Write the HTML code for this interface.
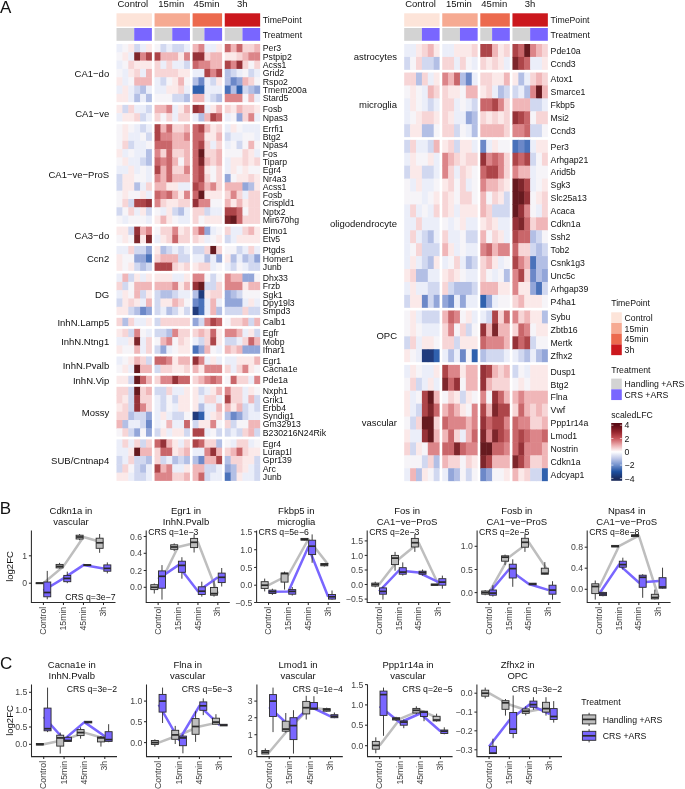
<!DOCTYPE html>
<html lang="en"><head><meta charset="utf-8"><title>Figure</title>
<style>html,body{margin:0;padding:0;background:#fff}svg{display:block;will-change:transform}</style></head>
<body>
<svg width="685" height="789" viewBox="0 0 685 789" font-family='"Liberation Sans", Arial, Helvetica, sans-serif' fill="#111">
<rect width="685" height="789" fill="#fff"/>
<g shape-rendering="crispEdges">
</g>
<text x="132.8" y="7.2" font-size="9.5" text-anchor="middle">Control</text>
<rect x="116.5" y="13.3" width="35.4" height="13.3" fill="#fde4d9"/>
<rect x="116.5" y="28" width="17.7" height="12.8" fill="#d3d3d3"/>
<rect x="134.2" y="28" width="17.7" height="12.8" fill="#7966ff"/>
<text x="171.25" y="7.2" font-size="9.5" text-anchor="middle">15min</text>
<rect x="154.55" y="13.3" width="35.4" height="13.3" fill="#f6aa92"/>
<rect x="154.55" y="28" width="17.7" height="12.8" fill="#d3d3d3"/>
<rect x="172.25" y="28" width="17.7" height="12.8" fill="#7966ff"/>
<text x="206.55" y="7.2" font-size="9.5" text-anchor="middle">45min</text>
<rect x="192.6" y="13.3" width="29.5" height="13.3" fill="#ec6a4e"/>
<rect x="192.6" y="28" width="11.8" height="12.8" fill="#d3d3d3"/>
<rect x="204.4" y="28" width="17.7" height="12.8" fill="#7966ff"/>
<text x="242.25" y="7.2" font-size="9.5" text-anchor="middle">3h</text>
<rect x="224.75" y="13.3" width="35.4" height="13.3" fill="#cb181d"/>
<rect x="224.75" y="28" width="17.7" height="12.8" fill="#d3d3d3"/>
<rect x="242.45" y="28" width="17.7" height="12.8" fill="#7966ff"/>
<text x="262.8" y="23.2" font-size="8.7">TimePoint</text>
<text x="262.8" y="37.6" font-size="8.7">Treatment</text>
<rect x="116.5" y="44" width="6.4" height="8.81" fill="#ebeef9"/>
<rect x="122.4" y="44" width="6.4" height="8.81" fill="#f6f4f8"/>
<rect x="128.3" y="44" width="6.4" height="8.81" fill="#fbe9e9"/>
<rect x="134.2" y="44" width="6.4" height="8.81" fill="#d1d8f0"/>
<rect x="140.1" y="44" width="6.4" height="8.81" fill="#ebeef9"/>
<rect x="146" y="44" width="5.9" height="8.81" fill="#fbe9e9"/>
<rect x="154.55" y="44" width="6.4" height="8.81" fill="#f6f4f8"/>
<rect x="160.45" y="44" width="6.4" height="8.81" fill="#d1d8f0"/>
<rect x="166.35" y="44" width="6.4" height="8.81" fill="#ebeef9"/>
<rect x="172.25" y="44" width="6.4" height="8.81" fill="#d1d8f0"/>
<rect x="178.15" y="44" width="6.4" height="8.81" fill="#d1d8f0"/>
<rect x="184.05" y="44" width="5.9" height="8.81" fill="#ebeef9"/>
<rect x="192.6" y="44" width="6.4" height="8.81" fill="#f0b6b8"/>
<rect x="198.5" y="44" width="6.4" height="8.81" fill="#dc8589"/>
<rect x="204.4" y="44" width="6.4" height="8.81" fill="#ebeef9"/>
<rect x="210.3" y="44" width="6.4" height="8.81" fill="#ebeef9"/>
<rect x="216.2" y="44" width="5.9" height="8.81" fill="#fbe9e9"/>
<rect x="224.75" y="44" width="6.4" height="8.81" fill="#c9666a"/>
<rect x="230.65" y="44" width="6.4" height="8.81" fill="#f0b6b8"/>
<rect x="236.55" y="44" width="6.4" height="8.81" fill="#c9666a"/>
<rect x="242.45" y="44" width="6.4" height="8.81" fill="#f7d5d6"/>
<rect x="248.35" y="44" width="6.4" height="8.81" fill="#f7d5d6"/>
<rect x="254.25" y="44" width="5.9" height="8.81" fill="#f0b6b8"/>
<text x="262.8" y="51.45" font-size="8.7">Per3</text>
<rect x="116.5" y="52.31" width="6.4" height="8.81" fill="#f6f4f8"/>
<rect x="122.4" y="52.31" width="6.4" height="8.81" fill="#fbe9e9"/>
<rect x="128.3" y="52.31" width="6.4" height="8.81" fill="#ebeef9"/>
<rect x="134.2" y="52.31" width="6.4" height="8.81" fill="#7e262b"/>
<rect x="140.1" y="52.31" width="6.4" height="8.81" fill="#dc8589"/>
<rect x="146" y="52.31" width="5.9" height="8.81" fill="#ad4549"/>
<rect x="154.55" y="52.31" width="6.4" height="8.81" fill="#ad4549"/>
<rect x="160.45" y="52.31" width="6.4" height="8.81" fill="#f0b6b8"/>
<rect x="166.35" y="52.31" width="6.4" height="8.81" fill="#f0b6b8"/>
<rect x="172.25" y="52.31" width="6.4" height="8.81" fill="#f0b6b8"/>
<rect x="178.15" y="52.31" width="6.4" height="8.81" fill="#fbe9e9"/>
<rect x="184.05" y="52.31" width="5.9" height="8.81" fill="#dc8589"/>
<rect x="192.6" y="52.31" width="6.4" height="8.81" fill="#963238"/>
<rect x="198.5" y="52.31" width="6.4" height="8.81" fill="#963238"/>
<rect x="204.4" y="52.31" width="6.4" height="8.81" fill="#f7d5d6"/>
<rect x="210.3" y="52.31" width="6.4" height="8.81" fill="#f0b6b8"/>
<rect x="216.2" y="52.31" width="5.9" height="8.81" fill="#f0b6b8"/>
<rect x="224.75" y="52.31" width="6.4" height="8.81" fill="#fbe9e9"/>
<rect x="230.65" y="52.31" width="6.4" height="8.81" fill="#fbe9e9"/>
<rect x="236.55" y="52.31" width="6.4" height="8.81" fill="#f7d5d6"/>
<rect x="242.45" y="52.31" width="6.4" height="8.81" fill="#f0b6b8"/>
<rect x="248.35" y="52.31" width="6.4" height="8.81" fill="#dc8589"/>
<rect x="254.25" y="52.31" width="5.9" height="8.81" fill="#dc8589"/>
<text x="262.8" y="59.77" font-size="8.7">Pstpip2</text>
<rect x="116.5" y="60.62" width="6.4" height="8.81" fill="#ebeef9"/>
<rect x="122.4" y="60.62" width="6.4" height="8.81" fill="#f6f4f8"/>
<rect x="128.3" y="60.62" width="6.4" height="8.81" fill="#f7d5d6"/>
<rect x="134.2" y="60.62" width="6.4" height="8.81" fill="#fbe9e9"/>
<rect x="140.1" y="60.62" width="6.4" height="8.81" fill="#fbe9e9"/>
<rect x="146" y="60.62" width="5.9" height="8.81" fill="#fbe9e9"/>
<rect x="154.55" y="60.62" width="6.4" height="8.81" fill="#f7d5d6"/>
<rect x="160.45" y="60.62" width="6.4" height="8.81" fill="#ebeef9"/>
<rect x="166.35" y="60.62" width="6.4" height="8.81" fill="#f7d5d6"/>
<rect x="172.25" y="60.62" width="6.4" height="8.81" fill="#ebeef9"/>
<rect x="178.15" y="60.62" width="6.4" height="8.81" fill="#ebeef9"/>
<rect x="184.05" y="60.62" width="5.9" height="8.81" fill="#d1d8f0"/>
<rect x="192.6" y="60.62" width="6.4" height="8.81" fill="#c9666a"/>
<rect x="198.5" y="60.62" width="6.4" height="8.81" fill="#dc8589"/>
<rect x="204.4" y="60.62" width="6.4" height="8.81" fill="#dc8589"/>
<rect x="210.3" y="60.62" width="6.4" height="8.81" fill="#f0b6b8"/>
<rect x="216.2" y="60.62" width="5.9" height="8.81" fill="#f0b6b8"/>
<rect x="224.75" y="60.62" width="6.4" height="8.81" fill="#ad4549"/>
<rect x="230.65" y="60.62" width="6.4" height="8.81" fill="#dc8589"/>
<rect x="236.55" y="60.62" width="6.4" height="8.81" fill="#963238"/>
<rect x="242.45" y="60.62" width="6.4" height="8.81" fill="#f7d5d6"/>
<rect x="248.35" y="60.62" width="6.4" height="8.81" fill="#f6f4f8"/>
<rect x="254.25" y="60.62" width="5.9" height="8.81" fill="#f7d5d6"/>
<text x="262.8" y="68.08" font-size="8.7">Acss1</text>
<rect x="116.5" y="68.93" width="6.4" height="8.81" fill="#f6f4f8"/>
<rect x="122.4" y="68.93" width="6.4" height="8.81" fill="#ebeef9"/>
<rect x="128.3" y="68.93" width="6.4" height="8.81" fill="#fbe9e9"/>
<rect x="134.2" y="68.93" width="6.4" height="8.81" fill="#f7d5d6"/>
<rect x="140.1" y="68.93" width="6.4" height="8.81" fill="#ebeef9"/>
<rect x="146" y="68.93" width="5.9" height="8.81" fill="#f0b6b8"/>
<rect x="154.55" y="68.93" width="6.4" height="8.81" fill="#f7d5d6"/>
<rect x="160.45" y="68.93" width="6.4" height="8.81" fill="#f7d5d6"/>
<rect x="166.35" y="68.93" width="6.4" height="8.81" fill="#f7d5d6"/>
<rect x="172.25" y="68.93" width="6.4" height="8.81" fill="#f7d5d6"/>
<rect x="178.15" y="68.93" width="6.4" height="8.81" fill="#fbe9e9"/>
<rect x="184.05" y="68.93" width="5.9" height="8.81" fill="#fbe9e9"/>
<rect x="192.6" y="68.93" width="6.4" height="8.81" fill="#ebeef9"/>
<rect x="198.5" y="68.93" width="6.4" height="8.81" fill="#ebeef9"/>
<rect x="204.4" y="68.93" width="6.4" height="8.81" fill="#ad4549"/>
<rect x="210.3" y="68.93" width="6.4" height="8.81" fill="#dc8589"/>
<rect x="216.2" y="68.93" width="5.9" height="8.81" fill="#ad4549"/>
<rect x="224.75" y="68.93" width="6.4" height="8.81" fill="#b3bfe5"/>
<rect x="230.65" y="68.93" width="6.4" height="8.81" fill="#d1d8f0"/>
<rect x="236.55" y="68.93" width="6.4" height="8.81" fill="#ebeef9"/>
<rect x="242.45" y="68.93" width="6.4" height="8.81" fill="#f6f4f8"/>
<rect x="248.35" y="68.93" width="6.4" height="8.81" fill="#d1d8f0"/>
<rect x="254.25" y="68.93" width="5.9" height="8.81" fill="#ebeef9"/>
<text x="262.8" y="76.39" font-size="8.7">Grid2</text>
<rect x="116.5" y="77.24" width="6.4" height="8.81" fill="#fbe9e9"/>
<rect x="122.4" y="77.24" width="6.4" height="8.81" fill="#ebeef9"/>
<rect x="128.3" y="77.24" width="6.4" height="8.81" fill="#f6f4f8"/>
<rect x="134.2" y="77.24" width="6.4" height="8.81" fill="#f0b6b8"/>
<rect x="140.1" y="77.24" width="6.4" height="8.81" fill="#f0b6b8"/>
<rect x="146" y="77.24" width="5.9" height="8.81" fill="#f0b6b8"/>
<rect x="154.55" y="77.24" width="6.4" height="8.81" fill="#ebeef9"/>
<rect x="160.45" y="77.24" width="6.4" height="8.81" fill="#d1d8f0"/>
<rect x="166.35" y="77.24" width="6.4" height="8.81" fill="#f6f4f8"/>
<rect x="172.25" y="77.24" width="6.4" height="8.81" fill="#fbe9e9"/>
<rect x="178.15" y="77.24" width="6.4" height="8.81" fill="#f0b6b8"/>
<rect x="184.05" y="77.24" width="5.9" height="8.81" fill="#f6f4f8"/>
<rect x="192.6" y="77.24" width="6.4" height="8.81" fill="#b3bfe5"/>
<rect x="198.5" y="77.24" width="6.4" height="8.81" fill="#6c88c8"/>
<rect x="204.4" y="77.24" width="6.4" height="8.81" fill="#ebeef9"/>
<rect x="210.3" y="77.24" width="6.4" height="8.81" fill="#d1d8f0"/>
<rect x="216.2" y="77.24" width="5.9" height="8.81" fill="#fbe9e9"/>
<rect x="224.75" y="77.24" width="6.4" height="8.81" fill="#b3bfe5"/>
<rect x="230.65" y="77.24" width="6.4" height="8.81" fill="#6c88c8"/>
<rect x="236.55" y="77.24" width="6.4" height="8.81" fill="#93a6d9"/>
<rect x="242.45" y="77.24" width="6.4" height="8.81" fill="#f0b6b8"/>
<rect x="248.35" y="77.24" width="6.4" height="8.81" fill="#f7d5d6"/>
<rect x="254.25" y="77.24" width="5.9" height="8.81" fill="#f6f4f8"/>
<text x="262.8" y="84.7" font-size="8.7">Rspo2</text>
<rect x="116.5" y="85.55" width="6.4" height="8.81" fill="#ebeef9"/>
<rect x="122.4" y="85.55" width="6.4" height="8.81" fill="#fbe9e9"/>
<rect x="128.3" y="85.55" width="6.4" height="8.81" fill="#ebeef9"/>
<rect x="134.2" y="85.55" width="6.4" height="8.81" fill="#d1d8f0"/>
<rect x="140.1" y="85.55" width="6.4" height="8.81" fill="#b3bfe5"/>
<rect x="146" y="85.55" width="5.9" height="8.81" fill="#ebeef9"/>
<rect x="154.55" y="85.55" width="6.4" height="8.81" fill="#ebeef9"/>
<rect x="160.45" y="85.55" width="6.4" height="8.81" fill="#ebeef9"/>
<rect x="166.35" y="85.55" width="6.4" height="8.81" fill="#fbe9e9"/>
<rect x="172.25" y="85.55" width="6.4" height="8.81" fill="#fbe9e9"/>
<rect x="178.15" y="85.55" width="6.4" height="8.81" fill="#f7d5d6"/>
<rect x="184.05" y="85.55" width="5.9" height="8.81" fill="#ebeef9"/>
<rect x="192.6" y="85.55" width="6.4" height="8.81" fill="#3061ae"/>
<rect x="198.5" y="85.55" width="6.4" height="8.81" fill="#3061ae"/>
<rect x="204.4" y="85.55" width="6.4" height="8.81" fill="#ebeef9"/>
<rect x="210.3" y="85.55" width="6.4" height="8.81" fill="#ebeef9"/>
<rect x="216.2" y="85.55" width="5.9" height="8.81" fill="#ebeef9"/>
<rect x="224.75" y="85.55" width="6.4" height="8.81" fill="#4a72ba"/>
<rect x="230.65" y="85.55" width="6.4" height="8.81" fill="#b3bfe5"/>
<rect x="236.55" y="85.55" width="6.4" height="8.81" fill="#3061ae"/>
<rect x="242.45" y="85.55" width="6.4" height="8.81" fill="#d1d8f0"/>
<rect x="248.35" y="85.55" width="6.4" height="8.81" fill="#b3bfe5"/>
<rect x="254.25" y="85.55" width="5.9" height="8.81" fill="#93a6d9"/>
<text x="262.8" y="93.01" font-size="8.7">Tmem200a</text>
<rect x="116.5" y="93.86" width="6.4" height="8.31" fill="#fbe9e9"/>
<rect x="122.4" y="93.86" width="6.4" height="8.31" fill="#fbe9e9"/>
<rect x="128.3" y="93.86" width="6.4" height="8.31" fill="#ebeef9"/>
<rect x="134.2" y="93.86" width="6.4" height="8.31" fill="#b3bfe5"/>
<rect x="140.1" y="93.86" width="6.4" height="8.31" fill="#ebeef9"/>
<rect x="146" y="93.86" width="5.9" height="8.31" fill="#b3bfe5"/>
<rect x="154.55" y="93.86" width="6.4" height="8.31" fill="#f6f4f8"/>
<rect x="160.45" y="93.86" width="6.4" height="8.31" fill="#f6f4f8"/>
<rect x="166.35" y="93.86" width="6.4" height="8.31" fill="#f6f4f8"/>
<rect x="172.25" y="93.86" width="6.4" height="8.31" fill="#d1d8f0"/>
<rect x="178.15" y="93.86" width="6.4" height="8.31" fill="#d1d8f0"/>
<rect x="184.05" y="93.86" width="5.9" height="8.31" fill="#b3bfe5"/>
<rect x="192.6" y="93.86" width="6.4" height="8.31" fill="#f0b6b8"/>
<rect x="198.5" y="93.86" width="6.4" height="8.31" fill="#f0b6b8"/>
<rect x="204.4" y="93.86" width="6.4" height="8.31" fill="#ebeef9"/>
<rect x="210.3" y="93.86" width="6.4" height="8.31" fill="#d1d8f0"/>
<rect x="216.2" y="93.86" width="5.9" height="8.31" fill="#b3bfe5"/>
<rect x="224.75" y="93.86" width="6.4" height="8.31" fill="#dc8589"/>
<rect x="230.65" y="93.86" width="6.4" height="8.31" fill="#dc8589"/>
<rect x="236.55" y="93.86" width="6.4" height="8.31" fill="#dc8589"/>
<rect x="242.45" y="93.86" width="6.4" height="8.31" fill="#f6f4f8"/>
<rect x="248.35" y="93.86" width="6.4" height="8.31" fill="#f0b6b8"/>
<rect x="254.25" y="93.86" width="5.9" height="8.31" fill="#ebeef9"/>
<text x="262.8" y="101.32" font-size="8.7">Stard5</text>
<text x="109.2" y="76.89" font-size="9.5" text-anchor="end">CA1−do</text>
<rect x="116.5" y="104.87" width="6.4" height="8.81" fill="#fbe9e9"/>
<rect x="122.4" y="104.87" width="6.4" height="8.81" fill="#d1d8f0"/>
<rect x="128.3" y="104.87" width="6.4" height="8.81" fill="#f7d5d6"/>
<rect x="134.2" y="104.87" width="6.4" height="8.81" fill="#ebeef9"/>
<rect x="140.1" y="104.87" width="6.4" height="8.81" fill="#ebeef9"/>
<rect x="146" y="104.87" width="5.9" height="8.81" fill="#d1d8f0"/>
<rect x="154.55" y="104.87" width="6.4" height="8.81" fill="#f0b6b8"/>
<rect x="160.45" y="104.87" width="6.4" height="8.81" fill="#f0b6b8"/>
<rect x="166.35" y="104.87" width="6.4" height="8.81" fill="#dc8589"/>
<rect x="172.25" y="104.87" width="6.4" height="8.81" fill="#ebeef9"/>
<rect x="178.15" y="104.87" width="6.4" height="8.81" fill="#fbe9e9"/>
<rect x="184.05" y="104.87" width="5.9" height="8.81" fill="#f0b6b8"/>
<rect x="192.6" y="104.87" width="6.4" height="8.81" fill="#963238"/>
<rect x="198.5" y="104.87" width="6.4" height="8.81" fill="#ad4549"/>
<rect x="204.4" y="104.87" width="6.4" height="8.81" fill="#ebeef9"/>
<rect x="210.3" y="104.87" width="6.4" height="8.81" fill="#fbe9e9"/>
<rect x="216.2" y="104.87" width="5.9" height="8.81" fill="#f0b6b8"/>
<rect x="224.75" y="104.87" width="6.4" height="8.81" fill="#f7d5d6"/>
<rect x="230.65" y="104.87" width="6.4" height="8.81" fill="#fbe9e9"/>
<rect x="236.55" y="104.87" width="6.4" height="8.81" fill="#f0b6b8"/>
<rect x="242.45" y="104.87" width="6.4" height="8.81" fill="#f7d5d6"/>
<rect x="248.35" y="104.87" width="6.4" height="8.81" fill="#f7d5d6"/>
<rect x="254.25" y="104.87" width="5.9" height="8.81" fill="#fbe9e9"/>
<text x="262.8" y="112.33" font-size="8.7">Fosb</text>
<rect x="116.5" y="113.18" width="6.4" height="8.31" fill="#ebeef9"/>
<rect x="122.4" y="113.18" width="6.4" height="8.31" fill="#fbe9e9"/>
<rect x="128.3" y="113.18" width="6.4" height="8.31" fill="#fbe9e9"/>
<rect x="134.2" y="113.18" width="6.4" height="8.31" fill="#f7d5d6"/>
<rect x="140.1" y="113.18" width="6.4" height="8.31" fill="#d1d8f0"/>
<rect x="146" y="113.18" width="5.9" height="8.31" fill="#ebeef9"/>
<rect x="154.55" y="113.18" width="6.4" height="8.31" fill="#f7d5d6"/>
<rect x="160.45" y="113.18" width="6.4" height="8.31" fill="#f6f4f8"/>
<rect x="166.35" y="113.18" width="6.4" height="8.31" fill="#f7d5d6"/>
<rect x="172.25" y="113.18" width="6.4" height="8.31" fill="#ebeef9"/>
<rect x="178.15" y="113.18" width="6.4" height="8.31" fill="#f7d5d6"/>
<rect x="184.05" y="113.18" width="5.9" height="8.31" fill="#f7d5d6"/>
<rect x="192.6" y="113.18" width="6.4" height="8.31" fill="#ebeef9"/>
<rect x="198.5" y="113.18" width="6.4" height="8.31" fill="#b3bfe5"/>
<rect x="204.4" y="113.18" width="6.4" height="8.31" fill="#f0b6b8"/>
<rect x="210.3" y="113.18" width="6.4" height="8.31" fill="#ad4549"/>
<rect x="216.2" y="113.18" width="5.9" height="8.31" fill="#c9666a"/>
<rect x="224.75" y="113.18" width="6.4" height="8.31" fill="#ebeef9"/>
<rect x="230.65" y="113.18" width="6.4" height="8.31" fill="#f6f4f8"/>
<rect x="236.55" y="113.18" width="6.4" height="8.31" fill="#93a6d9"/>
<rect x="242.45" y="113.18" width="6.4" height="8.31" fill="#f7d5d6"/>
<rect x="248.35" y="113.18" width="6.4" height="8.31" fill="#dc8589"/>
<rect x="254.25" y="113.18" width="5.9" height="8.31" fill="#ebeef9"/>
<text x="262.8" y="120.64" font-size="8.7">Npas3</text>
<text x="109.2" y="116.98" font-size="9.5" text-anchor="end">CA1−ve</text>
<rect x="116.5" y="124.19" width="6.4" height="8.81" fill="#f6f4f8"/>
<rect x="122.4" y="124.19" width="6.4" height="8.81" fill="#fbe9e9"/>
<rect x="128.3" y="124.19" width="6.4" height="8.81" fill="#f6f4f8"/>
<rect x="134.2" y="124.19" width="6.4" height="8.81" fill="#ebeef9"/>
<rect x="140.1" y="124.19" width="6.4" height="8.81" fill="#d1d8f0"/>
<rect x="146" y="124.19" width="5.9" height="8.81" fill="#ebeef9"/>
<rect x="154.55" y="124.19" width="6.4" height="8.81" fill="#ad4549"/>
<rect x="160.45" y="124.19" width="6.4" height="8.81" fill="#f0b6b8"/>
<rect x="166.35" y="124.19" width="6.4" height="8.81" fill="#c9666a"/>
<rect x="172.25" y="124.19" width="6.4" height="8.81" fill="#f7d5d6"/>
<rect x="178.15" y="124.19" width="6.4" height="8.81" fill="#f7d5d6"/>
<rect x="184.05" y="124.19" width="5.9" height="8.81" fill="#f0b6b8"/>
<rect x="192.6" y="124.19" width="6.4" height="8.81" fill="#c9666a"/>
<rect x="198.5" y="124.19" width="6.4" height="8.81" fill="#ad4549"/>
<rect x="204.4" y="124.19" width="6.4" height="8.81" fill="#f0b6b8"/>
<rect x="210.3" y="124.19" width="6.4" height="8.81" fill="#fbe9e9"/>
<rect x="216.2" y="124.19" width="5.9" height="8.81" fill="#f7d5d6"/>
<rect x="224.75" y="124.19" width="6.4" height="8.81" fill="#ebeef9"/>
<rect x="230.65" y="124.19" width="6.4" height="8.81" fill="#fbe9e9"/>
<rect x="236.55" y="124.19" width="6.4" height="8.81" fill="#f6f4f8"/>
<rect x="242.45" y="124.19" width="6.4" height="8.81" fill="#ebeef9"/>
<rect x="248.35" y="124.19" width="6.4" height="8.81" fill="#ebeef9"/>
<rect x="254.25" y="124.19" width="5.9" height="8.81" fill="#ebeef9"/>
<text x="262.8" y="131.65" font-size="8.7">Errfi1</text>
<rect x="116.5" y="132.5" width="6.4" height="8.81" fill="#f6f4f8"/>
<rect x="122.4" y="132.5" width="6.4" height="8.81" fill="#fbe9e9"/>
<rect x="128.3" y="132.5" width="6.4" height="8.81" fill="#ebeef9"/>
<rect x="134.2" y="132.5" width="6.4" height="8.81" fill="#ebeef9"/>
<rect x="140.1" y="132.5" width="6.4" height="8.81" fill="#f6f4f8"/>
<rect x="146" y="132.5" width="5.9" height="8.81" fill="#d1d8f0"/>
<rect x="154.55" y="132.5" width="6.4" height="8.81" fill="#ad4549"/>
<rect x="160.45" y="132.5" width="6.4" height="8.81" fill="#dc8589"/>
<rect x="166.35" y="132.5" width="6.4" height="8.81" fill="#dc8589"/>
<rect x="172.25" y="132.5" width="6.4" height="8.81" fill="#f0b6b8"/>
<rect x="178.15" y="132.5" width="6.4" height="8.81" fill="#f0b6b8"/>
<rect x="184.05" y="132.5" width="5.9" height="8.81" fill="#dc8589"/>
<rect x="192.6" y="132.5" width="6.4" height="8.81" fill="#c9666a"/>
<rect x="198.5" y="132.5" width="6.4" height="8.81" fill="#c9666a"/>
<rect x="204.4" y="132.5" width="6.4" height="8.81" fill="#fbe9e9"/>
<rect x="210.3" y="132.5" width="6.4" height="8.81" fill="#fbe9e9"/>
<rect x="216.2" y="132.5" width="5.9" height="8.81" fill="#f0b6b8"/>
<rect x="224.75" y="132.5" width="6.4" height="8.81" fill="#d1d8f0"/>
<rect x="230.65" y="132.5" width="6.4" height="8.81" fill="#ebeef9"/>
<rect x="236.55" y="132.5" width="6.4" height="8.81" fill="#ebeef9"/>
<rect x="242.45" y="132.5" width="6.4" height="8.81" fill="#f6f4f8"/>
<rect x="248.35" y="132.5" width="6.4" height="8.81" fill="#f6f4f8"/>
<rect x="254.25" y="132.5" width="5.9" height="8.81" fill="#ebeef9"/>
<text x="262.8" y="139.96" font-size="8.7">Btg2</text>
<rect x="116.5" y="140.81" width="6.4" height="8.81" fill="#f6f4f8"/>
<rect x="122.4" y="140.81" width="6.4" height="8.81" fill="#f7d5d6"/>
<rect x="128.3" y="140.81" width="6.4" height="8.81" fill="#d1d8f0"/>
<rect x="134.2" y="140.81" width="6.4" height="8.81" fill="#ebeef9"/>
<rect x="140.1" y="140.81" width="6.4" height="8.81" fill="#ebeef9"/>
<rect x="146" y="140.81" width="5.9" height="8.81" fill="#f6f4f8"/>
<rect x="154.55" y="140.81" width="6.4" height="8.81" fill="#c9666a"/>
<rect x="160.45" y="140.81" width="6.4" height="8.81" fill="#c9666a"/>
<rect x="166.35" y="140.81" width="6.4" height="8.81" fill="#c9666a"/>
<rect x="172.25" y="140.81" width="6.4" height="8.81" fill="#f0b6b8"/>
<rect x="178.15" y="140.81" width="6.4" height="8.81" fill="#f0b6b8"/>
<rect x="184.05" y="140.81" width="5.9" height="8.81" fill="#f0b6b8"/>
<rect x="192.6" y="140.81" width="6.4" height="8.81" fill="#c9666a"/>
<rect x="198.5" y="140.81" width="6.4" height="8.81" fill="#ad4549"/>
<rect x="204.4" y="140.81" width="6.4" height="8.81" fill="#f7d5d6"/>
<rect x="210.3" y="140.81" width="6.4" height="8.81" fill="#ebeef9"/>
<rect x="216.2" y="140.81" width="5.9" height="8.81" fill="#f7d5d6"/>
<rect x="224.75" y="140.81" width="6.4" height="8.81" fill="#ebeef9"/>
<rect x="230.65" y="140.81" width="6.4" height="8.81" fill="#f6f4f8"/>
<rect x="236.55" y="140.81" width="6.4" height="8.81" fill="#d1d8f0"/>
<rect x="242.45" y="140.81" width="6.4" height="8.81" fill="#f6f4f8"/>
<rect x="248.35" y="140.81" width="6.4" height="8.81" fill="#f0b6b8"/>
<rect x="254.25" y="140.81" width="5.9" height="8.81" fill="#f6f4f8"/>
<text x="262.8" y="148.27" font-size="8.7">Npas4</text>
<rect x="116.5" y="149.12" width="6.4" height="8.81" fill="#fbe9e9"/>
<rect x="122.4" y="149.12" width="6.4" height="8.81" fill="#ebeef9"/>
<rect x="128.3" y="149.12" width="6.4" height="8.81" fill="#f6f4f8"/>
<rect x="134.2" y="149.12" width="6.4" height="8.81" fill="#ebeef9"/>
<rect x="140.1" y="149.12" width="6.4" height="8.81" fill="#ebeef9"/>
<rect x="146" y="149.12" width="5.9" height="8.81" fill="#b3bfe5"/>
<rect x="154.55" y="149.12" width="6.4" height="8.81" fill="#dc8589"/>
<rect x="160.45" y="149.12" width="6.4" height="8.81" fill="#f7d5d6"/>
<rect x="166.35" y="149.12" width="6.4" height="8.81" fill="#c9666a"/>
<rect x="172.25" y="149.12" width="6.4" height="8.81" fill="#f7d5d6"/>
<rect x="178.15" y="149.12" width="6.4" height="8.81" fill="#f7d5d6"/>
<rect x="184.05" y="149.12" width="5.9" height="8.81" fill="#f0b6b8"/>
<rect x="192.6" y="149.12" width="6.4" height="8.81" fill="#c9666a"/>
<rect x="198.5" y="149.12" width="6.4" height="8.81" fill="#661a1f"/>
<rect x="204.4" y="149.12" width="6.4" height="8.81" fill="#f7d5d6"/>
<rect x="210.3" y="149.12" width="6.4" height="8.81" fill="#f7d5d6"/>
<rect x="216.2" y="149.12" width="5.9" height="8.81" fill="#f0b6b8"/>
<rect x="224.75" y="149.12" width="6.4" height="8.81" fill="#f6f4f8"/>
<rect x="230.65" y="149.12" width="6.4" height="8.81" fill="#f6f4f8"/>
<rect x="236.55" y="149.12" width="6.4" height="8.81" fill="#f6f4f8"/>
<rect x="242.45" y="149.12" width="6.4" height="8.81" fill="#f7d5d6"/>
<rect x="248.35" y="149.12" width="6.4" height="8.81" fill="#fbe9e9"/>
<rect x="254.25" y="149.12" width="5.9" height="8.81" fill="#ebeef9"/>
<text x="262.8" y="156.58" font-size="8.7">Fos</text>
<rect x="116.5" y="157.43" width="6.4" height="8.81" fill="#f6f4f8"/>
<rect x="122.4" y="157.43" width="6.4" height="8.81" fill="#fbe9e9"/>
<rect x="128.3" y="157.43" width="6.4" height="8.81" fill="#ebeef9"/>
<rect x="134.2" y="157.43" width="6.4" height="8.81" fill="#ebeef9"/>
<rect x="140.1" y="157.43" width="6.4" height="8.81" fill="#d1d8f0"/>
<rect x="146" y="157.43" width="5.9" height="8.81" fill="#b3bfe5"/>
<rect x="154.55" y="157.43" width="6.4" height="8.81" fill="#c9666a"/>
<rect x="160.45" y="157.43" width="6.4" height="8.81" fill="#dc8589"/>
<rect x="166.35" y="157.43" width="6.4" height="8.81" fill="#c9666a"/>
<rect x="172.25" y="157.43" width="6.4" height="8.81" fill="#f0b6b8"/>
<rect x="178.15" y="157.43" width="6.4" height="8.81" fill="#f6f4f8"/>
<rect x="184.05" y="157.43" width="5.9" height="8.81" fill="#f0b6b8"/>
<rect x="192.6" y="157.43" width="6.4" height="8.81" fill="#c9666a"/>
<rect x="198.5" y="157.43" width="6.4" height="8.81" fill="#7e262b"/>
<rect x="204.4" y="157.43" width="6.4" height="8.81" fill="#f0b6b8"/>
<rect x="210.3" y="157.43" width="6.4" height="8.81" fill="#f7d5d6"/>
<rect x="216.2" y="157.43" width="5.9" height="8.81" fill="#f0b6b8"/>
<rect x="224.75" y="157.43" width="6.4" height="8.81" fill="#ebeef9"/>
<rect x="230.65" y="157.43" width="6.4" height="8.81" fill="#fbe9e9"/>
<rect x="236.55" y="157.43" width="6.4" height="8.81" fill="#fbe9e9"/>
<rect x="242.45" y="157.43" width="6.4" height="8.81" fill="#f7d5d6"/>
<rect x="248.35" y="157.43" width="6.4" height="8.81" fill="#fbe9e9"/>
<rect x="254.25" y="157.43" width="5.9" height="8.81" fill="#f7d5d6"/>
<text x="262.8" y="164.89" font-size="8.7">Tiparp</text>
<rect x="116.5" y="165.74" width="6.4" height="8.81" fill="#ebeef9"/>
<rect x="122.4" y="165.74" width="6.4" height="8.81" fill="#ebeef9"/>
<rect x="128.3" y="165.74" width="6.4" height="8.81" fill="#fbe9e9"/>
<rect x="134.2" y="165.74" width="6.4" height="8.81" fill="#ebeef9"/>
<rect x="140.1" y="165.74" width="6.4" height="8.81" fill="#f6f4f8"/>
<rect x="146" y="165.74" width="5.9" height="8.81" fill="#ebeef9"/>
<rect x="154.55" y="165.74" width="6.4" height="8.81" fill="#ad4549"/>
<rect x="160.45" y="165.74" width="6.4" height="8.81" fill="#f0b6b8"/>
<rect x="166.35" y="165.74" width="6.4" height="8.81" fill="#c9666a"/>
<rect x="172.25" y="165.74" width="6.4" height="8.81" fill="#f7d5d6"/>
<rect x="178.15" y="165.74" width="6.4" height="8.81" fill="#f7d5d6"/>
<rect x="184.05" y="165.74" width="5.9" height="8.81" fill="#dc8589"/>
<rect x="192.6" y="165.74" width="6.4" height="8.81" fill="#c9666a"/>
<rect x="198.5" y="165.74" width="6.4" height="8.81" fill="#ad4549"/>
<rect x="204.4" y="165.74" width="6.4" height="8.81" fill="#fbe9e9"/>
<rect x="210.3" y="165.74" width="6.4" height="8.81" fill="#f6f4f8"/>
<rect x="216.2" y="165.74" width="5.9" height="8.81" fill="#f7d5d6"/>
<rect x="224.75" y="165.74" width="6.4" height="8.81" fill="#ebeef9"/>
<rect x="230.65" y="165.74" width="6.4" height="8.81" fill="#fbe9e9"/>
<rect x="236.55" y="165.74" width="6.4" height="8.81" fill="#f6f4f8"/>
<rect x="242.45" y="165.74" width="6.4" height="8.81" fill="#fbe9e9"/>
<rect x="248.35" y="165.74" width="6.4" height="8.81" fill="#f6f4f8"/>
<rect x="254.25" y="165.74" width="5.9" height="8.81" fill="#f6f4f8"/>
<text x="262.8" y="173.2" font-size="8.7">Egr4</text>
<rect x="116.5" y="174.05" width="6.4" height="8.81" fill="#d1d8f0"/>
<rect x="122.4" y="174.05" width="6.4" height="8.81" fill="#fbe9e9"/>
<rect x="128.3" y="174.05" width="6.4" height="8.81" fill="#fbe9e9"/>
<rect x="134.2" y="174.05" width="6.4" height="8.81" fill="#f6f4f8"/>
<rect x="140.1" y="174.05" width="6.4" height="8.81" fill="#f6f4f8"/>
<rect x="146" y="174.05" width="5.9" height="8.81" fill="#ebeef9"/>
<rect x="154.55" y="174.05" width="6.4" height="8.81" fill="#dc8589"/>
<rect x="160.45" y="174.05" width="6.4" height="8.81" fill="#f0b6b8"/>
<rect x="166.35" y="174.05" width="6.4" height="8.81" fill="#c9666a"/>
<rect x="172.25" y="174.05" width="6.4" height="8.81" fill="#f0b6b8"/>
<rect x="178.15" y="174.05" width="6.4" height="8.81" fill="#f0b6b8"/>
<rect x="184.05" y="174.05" width="5.9" height="8.81" fill="#f0b6b8"/>
<rect x="192.6" y="174.05" width="6.4" height="8.81" fill="#c9666a"/>
<rect x="198.5" y="174.05" width="6.4" height="8.81" fill="#ad4549"/>
<rect x="204.4" y="174.05" width="6.4" height="8.81" fill="#f7d5d6"/>
<rect x="210.3" y="174.05" width="6.4" height="8.81" fill="#f6f4f8"/>
<rect x="216.2" y="174.05" width="5.9" height="8.81" fill="#f7d5d6"/>
<rect x="224.75" y="174.05" width="6.4" height="8.81" fill="#93a6d9"/>
<rect x="230.65" y="174.05" width="6.4" height="8.81" fill="#f6f4f8"/>
<rect x="236.55" y="174.05" width="6.4" height="8.81" fill="#fbe9e9"/>
<rect x="242.45" y="174.05" width="6.4" height="8.81" fill="#fbe9e9"/>
<rect x="248.35" y="174.05" width="6.4" height="8.81" fill="#f7d5d6"/>
<rect x="254.25" y="174.05" width="5.9" height="8.81" fill="#fbe9e9"/>
<text x="262.8" y="181.51" font-size="8.7">Nr4a3</text>
<rect x="116.5" y="182.36" width="6.4" height="8.81" fill="#d1d8f0"/>
<rect x="122.4" y="182.36" width="6.4" height="8.81" fill="#fbe9e9"/>
<rect x="128.3" y="182.36" width="6.4" height="8.81" fill="#fbe9e9"/>
<rect x="134.2" y="182.36" width="6.4" height="8.81" fill="#b3bfe5"/>
<rect x="140.1" y="182.36" width="6.4" height="8.81" fill="#ebeef9"/>
<rect x="146" y="182.36" width="5.9" height="8.81" fill="#f7d5d6"/>
<rect x="154.55" y="182.36" width="6.4" height="8.81" fill="#f0b6b8"/>
<rect x="160.45" y="182.36" width="6.4" height="8.81" fill="#f0b6b8"/>
<rect x="166.35" y="182.36" width="6.4" height="8.81" fill="#fbe9e9"/>
<rect x="172.25" y="182.36" width="6.4" height="8.81" fill="#fbe9e9"/>
<rect x="178.15" y="182.36" width="6.4" height="8.81" fill="#ebeef9"/>
<rect x="184.05" y="182.36" width="5.9" height="8.81" fill="#ebeef9"/>
<rect x="192.6" y="182.36" width="6.4" height="8.81" fill="#ad4549"/>
<rect x="198.5" y="182.36" width="6.4" height="8.81" fill="#c9666a"/>
<rect x="204.4" y="182.36" width="6.4" height="8.81" fill="#f0b6b8"/>
<rect x="210.3" y="182.36" width="6.4" height="8.81" fill="#dc8589"/>
<rect x="216.2" y="182.36" width="5.9" height="8.81" fill="#f7d5d6"/>
<rect x="224.75" y="182.36" width="6.4" height="8.81" fill="#f0b6b8"/>
<rect x="230.65" y="182.36" width="6.4" height="8.81" fill="#f0b6b8"/>
<rect x="236.55" y="182.36" width="6.4" height="8.81" fill="#f0b6b8"/>
<rect x="242.45" y="182.36" width="6.4" height="8.81" fill="#93a6d9"/>
<rect x="248.35" y="182.36" width="6.4" height="8.81" fill="#b3bfe5"/>
<rect x="254.25" y="182.36" width="5.9" height="8.81" fill="#fbe9e9"/>
<text x="262.8" y="189.82" font-size="8.7">Acss1</text>
<rect x="116.5" y="190.67" width="6.4" height="8.81" fill="#f6f4f8"/>
<rect x="122.4" y="190.67" width="6.4" height="8.81" fill="#fbe9e9"/>
<rect x="128.3" y="190.67" width="6.4" height="8.81" fill="#f6f4f8"/>
<rect x="134.2" y="190.67" width="6.4" height="8.81" fill="#f6f4f8"/>
<rect x="140.1" y="190.67" width="6.4" height="8.81" fill="#fbe9e9"/>
<rect x="146" y="190.67" width="5.9" height="8.81" fill="#ebeef9"/>
<rect x="154.55" y="190.67" width="6.4" height="8.81" fill="#c9666a"/>
<rect x="160.45" y="190.67" width="6.4" height="8.81" fill="#dc8589"/>
<rect x="166.35" y="190.67" width="6.4" height="8.81" fill="#c9666a"/>
<rect x="172.25" y="190.67" width="6.4" height="8.81" fill="#f0b6b8"/>
<rect x="178.15" y="190.67" width="6.4" height="8.81" fill="#fbe9e9"/>
<rect x="184.05" y="190.67" width="5.9" height="8.81" fill="#dc8589"/>
<rect x="192.6" y="190.67" width="6.4" height="8.81" fill="#c9666a"/>
<rect x="198.5" y="190.67" width="6.4" height="8.81" fill="#661a1f"/>
<rect x="204.4" y="190.67" width="6.4" height="8.81" fill="#fbe9e9"/>
<rect x="210.3" y="190.67" width="6.4" height="8.81" fill="#fbe9e9"/>
<rect x="216.2" y="190.67" width="5.9" height="8.81" fill="#fbe9e9"/>
<rect x="224.75" y="190.67" width="6.4" height="8.81" fill="#f7d5d6"/>
<rect x="230.65" y="190.67" width="6.4" height="8.81" fill="#dc8589"/>
<rect x="236.55" y="190.67" width="6.4" height="8.81" fill="#f7d5d6"/>
<rect x="242.45" y="190.67" width="6.4" height="8.81" fill="#ebeef9"/>
<rect x="248.35" y="190.67" width="6.4" height="8.81" fill="#f7d5d6"/>
<rect x="254.25" y="190.67" width="5.9" height="8.81" fill="#f7d5d6"/>
<text x="262.8" y="198.13" font-size="8.7">Fosb</text>
<rect x="116.5" y="198.98" width="6.4" height="8.81" fill="#f6f4f8"/>
<rect x="122.4" y="198.98" width="6.4" height="8.81" fill="#f7d5d6"/>
<rect x="128.3" y="198.98" width="6.4" height="8.81" fill="#d1d8f0"/>
<rect x="134.2" y="198.98" width="6.4" height="8.81" fill="#ad4549"/>
<rect x="140.1" y="198.98" width="6.4" height="8.81" fill="#ad4549"/>
<rect x="146" y="198.98" width="5.9" height="8.81" fill="#963238"/>
<rect x="154.55" y="198.98" width="6.4" height="8.81" fill="#dc8589"/>
<rect x="160.45" y="198.98" width="6.4" height="8.81" fill="#f7d5d6"/>
<rect x="166.35" y="198.98" width="6.4" height="8.81" fill="#fbe9e9"/>
<rect x="172.25" y="198.98" width="6.4" height="8.81" fill="#fbe9e9"/>
<rect x="178.15" y="198.98" width="6.4" height="8.81" fill="#f7d5d6"/>
<rect x="184.05" y="198.98" width="5.9" height="8.81" fill="#f7d5d6"/>
<rect x="192.6" y="198.98" width="6.4" height="8.81" fill="#963238"/>
<rect x="198.5" y="198.98" width="6.4" height="8.81" fill="#dc8589"/>
<rect x="204.4" y="198.98" width="6.4" height="8.81" fill="#dc8589"/>
<rect x="210.3" y="198.98" width="6.4" height="8.81" fill="#f6f4f8"/>
<rect x="216.2" y="198.98" width="5.9" height="8.81" fill="#f6f4f8"/>
<rect x="224.75" y="198.98" width="6.4" height="8.81" fill="#f0b6b8"/>
<rect x="230.65" y="198.98" width="6.4" height="8.81" fill="#fbe9e9"/>
<rect x="236.55" y="198.98" width="6.4" height="8.81" fill="#f0b6b8"/>
<rect x="242.45" y="198.98" width="6.4" height="8.81" fill="#fbe9e9"/>
<rect x="248.35" y="198.98" width="6.4" height="8.81" fill="#f7d5d6"/>
<rect x="254.25" y="198.98" width="5.9" height="8.81" fill="#f7d5d6"/>
<text x="262.8" y="206.44" font-size="8.7">Crispld1</text>
<rect x="116.5" y="207.29" width="6.4" height="8.81" fill="#d1d8f0"/>
<rect x="122.4" y="207.29" width="6.4" height="8.81" fill="#f6f4f8"/>
<rect x="128.3" y="207.29" width="6.4" height="8.81" fill="#f7d5d6"/>
<rect x="134.2" y="207.29" width="6.4" height="8.81" fill="#ebeef9"/>
<rect x="140.1" y="207.29" width="6.4" height="8.81" fill="#fbe9e9"/>
<rect x="146" y="207.29" width="5.9" height="8.81" fill="#d1d8f0"/>
<rect x="154.55" y="207.29" width="6.4" height="8.81" fill="#f6f4f8"/>
<rect x="160.45" y="207.29" width="6.4" height="8.81" fill="#ebeef9"/>
<rect x="166.35" y="207.29" width="6.4" height="8.81" fill="#fbe9e9"/>
<rect x="172.25" y="207.29" width="6.4" height="8.81" fill="#d1d8f0"/>
<rect x="178.15" y="207.29" width="6.4" height="8.81" fill="#b3bfe5"/>
<rect x="184.05" y="207.29" width="5.9" height="8.81" fill="#ebeef9"/>
<rect x="192.6" y="207.29" width="6.4" height="8.81" fill="#f7d5d6"/>
<rect x="198.5" y="207.29" width="6.4" height="8.81" fill="#f7d5d6"/>
<rect x="204.4" y="207.29" width="6.4" height="8.81" fill="#d1d8f0"/>
<rect x="210.3" y="207.29" width="6.4" height="8.81" fill="#ebeef9"/>
<rect x="216.2" y="207.29" width="5.9" height="8.81" fill="#ebeef9"/>
<rect x="224.75" y="207.29" width="6.4" height="8.81" fill="#ad4549"/>
<rect x="230.65" y="207.29" width="6.4" height="8.81" fill="#ad4549"/>
<rect x="236.55" y="207.29" width="6.4" height="8.81" fill="#c9666a"/>
<rect x="242.45" y="207.29" width="6.4" height="8.81" fill="#f6f4f8"/>
<rect x="248.35" y="207.29" width="6.4" height="8.81" fill="#f7d5d6"/>
<rect x="254.25" y="207.29" width="5.9" height="8.81" fill="#f7d5d6"/>
<text x="262.8" y="214.75" font-size="8.7">Nptx2</text>
<rect x="116.5" y="215.6" width="6.4" height="8.31" fill="#f6f4f8"/>
<rect x="122.4" y="215.6" width="6.4" height="8.31" fill="#ebeef9"/>
<rect x="128.3" y="215.6" width="6.4" height="8.31" fill="#f6f4f8"/>
<rect x="134.2" y="215.6" width="6.4" height="8.31" fill="#f6f4f8"/>
<rect x="140.1" y="215.6" width="6.4" height="8.31" fill="#f6f4f8"/>
<rect x="146" y="215.6" width="5.9" height="8.31" fill="#ebeef9"/>
<rect x="154.55" y="215.6" width="6.4" height="8.31" fill="#fbe9e9"/>
<rect x="160.45" y="215.6" width="6.4" height="8.31" fill="#f0b6b8"/>
<rect x="166.35" y="215.6" width="6.4" height="8.31" fill="#fbe9e9"/>
<rect x="172.25" y="215.6" width="6.4" height="8.31" fill="#f6f4f8"/>
<rect x="178.15" y="215.6" width="6.4" height="8.31" fill="#ebeef9"/>
<rect x="184.05" y="215.6" width="5.9" height="8.31" fill="#ebeef9"/>
<rect x="192.6" y="215.6" width="6.4" height="8.31" fill="#f7d5d6"/>
<rect x="198.5" y="215.6" width="6.4" height="8.31" fill="#f6f4f8"/>
<rect x="204.4" y="215.6" width="6.4" height="8.31" fill="#fbe9e9"/>
<rect x="210.3" y="215.6" width="6.4" height="8.31" fill="#fbe9e9"/>
<rect x="216.2" y="215.6" width="5.9" height="8.31" fill="#fbe9e9"/>
<rect x="224.75" y="215.6" width="6.4" height="8.31" fill="#7e262b"/>
<rect x="230.65" y="215.6" width="6.4" height="8.31" fill="#661a1f"/>
<rect x="236.55" y="215.6" width="6.4" height="8.31" fill="#c9666a"/>
<rect x="242.45" y="215.6" width="6.4" height="8.31" fill="#f7d5d6"/>
<rect x="248.35" y="215.6" width="6.4" height="8.31" fill="#f7d5d6"/>
<rect x="254.25" y="215.6" width="5.9" height="8.31" fill="#f7d5d6"/>
<text x="262.8" y="223.06" font-size="8.7">Mir670hg</text>
<text x="109.2" y="177.85" font-size="9.5" text-anchor="end">CA1−ve−ProS</text>
<rect x="116.5" y="226.61" width="6.4" height="8.81" fill="#fbe9e9"/>
<rect x="122.4" y="226.61" width="6.4" height="8.81" fill="#fbe9e9"/>
<rect x="128.3" y="226.61" width="6.4" height="8.81" fill="#d1d8f0"/>
<rect x="134.2" y="226.61" width="6.4" height="8.81" fill="#963238"/>
<rect x="140.1" y="226.61" width="6.4" height="8.81" fill="#f0b6b8"/>
<rect x="146" y="226.61" width="5.9" height="8.81" fill="#dc8589"/>
<rect x="154.55" y="226.61" width="6.4" height="8.81" fill="#f6f4f8"/>
<rect x="160.45" y="226.61" width="6.4" height="8.81" fill="#f7d5d6"/>
<rect x="166.35" y="226.61" width="6.4" height="8.81" fill="#f7d5d6"/>
<rect x="172.25" y="226.61" width="6.4" height="8.81" fill="#dc8589"/>
<rect x="178.15" y="226.61" width="6.4" height="8.81" fill="#fbe9e9"/>
<rect x="184.05" y="226.61" width="5.9" height="8.81" fill="#f7d5d6"/>
<rect x="192.6" y="226.61" width="6.4" height="8.81" fill="#f0b6b8"/>
<rect x="198.5" y="226.61" width="6.4" height="8.81" fill="#c9666a"/>
<rect x="204.4" y="226.61" width="6.4" height="8.81" fill="#93a6d9"/>
<rect x="210.3" y="226.61" width="6.4" height="8.81" fill="#ebeef9"/>
<rect x="216.2" y="226.61" width="5.9" height="8.81" fill="#f6f4f8"/>
<rect x="224.75" y="226.61" width="6.4" height="8.81" fill="#f7d5d6"/>
<rect x="230.65" y="226.61" width="6.4" height="8.81" fill="#ebeef9"/>
<rect x="236.55" y="226.61" width="6.4" height="8.81" fill="#ebeef9"/>
<rect x="242.45" y="226.61" width="6.4" height="8.81" fill="#f7d5d6"/>
<rect x="248.35" y="226.61" width="6.4" height="8.81" fill="#f0b6b8"/>
<rect x="254.25" y="226.61" width="5.9" height="8.81" fill="#fbe9e9"/>
<text x="262.8" y="234.07" font-size="8.7">Elmo1</text>
<rect x="116.5" y="234.92" width="6.4" height="8.31" fill="#f6f4f8"/>
<rect x="122.4" y="234.92" width="6.4" height="8.31" fill="#fbe9e9"/>
<rect x="128.3" y="234.92" width="6.4" height="8.31" fill="#f6f4f8"/>
<rect x="134.2" y="234.92" width="6.4" height="8.31" fill="#7e262b"/>
<rect x="140.1" y="234.92" width="6.4" height="8.31" fill="#fbe9e9"/>
<rect x="146" y="234.92" width="5.9" height="8.31" fill="#7e262b"/>
<rect x="154.55" y="234.92" width="6.4" height="8.31" fill="#ebeef9"/>
<rect x="160.45" y="234.92" width="6.4" height="8.31" fill="#fbe9e9"/>
<rect x="166.35" y="234.92" width="6.4" height="8.31" fill="#f7d5d6"/>
<rect x="172.25" y="234.92" width="6.4" height="8.31" fill="#c9666a"/>
<rect x="178.15" y="234.92" width="6.4" height="8.31" fill="#f7d5d6"/>
<rect x="184.05" y="234.92" width="5.9" height="8.31" fill="#f7d5d6"/>
<rect x="192.6" y="234.92" width="6.4" height="8.31" fill="#f7d5d6"/>
<rect x="198.5" y="234.92" width="6.4" height="8.31" fill="#fbe9e9"/>
<rect x="204.4" y="234.92" width="6.4" height="8.31" fill="#ebeef9"/>
<rect x="210.3" y="234.92" width="6.4" height="8.31" fill="#f6f4f8"/>
<rect x="216.2" y="234.92" width="5.9" height="8.31" fill="#fbe9e9"/>
<rect x="224.75" y="234.92" width="6.4" height="8.31" fill="#d1d8f0"/>
<rect x="230.65" y="234.92" width="6.4" height="8.31" fill="#ebeef9"/>
<rect x="236.55" y="234.92" width="6.4" height="8.31" fill="#fbe9e9"/>
<rect x="242.45" y="234.92" width="6.4" height="8.31" fill="#fbe9e9"/>
<rect x="248.35" y="234.92" width="6.4" height="8.31" fill="#fbe9e9"/>
<rect x="254.25" y="234.92" width="5.9" height="8.31" fill="#fbe9e9"/>
<text x="262.8" y="242.38" font-size="8.7">Etv5</text>
<text x="109.2" y="238.72" font-size="9.5" text-anchor="end">CA3−do</text>
<rect x="116.5" y="245.93" width="6.4" height="8.81" fill="#ebeef9"/>
<rect x="122.4" y="245.93" width="6.4" height="8.81" fill="#ebeef9"/>
<rect x="128.3" y="245.93" width="6.4" height="8.81" fill="#f7d5d6"/>
<rect x="134.2" y="245.93" width="6.4" height="8.81" fill="#d1d8f0"/>
<rect x="140.1" y="245.93" width="6.4" height="8.81" fill="#d1d8f0"/>
<rect x="146" y="245.93" width="5.9" height="8.81" fill="#93a6d9"/>
<rect x="154.55" y="245.93" width="6.4" height="8.81" fill="#fbe9e9"/>
<rect x="160.45" y="245.93" width="6.4" height="8.81" fill="#b3bfe5"/>
<rect x="166.35" y="245.93" width="6.4" height="8.81" fill="#d1d8f0"/>
<rect x="172.25" y="245.93" width="6.4" height="8.81" fill="#ebeef9"/>
<rect x="178.15" y="245.93" width="6.4" height="8.81" fill="#d1d8f0"/>
<rect x="184.05" y="245.93" width="5.9" height="8.81" fill="#ebeef9"/>
<rect x="192.6" y="245.93" width="6.4" height="8.81" fill="#d1d8f0"/>
<rect x="198.5" y="245.93" width="6.4" height="8.81" fill="#d1d8f0"/>
<rect x="204.4" y="245.93" width="6.4" height="8.81" fill="#f7d5d6"/>
<rect x="210.3" y="245.93" width="6.4" height="8.81" fill="#661a1f"/>
<rect x="216.2" y="245.93" width="5.9" height="8.81" fill="#f7d5d6"/>
<rect x="224.75" y="245.93" width="6.4" height="8.81" fill="#f6f4f8"/>
<rect x="230.65" y="245.93" width="6.4" height="8.81" fill="#f6f4f8"/>
<rect x="236.55" y="245.93" width="6.4" height="8.81" fill="#d1d8f0"/>
<rect x="242.45" y="245.93" width="6.4" height="8.81" fill="#ebeef9"/>
<rect x="248.35" y="245.93" width="6.4" height="8.81" fill="#f7d5d6"/>
<rect x="254.25" y="245.93" width="5.9" height="8.81" fill="#ebeef9"/>
<text x="262.8" y="253.39" font-size="8.7">Ptgds</text>
<rect x="116.5" y="254.24" width="6.4" height="8.81" fill="#fbe9e9"/>
<rect x="122.4" y="254.24" width="6.4" height="8.81" fill="#f6f4f8"/>
<rect x="128.3" y="254.24" width="6.4" height="8.81" fill="#f6f4f8"/>
<rect x="134.2" y="254.24" width="6.4" height="8.81" fill="#93a6d9"/>
<rect x="140.1" y="254.24" width="6.4" height="8.81" fill="#93a6d9"/>
<rect x="146" y="254.24" width="5.9" height="8.81" fill="#4a72ba"/>
<rect x="154.55" y="254.24" width="6.4" height="8.81" fill="#f7d5d6"/>
<rect x="160.45" y="254.24" width="6.4" height="8.81" fill="#f0b6b8"/>
<rect x="166.35" y="254.24" width="6.4" height="8.81" fill="#f0b6b8"/>
<rect x="172.25" y="254.24" width="6.4" height="8.81" fill="#f0b6b8"/>
<rect x="178.15" y="254.24" width="6.4" height="8.81" fill="#d1d8f0"/>
<rect x="184.05" y="254.24" width="5.9" height="8.81" fill="#d1d8f0"/>
<rect x="192.6" y="254.24" width="6.4" height="8.81" fill="#ebeef9"/>
<rect x="198.5" y="254.24" width="6.4" height="8.81" fill="#ebeef9"/>
<rect x="204.4" y="254.24" width="6.4" height="8.81" fill="#b3bfe5"/>
<rect x="210.3" y="254.24" width="6.4" height="8.81" fill="#ebeef9"/>
<rect x="216.2" y="254.24" width="5.9" height="8.81" fill="#93a6d9"/>
<rect x="224.75" y="254.24" width="6.4" height="8.81" fill="#fbe9e9"/>
<rect x="230.65" y="254.24" width="6.4" height="8.81" fill="#b3bfe5"/>
<rect x="236.55" y="254.24" width="6.4" height="8.81" fill="#ebeef9"/>
<rect x="242.45" y="254.24" width="6.4" height="8.81" fill="#b3bfe5"/>
<rect x="248.35" y="254.24" width="6.4" height="8.81" fill="#d1d8f0"/>
<rect x="254.25" y="254.24" width="5.9" height="8.81" fill="#93a6d9"/>
<text x="262.8" y="261.7" font-size="8.7">Homer1</text>
<rect x="116.5" y="262.55" width="6.4" height="8.31" fill="#fbe9e9"/>
<rect x="122.4" y="262.55" width="6.4" height="8.31" fill="#f6f4f8"/>
<rect x="128.3" y="262.55" width="6.4" height="8.31" fill="#fbe9e9"/>
<rect x="134.2" y="262.55" width="6.4" height="8.31" fill="#d1d8f0"/>
<rect x="140.1" y="262.55" width="6.4" height="8.31" fill="#b3bfe5"/>
<rect x="146" y="262.55" width="5.9" height="8.31" fill="#d1d8f0"/>
<rect x="154.55" y="262.55" width="6.4" height="8.31" fill="#ad4549"/>
<rect x="160.45" y="262.55" width="6.4" height="8.31" fill="#ad4549"/>
<rect x="166.35" y="262.55" width="6.4" height="8.31" fill="#ad4549"/>
<rect x="172.25" y="262.55" width="6.4" height="8.31" fill="#f7d5d6"/>
<rect x="178.15" y="262.55" width="6.4" height="8.31" fill="#fbe9e9"/>
<rect x="184.05" y="262.55" width="5.9" height="8.31" fill="#f7d5d6"/>
<rect x="192.6" y="262.55" width="6.4" height="8.31" fill="#fbe9e9"/>
<rect x="198.5" y="262.55" width="6.4" height="8.31" fill="#f7d5d6"/>
<rect x="204.4" y="262.55" width="6.4" height="8.31" fill="#f7d5d6"/>
<rect x="210.3" y="262.55" width="6.4" height="8.31" fill="#ebeef9"/>
<rect x="216.2" y="262.55" width="5.9" height="8.31" fill="#f6f4f8"/>
<rect x="224.75" y="262.55" width="6.4" height="8.31" fill="#ebeef9"/>
<rect x="230.65" y="262.55" width="6.4" height="8.31" fill="#d1d8f0"/>
<rect x="236.55" y="262.55" width="6.4" height="8.31" fill="#f6f4f8"/>
<rect x="242.45" y="262.55" width="6.4" height="8.31" fill="#ebeef9"/>
<rect x="248.35" y="262.55" width="6.4" height="8.31" fill="#d1d8f0"/>
<rect x="254.25" y="262.55" width="5.9" height="8.31" fill="#d1d8f0"/>
<text x="262.8" y="270" font-size="8.7">Junb</text>
<text x="109.2" y="262.2" font-size="9.5" text-anchor="end">Ccn2</text>
<rect x="116.5" y="273.56" width="6.4" height="8.81" fill="#ebeef9"/>
<rect x="122.4" y="273.56" width="6.4" height="8.81" fill="#f0b6b8"/>
<rect x="128.3" y="273.56" width="6.4" height="8.81" fill="#d1d8f0"/>
<rect x="134.2" y="273.56" width="6.4" height="8.81" fill="#fbe9e9"/>
<rect x="140.1" y="273.56" width="6.4" height="8.81" fill="#ebeef9"/>
<rect x="146" y="273.56" width="5.9" height="8.81" fill="#fbe9e9"/>
<rect x="154.55" y="273.56" width="6.4" height="8.81" fill="#fbe9e9"/>
<rect x="160.45" y="273.56" width="6.4" height="8.81" fill="#fbe9e9"/>
<rect x="166.35" y="273.56" width="6.4" height="8.81" fill="#fbe9e9"/>
<rect x="172.25" y="273.56" width="6.4" height="8.81" fill="#ebeef9"/>
<rect x="178.15" y="273.56" width="6.4" height="8.81" fill="#ebeef9"/>
<rect x="184.05" y="273.56" width="5.9" height="8.81" fill="#fbe9e9"/>
<rect x="192.6" y="273.56" width="6.4" height="8.81" fill="#dc8589"/>
<rect x="198.5" y="273.56" width="6.4" height="8.81" fill="#dc8589"/>
<rect x="204.4" y="273.56" width="6.4" height="8.81" fill="#f6f4f8"/>
<rect x="210.3" y="273.56" width="6.4" height="8.81" fill="#d1d8f0"/>
<rect x="216.2" y="273.56" width="5.9" height="8.81" fill="#f6f4f8"/>
<rect x="224.75" y="273.56" width="6.4" height="8.81" fill="#dc8589"/>
<rect x="230.65" y="273.56" width="6.4" height="8.81" fill="#f0b6b8"/>
<rect x="236.55" y="273.56" width="6.4" height="8.81" fill="#f0b6b8"/>
<rect x="242.45" y="273.56" width="6.4" height="8.81" fill="#93a6d9"/>
<rect x="248.35" y="273.56" width="6.4" height="8.81" fill="#93a6d9"/>
<rect x="254.25" y="273.56" width="5.9" height="8.81" fill="#f6f4f8"/>
<text x="262.8" y="281.01" font-size="8.7">Dhx33</text>
<rect x="116.5" y="281.87" width="6.4" height="8.81" fill="#f7d5d6"/>
<rect x="122.4" y="281.87" width="6.4" height="8.81" fill="#d1d8f0"/>
<rect x="128.3" y="281.87" width="6.4" height="8.81" fill="#f6f4f8"/>
<rect x="134.2" y="281.87" width="6.4" height="8.81" fill="#f0b6b8"/>
<rect x="140.1" y="281.87" width="6.4" height="8.81" fill="#f0b6b8"/>
<rect x="146" y="281.87" width="5.9" height="8.81" fill="#f0b6b8"/>
<rect x="154.55" y="281.87" width="6.4" height="8.81" fill="#f0b6b8"/>
<rect x="160.45" y="281.87" width="6.4" height="8.81" fill="#f0b6b8"/>
<rect x="166.35" y="281.87" width="6.4" height="8.81" fill="#f0b6b8"/>
<rect x="172.25" y="281.87" width="6.4" height="8.81" fill="#dc8589"/>
<rect x="178.15" y="281.87" width="6.4" height="8.81" fill="#fbe9e9"/>
<rect x="184.05" y="281.87" width="5.9" height="8.81" fill="#f0b6b8"/>
<rect x="192.6" y="281.87" width="6.4" height="8.81" fill="#963238"/>
<rect x="198.5" y="281.87" width="6.4" height="8.81" fill="#661a1f"/>
<rect x="204.4" y="281.87" width="6.4" height="8.81" fill="#d1d8f0"/>
<rect x="210.3" y="281.87" width="6.4" height="8.81" fill="#d1d8f0"/>
<rect x="216.2" y="281.87" width="5.9" height="8.81" fill="#f7d5d6"/>
<rect x="224.75" y="281.87" width="6.4" height="8.81" fill="#dc8589"/>
<rect x="230.65" y="281.87" width="6.4" height="8.81" fill="#dc8589"/>
<rect x="236.55" y="281.87" width="6.4" height="8.81" fill="#dc8589"/>
<rect x="242.45" y="281.87" width="6.4" height="8.81" fill="#fbe9e9"/>
<rect x="248.35" y="281.87" width="6.4" height="8.81" fill="#f0b6b8"/>
<rect x="254.25" y="281.87" width="5.9" height="8.81" fill="#f0b6b8"/>
<text x="262.8" y="289.32" font-size="8.7">Frzb</text>
<rect x="116.5" y="290.18" width="6.4" height="8.81" fill="#ebeef9"/>
<rect x="122.4" y="290.18" width="6.4" height="8.81" fill="#fbe9e9"/>
<rect x="128.3" y="290.18" width="6.4" height="8.81" fill="#f6f4f8"/>
<rect x="134.2" y="290.18" width="6.4" height="8.81" fill="#f0b6b8"/>
<rect x="140.1" y="290.18" width="6.4" height="8.81" fill="#d1d8f0"/>
<rect x="146" y="290.18" width="5.9" height="8.81" fill="#fbe9e9"/>
<rect x="154.55" y="290.18" width="6.4" height="8.81" fill="#d1d8f0"/>
<rect x="160.45" y="290.18" width="6.4" height="8.81" fill="#b3bfe5"/>
<rect x="166.35" y="290.18" width="6.4" height="8.81" fill="#b3bfe5"/>
<rect x="172.25" y="290.18" width="6.4" height="8.81" fill="#d1d8f0"/>
<rect x="178.15" y="290.18" width="6.4" height="8.81" fill="#ebeef9"/>
<rect x="184.05" y="290.18" width="5.9" height="8.81" fill="#ebeef9"/>
<rect x="192.6" y="290.18" width="6.4" height="8.81" fill="#b3bfe5"/>
<rect x="198.5" y="290.18" width="6.4" height="8.81" fill="#213c7d"/>
<rect x="204.4" y="290.18" width="6.4" height="8.81" fill="#fbe9e9"/>
<rect x="210.3" y="290.18" width="6.4" height="8.81" fill="#f7d5d6"/>
<rect x="216.2" y="290.18" width="5.9" height="8.81" fill="#f7d5d6"/>
<rect x="224.75" y="290.18" width="6.4" height="8.81" fill="#93a6d9"/>
<rect x="230.65" y="290.18" width="6.4" height="8.81" fill="#b3bfe5"/>
<rect x="236.55" y="290.18" width="6.4" height="8.81" fill="#d1d8f0"/>
<rect x="242.45" y="290.18" width="6.4" height="8.81" fill="#f6f4f8"/>
<rect x="248.35" y="290.18" width="6.4" height="8.81" fill="#f6f4f8"/>
<rect x="254.25" y="290.18" width="5.9" height="8.81" fill="#f6f4f8"/>
<text x="262.8" y="297.63" font-size="8.7">Sgk1</text>
<rect x="116.5" y="298.49" width="6.4" height="8.81" fill="#d1d8f0"/>
<rect x="122.4" y="298.49" width="6.4" height="8.81" fill="#fbe9e9"/>
<rect x="128.3" y="298.49" width="6.4" height="8.81" fill="#f7d5d6"/>
<rect x="134.2" y="298.49" width="6.4" height="8.81" fill="#fbe9e9"/>
<rect x="140.1" y="298.49" width="6.4" height="8.81" fill="#ebeef9"/>
<rect x="146" y="298.49" width="5.9" height="8.81" fill="#f0b6b8"/>
<rect x="154.55" y="298.49" width="6.4" height="8.81" fill="#d1d8f0"/>
<rect x="160.45" y="298.49" width="6.4" height="8.81" fill="#fbe9e9"/>
<rect x="166.35" y="298.49" width="6.4" height="8.81" fill="#fbe9e9"/>
<rect x="172.25" y="298.49" width="6.4" height="8.81" fill="#f0b6b8"/>
<rect x="178.15" y="298.49" width="6.4" height="8.81" fill="#f7d5d6"/>
<rect x="184.05" y="298.49" width="5.9" height="8.81" fill="#f6f4f8"/>
<rect x="192.6" y="298.49" width="6.4" height="8.81" fill="#6c88c8"/>
<rect x="198.5" y="298.49" width="6.4" height="8.81" fill="#4a72ba"/>
<rect x="204.4" y="298.49" width="6.4" height="8.81" fill="#ebeef9"/>
<rect x="210.3" y="298.49" width="6.4" height="8.81" fill="#f0b6b8"/>
<rect x="216.2" y="298.49" width="5.9" height="8.81" fill="#ebeef9"/>
<rect x="224.75" y="298.49" width="6.4" height="8.81" fill="#93a6d9"/>
<rect x="230.65" y="298.49" width="6.4" height="8.81" fill="#93a6d9"/>
<rect x="236.55" y="298.49" width="6.4" height="8.81" fill="#93a6d9"/>
<rect x="242.45" y="298.49" width="6.4" height="8.81" fill="#ebeef9"/>
<rect x="248.35" y="298.49" width="6.4" height="8.81" fill="#fbe9e9"/>
<rect x="254.25" y="298.49" width="5.9" height="8.81" fill="#ebeef9"/>
<text x="262.8" y="305.94" font-size="8.7">Dpy19l3</text>
<rect x="116.5" y="306.8" width="6.4" height="8.31" fill="#fbe9e9"/>
<rect x="122.4" y="306.8" width="6.4" height="8.31" fill="#fbe9e9"/>
<rect x="128.3" y="306.8" width="6.4" height="8.31" fill="#d1d8f0"/>
<rect x="134.2" y="306.8" width="6.4" height="8.31" fill="#b3bfe5"/>
<rect x="140.1" y="306.8" width="6.4" height="8.31" fill="#6c88c8"/>
<rect x="146" y="306.8" width="5.9" height="8.31" fill="#93a6d9"/>
<rect x="154.55" y="306.8" width="6.4" height="8.31" fill="#d1d8f0"/>
<rect x="160.45" y="306.8" width="6.4" height="8.31" fill="#ebeef9"/>
<rect x="166.35" y="306.8" width="6.4" height="8.31" fill="#b3bfe5"/>
<rect x="172.25" y="306.8" width="6.4" height="8.31" fill="#d1d8f0"/>
<rect x="178.15" y="306.8" width="6.4" height="8.31" fill="#f6f4f8"/>
<rect x="184.05" y="306.8" width="5.9" height="8.31" fill="#d1d8f0"/>
<rect x="192.6" y="306.8" width="6.4" height="8.31" fill="#213c7d"/>
<rect x="198.5" y="306.8" width="6.4" height="8.31" fill="#4a72ba"/>
<rect x="204.4" y="306.8" width="6.4" height="8.31" fill="#ebeef9"/>
<rect x="210.3" y="306.8" width="6.4" height="8.31" fill="#f0b6b8"/>
<rect x="216.2" y="306.8" width="5.9" height="8.31" fill="#b3bfe5"/>
<rect x="224.75" y="306.8" width="6.4" height="8.31" fill="#d1d8f0"/>
<rect x="230.65" y="306.8" width="6.4" height="8.31" fill="#d1d8f0"/>
<rect x="236.55" y="306.8" width="6.4" height="8.31" fill="#d1d8f0"/>
<rect x="242.45" y="306.8" width="6.4" height="8.31" fill="#f7d5d6"/>
<rect x="248.35" y="306.8" width="6.4" height="8.31" fill="#d1d8f0"/>
<rect x="254.25" y="306.8" width="5.9" height="8.31" fill="#d1d8f0"/>
<text x="262.8" y="314.25" font-size="8.7">Smpd3</text>
<text x="109.2" y="298.14" font-size="9.5" text-anchor="end">DG</text>
<rect x="116.5" y="317.81" width="6.4" height="8.31" fill="#f7d5d6"/>
<rect x="122.4" y="317.81" width="6.4" height="8.31" fill="#b3bfe5"/>
<rect x="128.3" y="317.81" width="6.4" height="8.31" fill="#f7d5d6"/>
<rect x="134.2" y="317.81" width="6.4" height="8.31" fill="#ebeef9"/>
<rect x="140.1" y="317.81" width="6.4" height="8.31" fill="#ebeef9"/>
<rect x="146" y="317.81" width="5.9" height="8.31" fill="#fbe9e9"/>
<rect x="154.55" y="317.81" width="6.4" height="8.31" fill="#d1d8f0"/>
<rect x="160.45" y="317.81" width="6.4" height="8.31" fill="#f7d5d6"/>
<rect x="166.35" y="317.81" width="6.4" height="8.31" fill="#f7d5d6"/>
<rect x="172.25" y="317.81" width="6.4" height="8.31" fill="#f7d5d6"/>
<rect x="178.15" y="317.81" width="6.4" height="8.31" fill="#f7d5d6"/>
<rect x="184.05" y="317.81" width="5.9" height="8.31" fill="#f7d5d6"/>
<rect x="192.6" y="317.81" width="6.4" height="8.31" fill="#93a6d9"/>
<rect x="198.5" y="317.81" width="6.4" height="8.31" fill="#d1d8f0"/>
<rect x="204.4" y="317.81" width="6.4" height="8.31" fill="#dc8589"/>
<rect x="210.3" y="317.81" width="6.4" height="8.31" fill="#ad4549"/>
<rect x="216.2" y="317.81" width="5.9" height="8.31" fill="#c9666a"/>
<rect x="224.75" y="317.81" width="6.4" height="8.31" fill="#f6f4f8"/>
<rect x="230.65" y="317.81" width="6.4" height="8.31" fill="#f7d5d6"/>
<rect x="236.55" y="317.81" width="6.4" height="8.31" fill="#f7d5d6"/>
<rect x="242.45" y="317.81" width="6.4" height="8.31" fill="#f0b6b8"/>
<rect x="248.35" y="317.81" width="6.4" height="8.31" fill="#d1d8f0"/>
<rect x="254.25" y="317.81" width="5.9" height="8.31" fill="#f0b6b8"/>
<text x="262.8" y="325.26" font-size="8.7">Calb1</text>
<text x="109.2" y="325.77" font-size="9.5" text-anchor="end">InhN.Lamp5</text>
<rect x="116.5" y="328.82" width="6.4" height="8.81" fill="#fbe9e9"/>
<rect x="122.4" y="328.82" width="6.4" height="8.81" fill="#f7d5d6"/>
<rect x="128.3" y="328.82" width="6.4" height="8.81" fill="#d1d8f0"/>
<rect x="134.2" y="328.82" width="6.4" height="8.81" fill="#dc8589"/>
<rect x="140.1" y="328.82" width="6.4" height="8.81" fill="#f6f4f8"/>
<rect x="146" y="328.82" width="5.9" height="8.81" fill="#ebeef9"/>
<rect x="154.55" y="328.82" width="6.4" height="8.81" fill="#d1d8f0"/>
<rect x="160.45" y="328.82" width="6.4" height="8.81" fill="#d1d8f0"/>
<rect x="166.35" y="328.82" width="6.4" height="8.81" fill="#b3bfe5"/>
<rect x="172.25" y="328.82" width="6.4" height="8.81" fill="#dc8589"/>
<rect x="178.15" y="328.82" width="6.4" height="8.81" fill="#f7d5d6"/>
<rect x="184.05" y="328.82" width="5.9" height="8.81" fill="#f7d5d6"/>
<rect x="192.6" y="328.82" width="6.4" height="8.81" fill="#f7d5d6"/>
<rect x="198.5" y="328.82" width="6.4" height="8.81" fill="#f0b6b8"/>
<rect x="204.4" y="328.82" width="6.4" height="8.81" fill="#f7d5d6"/>
<rect x="210.3" y="328.82" width="6.4" height="8.81" fill="#c9666a"/>
<rect x="216.2" y="328.82" width="5.9" height="8.81" fill="#fbe9e9"/>
<rect x="224.75" y="328.82" width="6.4" height="8.81" fill="#dc8589"/>
<rect x="230.65" y="328.82" width="6.4" height="8.81" fill="#dc8589"/>
<rect x="236.55" y="328.82" width="6.4" height="8.81" fill="#f0b6b8"/>
<rect x="242.45" y="328.82" width="6.4" height="8.81" fill="#ebeef9"/>
<rect x="248.35" y="328.82" width="6.4" height="8.81" fill="#fbe9e9"/>
<rect x="254.25" y="328.82" width="5.9" height="8.81" fill="#d1d8f0"/>
<text x="262.8" y="336.27" font-size="8.7">Egfr</text>
<rect x="116.5" y="337.13" width="6.4" height="8.81" fill="#ebeef9"/>
<rect x="122.4" y="337.13" width="6.4" height="8.81" fill="#ebeef9"/>
<rect x="128.3" y="337.13" width="6.4" height="8.81" fill="#fbe9e9"/>
<rect x="134.2" y="337.13" width="6.4" height="8.81" fill="#7e262b"/>
<rect x="140.1" y="337.13" width="6.4" height="8.81" fill="#ebeef9"/>
<rect x="146" y="337.13" width="5.9" height="8.81" fill="#f7d5d6"/>
<rect x="154.55" y="337.13" width="6.4" height="8.81" fill="#f6f4f8"/>
<rect x="160.45" y="337.13" width="6.4" height="8.81" fill="#f0b6b8"/>
<rect x="166.35" y="337.13" width="6.4" height="8.81" fill="#dc8589"/>
<rect x="172.25" y="337.13" width="6.4" height="8.81" fill="#f6f4f8"/>
<rect x="178.15" y="337.13" width="6.4" height="8.81" fill="#f7d5d6"/>
<rect x="184.05" y="337.13" width="5.9" height="8.81" fill="#fbe9e9"/>
<rect x="192.6" y="337.13" width="6.4" height="8.81" fill="#ebeef9"/>
<rect x="198.5" y="337.13" width="6.4" height="8.81" fill="#d1d8f0"/>
<rect x="204.4" y="337.13" width="6.4" height="8.81" fill="#f7d5d6"/>
<rect x="210.3" y="337.13" width="6.4" height="8.81" fill="#ad4549"/>
<rect x="216.2" y="337.13" width="5.9" height="8.81" fill="#fbe9e9"/>
<rect x="224.75" y="337.13" width="6.4" height="8.81" fill="#d1d8f0"/>
<rect x="230.65" y="337.13" width="6.4" height="8.81" fill="#d1d8f0"/>
<rect x="236.55" y="337.13" width="6.4" height="8.81" fill="#ebeef9"/>
<rect x="242.45" y="337.13" width="6.4" height="8.81" fill="#f7d5d6"/>
<rect x="248.35" y="337.13" width="6.4" height="8.81" fill="#c9666a"/>
<rect x="254.25" y="337.13" width="5.9" height="8.81" fill="#f0b6b8"/>
<text x="262.8" y="344.58" font-size="8.7">Mobp</text>
<rect x="116.5" y="345.44" width="6.4" height="8.31" fill="#fbe9e9"/>
<rect x="122.4" y="345.44" width="6.4" height="8.31" fill="#f6f4f8"/>
<rect x="128.3" y="345.44" width="6.4" height="8.31" fill="#f6f4f8"/>
<rect x="134.2" y="345.44" width="6.4" height="8.31" fill="#f0b6b8"/>
<rect x="140.1" y="345.44" width="6.4" height="8.31" fill="#ebeef9"/>
<rect x="146" y="345.44" width="5.9" height="8.31" fill="#f7d5d6"/>
<rect x="154.55" y="345.44" width="6.4" height="8.31" fill="#d1d8f0"/>
<rect x="160.45" y="345.44" width="6.4" height="8.31" fill="#93a6d9"/>
<rect x="166.35" y="345.44" width="6.4" height="8.31" fill="#ebeef9"/>
<rect x="172.25" y="345.44" width="6.4" height="8.31" fill="#f6f4f8"/>
<rect x="178.15" y="345.44" width="6.4" height="8.31" fill="#fbe9e9"/>
<rect x="184.05" y="345.44" width="5.9" height="8.31" fill="#fbe9e9"/>
<rect x="192.6" y="345.44" width="6.4" height="8.31" fill="#4a72ba"/>
<rect x="198.5" y="345.44" width="6.4" height="8.31" fill="#93a6d9"/>
<rect x="204.4" y="345.44" width="6.4" height="8.31" fill="#f0b6b8"/>
<rect x="210.3" y="345.44" width="6.4" height="8.31" fill="#f6f4f8"/>
<rect x="216.2" y="345.44" width="5.9" height="8.31" fill="#ebeef9"/>
<rect x="224.75" y="345.44" width="6.4" height="8.31" fill="#f0b6b8"/>
<rect x="230.65" y="345.44" width="6.4" height="8.31" fill="#f7d5d6"/>
<rect x="236.55" y="345.44" width="6.4" height="8.31" fill="#f0b6b8"/>
<rect x="242.45" y="345.44" width="6.4" height="8.31" fill="#93a6d9"/>
<rect x="248.35" y="345.44" width="6.4" height="8.31" fill="#93a6d9"/>
<rect x="254.25" y="345.44" width="5.9" height="8.31" fill="#93a6d9"/>
<text x="262.8" y="352.89" font-size="8.7">Ifnar1</text>
<text x="109.2" y="345.08" font-size="9.5" text-anchor="end">InhN.Ntng1</text>
<rect x="116.5" y="356.45" width="6.4" height="8.81" fill="#ebeef9"/>
<rect x="122.4" y="356.45" width="6.4" height="8.81" fill="#f6f4f8"/>
<rect x="128.3" y="356.45" width="6.4" height="8.81" fill="#fbe9e9"/>
<rect x="134.2" y="356.45" width="6.4" height="8.81" fill="#f0b6b8"/>
<rect x="140.1" y="356.45" width="6.4" height="8.81" fill="#f7d5d6"/>
<rect x="146" y="356.45" width="5.9" height="8.81" fill="#d1d8f0"/>
<rect x="154.55" y="356.45" width="6.4" height="8.81" fill="#c9666a"/>
<rect x="160.45" y="356.45" width="6.4" height="8.81" fill="#c9666a"/>
<rect x="166.35" y="356.45" width="6.4" height="8.81" fill="#dc8589"/>
<rect x="172.25" y="356.45" width="6.4" height="8.81" fill="#fbe9e9"/>
<rect x="178.15" y="356.45" width="6.4" height="8.81" fill="#f0b6b8"/>
<rect x="184.05" y="356.45" width="5.9" height="8.81" fill="#f0b6b8"/>
<rect x="192.6" y="356.45" width="6.4" height="8.81" fill="#963238"/>
<rect x="198.5" y="356.45" width="6.4" height="8.81" fill="#dc8589"/>
<rect x="204.4" y="356.45" width="6.4" height="8.81" fill="#ebeef9"/>
<rect x="210.3" y="356.45" width="6.4" height="8.81" fill="#fbe9e9"/>
<rect x="216.2" y="356.45" width="5.9" height="8.81" fill="#ebeef9"/>
<rect x="224.75" y="356.45" width="6.4" height="8.81" fill="#ebeef9"/>
<rect x="230.65" y="356.45" width="6.4" height="8.81" fill="#ebeef9"/>
<rect x="236.55" y="356.45" width="6.4" height="8.81" fill="#fbe9e9"/>
<rect x="242.45" y="356.45" width="6.4" height="8.81" fill="#fbe9e9"/>
<rect x="248.35" y="356.45" width="6.4" height="8.81" fill="#fbe9e9"/>
<rect x="254.25" y="356.45" width="5.9" height="8.81" fill="#f0b6b8"/>
<text x="262.8" y="363.9" font-size="8.7">Egr1</text>
<rect x="116.5" y="364.76" width="6.4" height="8.31" fill="#f6f4f8"/>
<rect x="122.4" y="364.76" width="6.4" height="8.31" fill="#fbe9e9"/>
<rect x="128.3" y="364.76" width="6.4" height="8.31" fill="#ebeef9"/>
<rect x="134.2" y="364.76" width="6.4" height="8.31" fill="#661a1f"/>
<rect x="140.1" y="364.76" width="6.4" height="8.31" fill="#f0b6b8"/>
<rect x="146" y="364.76" width="5.9" height="8.31" fill="#f0b6b8"/>
<rect x="154.55" y="364.76" width="6.4" height="8.31" fill="#d1d8f0"/>
<rect x="160.45" y="364.76" width="6.4" height="8.31" fill="#f7d5d6"/>
<rect x="166.35" y="364.76" width="6.4" height="8.31" fill="#f7d5d6"/>
<rect x="172.25" y="364.76" width="6.4" height="8.31" fill="#fbe9e9"/>
<rect x="178.15" y="364.76" width="6.4" height="8.31" fill="#fbe9e9"/>
<rect x="184.05" y="364.76" width="5.9" height="8.31" fill="#f7d5d6"/>
<rect x="192.6" y="364.76" width="6.4" height="8.31" fill="#f0b6b8"/>
<rect x="198.5" y="364.76" width="6.4" height="8.31" fill="#fbe9e9"/>
<rect x="204.4" y="364.76" width="6.4" height="8.31" fill="#dc8589"/>
<rect x="210.3" y="364.76" width="6.4" height="8.31" fill="#dc8589"/>
<rect x="216.2" y="364.76" width="5.9" height="8.31" fill="#dc8589"/>
<rect x="224.75" y="364.76" width="6.4" height="8.31" fill="#f7d5d6"/>
<rect x="230.65" y="364.76" width="6.4" height="8.31" fill="#ebeef9"/>
<rect x="236.55" y="364.76" width="6.4" height="8.31" fill="#f7d5d6"/>
<rect x="242.45" y="364.76" width="6.4" height="8.31" fill="#dc8589"/>
<rect x="248.35" y="364.76" width="6.4" height="8.31" fill="#fbe9e9"/>
<rect x="254.25" y="364.76" width="5.9" height="8.31" fill="#f6f4f8"/>
<text x="262.8" y="372.21" font-size="8.7">Cacna1e</text>
<text x="109.2" y="368.56" font-size="9.5" text-anchor="end">InhN.Pvalb</text>
<rect x="116.5" y="375.77" width="6.4" height="8.31" fill="#fbe9e9"/>
<rect x="122.4" y="375.77" width="6.4" height="8.31" fill="#fbe9e9"/>
<rect x="128.3" y="375.77" width="6.4" height="8.31" fill="#d1d8f0"/>
<rect x="134.2" y="375.77" width="6.4" height="8.31" fill="#661a1f"/>
<rect x="140.1" y="375.77" width="6.4" height="8.31" fill="#c9666a"/>
<rect x="146" y="375.77" width="5.9" height="8.31" fill="#f0b6b8"/>
<rect x="154.55" y="375.77" width="6.4" height="8.31" fill="#f7d5d6"/>
<rect x="160.45" y="375.77" width="6.4" height="8.31" fill="#dc8589"/>
<rect x="166.35" y="375.77" width="6.4" height="8.31" fill="#dc8589"/>
<rect x="172.25" y="375.77" width="6.4" height="8.31" fill="#963238"/>
<rect x="178.15" y="375.77" width="6.4" height="8.31" fill="#c9666a"/>
<rect x="184.05" y="375.77" width="5.9" height="8.31" fill="#c9666a"/>
<rect x="192.6" y="375.77" width="6.4" height="8.31" fill="#f7d5d6"/>
<rect x="198.5" y="375.77" width="6.4" height="8.31" fill="#f0b6b8"/>
<rect x="204.4" y="375.77" width="6.4" height="8.31" fill="#dc8589"/>
<rect x="210.3" y="375.77" width="6.4" height="8.31" fill="#c9666a"/>
<rect x="216.2" y="375.77" width="5.9" height="8.31" fill="#dc8589"/>
<rect x="224.75" y="375.77" width="6.4" height="8.31" fill="#f6f4f8"/>
<rect x="230.65" y="375.77" width="6.4" height="8.31" fill="#c9666a"/>
<rect x="236.55" y="375.77" width="6.4" height="8.31" fill="#f7d5d6"/>
<rect x="242.45" y="375.77" width="6.4" height="8.31" fill="#f7d5d6"/>
<rect x="248.35" y="375.77" width="6.4" height="8.31" fill="#ebeef9"/>
<rect x="254.25" y="375.77" width="5.9" height="8.31" fill="#dc8589"/>
<text x="262.8" y="383.22" font-size="8.7">Pde1a</text>
<text x="109.2" y="383.72" font-size="9.5" text-anchor="end">InhN.Vip</text>
<rect x="116.5" y="386.78" width="6.4" height="8.81" fill="#f7d5d6"/>
<rect x="122.4" y="386.78" width="6.4" height="8.81" fill="#f7d5d6"/>
<rect x="128.3" y="386.78" width="6.4" height="8.81" fill="#d1d8f0"/>
<rect x="134.2" y="386.78" width="6.4" height="8.81" fill="#661a1f"/>
<rect x="140.1" y="386.78" width="6.4" height="8.81" fill="#f7d5d6"/>
<rect x="146" y="386.78" width="5.9" height="8.81" fill="#f0b6b8"/>
<rect x="154.55" y="386.78" width="6.4" height="8.81" fill="#d1d8f0"/>
<rect x="160.45" y="386.78" width="6.4" height="8.81" fill="#d1d8f0"/>
<rect x="166.35" y="386.78" width="6.4" height="8.81" fill="#f7d5d6"/>
<rect x="172.25" y="386.78" width="6.4" height="8.81" fill="#ebeef9"/>
<rect x="178.15" y="386.78" width="6.4" height="8.81" fill="#ebeef9"/>
<rect x="184.05" y="386.78" width="5.9" height="8.81" fill="#fbe9e9"/>
<rect x="192.6" y="386.78" width="6.4" height="8.81" fill="#fbe9e9"/>
<rect x="198.5" y="386.78" width="6.4" height="8.81" fill="#d1d8f0"/>
<rect x="204.4" y="386.78" width="6.4" height="8.81" fill="#ebeef9"/>
<rect x="210.3" y="386.78" width="6.4" height="8.81" fill="#fbe9e9"/>
<rect x="216.2" y="386.78" width="5.9" height="8.81" fill="#f0b6b8"/>
<rect x="224.75" y="386.78" width="6.4" height="8.81" fill="#dc8589"/>
<rect x="230.65" y="386.78" width="6.4" height="8.81" fill="#f7d5d6"/>
<rect x="236.55" y="386.78" width="6.4" height="8.81" fill="#f7d5d6"/>
<rect x="242.45" y="386.78" width="6.4" height="8.81" fill="#ebeef9"/>
<rect x="248.35" y="386.78" width="6.4" height="8.81" fill="#fbe9e9"/>
<rect x="254.25" y="386.78" width="5.9" height="8.81" fill="#f6f4f8"/>
<text x="262.8" y="394.23" font-size="8.7">Nxph1</text>
<rect x="116.5" y="395.09" width="6.4" height="8.81" fill="#f7d5d6"/>
<rect x="122.4" y="395.09" width="6.4" height="8.81" fill="#fbe9e9"/>
<rect x="128.3" y="395.09" width="6.4" height="8.81" fill="#d1d8f0"/>
<rect x="134.2" y="395.09" width="6.4" height="8.81" fill="#963238"/>
<rect x="140.1" y="395.09" width="6.4" height="8.81" fill="#f7d5d6"/>
<rect x="146" y="395.09" width="5.9" height="8.81" fill="#f7d5d6"/>
<rect x="154.55" y="395.09" width="6.4" height="8.81" fill="#ebeef9"/>
<rect x="160.45" y="395.09" width="6.4" height="8.81" fill="#d1d8f0"/>
<rect x="166.35" y="395.09" width="6.4" height="8.81" fill="#f6f4f8"/>
<rect x="172.25" y="395.09" width="6.4" height="8.81" fill="#d1d8f0"/>
<rect x="178.15" y="395.09" width="6.4" height="8.81" fill="#fbe9e9"/>
<rect x="184.05" y="395.09" width="5.9" height="8.81" fill="#fbe9e9"/>
<rect x="192.6" y="395.09" width="6.4" height="8.81" fill="#fbe9e9"/>
<rect x="198.5" y="395.09" width="6.4" height="8.81" fill="#ebeef9"/>
<rect x="204.4" y="395.09" width="6.4" height="8.81" fill="#f7d5d6"/>
<rect x="210.3" y="395.09" width="6.4" height="8.81" fill="#f7d5d6"/>
<rect x="216.2" y="395.09" width="5.9" height="8.81" fill="#ebeef9"/>
<rect x="224.75" y="395.09" width="6.4" height="8.81" fill="#ad4549"/>
<rect x="230.65" y="395.09" width="6.4" height="8.81" fill="#f7d5d6"/>
<rect x="236.55" y="395.09" width="6.4" height="8.81" fill="#f7d5d6"/>
<rect x="242.45" y="395.09" width="6.4" height="8.81" fill="#ebeef9"/>
<rect x="248.35" y="395.09" width="6.4" height="8.81" fill="#f0b6b8"/>
<rect x="254.25" y="395.09" width="5.9" height="8.81" fill="#d1d8f0"/>
<text x="262.8" y="402.54" font-size="8.7">Grik1</text>
<rect x="116.5" y="403.4" width="6.4" height="8.81" fill="#fbe9e9"/>
<rect x="122.4" y="403.4" width="6.4" height="8.81" fill="#f7d5d6"/>
<rect x="128.3" y="403.4" width="6.4" height="8.81" fill="#d1d8f0"/>
<rect x="134.2" y="403.4" width="6.4" height="8.81" fill="#963238"/>
<rect x="140.1" y="403.4" width="6.4" height="8.81" fill="#dc8589"/>
<rect x="146" y="403.4" width="5.9" height="8.81" fill="#f7d5d6"/>
<rect x="154.55" y="403.4" width="6.4" height="8.81" fill="#ebeef9"/>
<rect x="160.45" y="403.4" width="6.4" height="8.81" fill="#d1d8f0"/>
<rect x="166.35" y="403.4" width="6.4" height="8.81" fill="#f6f4f8"/>
<rect x="172.25" y="403.4" width="6.4" height="8.81" fill="#ebeef9"/>
<rect x="178.15" y="403.4" width="6.4" height="8.81" fill="#fbe9e9"/>
<rect x="184.05" y="403.4" width="5.9" height="8.81" fill="#fbe9e9"/>
<rect x="192.6" y="403.4" width="6.4" height="8.81" fill="#fbe9e9"/>
<rect x="198.5" y="403.4" width="6.4" height="8.81" fill="#b3bfe5"/>
<rect x="204.4" y="403.4" width="6.4" height="8.81" fill="#ebeef9"/>
<rect x="210.3" y="403.4" width="6.4" height="8.81" fill="#ebeef9"/>
<rect x="216.2" y="403.4" width="5.9" height="8.81" fill="#f0b6b8"/>
<rect x="224.75" y="403.4" width="6.4" height="8.81" fill="#f0b6b8"/>
<rect x="230.65" y="403.4" width="6.4" height="8.81" fill="#fbe9e9"/>
<rect x="236.55" y="403.4" width="6.4" height="8.81" fill="#f0b6b8"/>
<rect x="242.45" y="403.4" width="6.4" height="8.81" fill="#d1d8f0"/>
<rect x="248.35" y="403.4" width="6.4" height="8.81" fill="#ebeef9"/>
<rect x="254.25" y="403.4" width="5.9" height="8.81" fill="#d1d8f0"/>
<text x="262.8" y="410.85" font-size="8.7">Erbb4</text>
<rect x="116.5" y="411.71" width="6.4" height="8.81" fill="#f7d5d6"/>
<rect x="122.4" y="411.71" width="6.4" height="8.81" fill="#f7d5d6"/>
<rect x="128.3" y="411.71" width="6.4" height="8.81" fill="#b3bfe5"/>
<rect x="134.2" y="411.71" width="6.4" height="8.81" fill="#d1d8f0"/>
<rect x="140.1" y="411.71" width="6.4" height="8.81" fill="#d1d8f0"/>
<rect x="146" y="411.71" width="5.9" height="8.81" fill="#93a6d9"/>
<rect x="154.55" y="411.71" width="6.4" height="8.81" fill="#ebeef9"/>
<rect x="160.45" y="411.71" width="6.4" height="8.81" fill="#fbe9e9"/>
<rect x="166.35" y="411.71" width="6.4" height="8.81" fill="#ebeef9"/>
<rect x="172.25" y="411.71" width="6.4" height="8.81" fill="#d1d8f0"/>
<rect x="178.15" y="411.71" width="6.4" height="8.81" fill="#d1d8f0"/>
<rect x="184.05" y="411.71" width="5.9" height="8.81" fill="#f6f4f8"/>
<rect x="192.6" y="411.71" width="6.4" height="8.81" fill="#213c7d"/>
<rect x="198.5" y="411.71" width="6.4" height="8.81" fill="#3061ae"/>
<rect x="204.4" y="411.71" width="6.4" height="8.81" fill="#ebeef9"/>
<rect x="210.3" y="411.71" width="6.4" height="8.81" fill="#fbe9e9"/>
<rect x="216.2" y="411.71" width="5.9" height="8.81" fill="#f7d5d6"/>
<rect x="224.75" y="411.71" width="6.4" height="8.81" fill="#b3bfe5"/>
<rect x="230.65" y="411.71" width="6.4" height="8.81" fill="#6c88c8"/>
<rect x="236.55" y="411.71" width="6.4" height="8.81" fill="#93a6d9"/>
<rect x="242.45" y="411.71" width="6.4" height="8.81" fill="#d1d8f0"/>
<rect x="248.35" y="411.71" width="6.4" height="8.81" fill="#ebeef9"/>
<rect x="254.25" y="411.71" width="5.9" height="8.81" fill="#ebeef9"/>
<text x="262.8" y="419.16" font-size="8.7">Syndig1</text>
<rect x="116.5" y="420.02" width="6.4" height="8.81" fill="#f0b6b8"/>
<rect x="122.4" y="420.02" width="6.4" height="8.81" fill="#b3bfe5"/>
<rect x="128.3" y="420.02" width="6.4" height="8.81" fill="#ebeef9"/>
<rect x="134.2" y="420.02" width="6.4" height="8.81" fill="#ebeef9"/>
<rect x="140.1" y="420.02" width="6.4" height="8.81" fill="#d1d8f0"/>
<rect x="146" y="420.02" width="5.9" height="8.81" fill="#6c88c8"/>
<rect x="154.55" y="420.02" width="6.4" height="8.81" fill="#ebeef9"/>
<rect x="160.45" y="420.02" width="6.4" height="8.81" fill="#f6f4f8"/>
<rect x="166.35" y="420.02" width="6.4" height="8.81" fill="#f0b6b8"/>
<rect x="172.25" y="420.02" width="6.4" height="8.81" fill="#ebeef9"/>
<rect x="178.15" y="420.02" width="6.4" height="8.81" fill="#ebeef9"/>
<rect x="184.05" y="420.02" width="5.9" height="8.81" fill="#c9666a"/>
<rect x="192.6" y="420.02" width="6.4" height="8.81" fill="#d1d8f0"/>
<rect x="198.5" y="420.02" width="6.4" height="8.81" fill="#fbe9e9"/>
<rect x="204.4" y="420.02" width="6.4" height="8.81" fill="#fbe9e9"/>
<rect x="210.3" y="420.02" width="6.4" height="8.81" fill="#dc8589"/>
<rect x="216.2" y="420.02" width="5.9" height="8.81" fill="#f6f4f8"/>
<rect x="224.75" y="420.02" width="6.4" height="8.81" fill="#f7d5d6"/>
<rect x="230.65" y="420.02" width="6.4" height="8.81" fill="#d1d8f0"/>
<rect x="236.55" y="420.02" width="6.4" height="8.81" fill="#f6f4f8"/>
<rect x="242.45" y="420.02" width="6.4" height="8.81" fill="#f6f4f8"/>
<rect x="248.35" y="420.02" width="6.4" height="8.81" fill="#f0b6b8"/>
<rect x="254.25" y="420.02" width="5.9" height="8.81" fill="#f0b6b8"/>
<text x="262.8" y="427.47" font-size="8.7">Gm32913</text>
<rect x="116.5" y="428.33" width="6.4" height="8.31" fill="#f6f4f8"/>
<rect x="122.4" y="428.33" width="6.4" height="8.31" fill="#f7d5d6"/>
<rect x="128.3" y="428.33" width="6.4" height="8.31" fill="#d1d8f0"/>
<rect x="134.2" y="428.33" width="6.4" height="8.31" fill="#93a6d9"/>
<rect x="140.1" y="428.33" width="6.4" height="8.31" fill="#f6f4f8"/>
<rect x="146" y="428.33" width="5.9" height="8.31" fill="#93a6d9"/>
<rect x="154.55" y="428.33" width="6.4" height="8.31" fill="#d1d8f0"/>
<rect x="160.45" y="428.33" width="6.4" height="8.31" fill="#fbe9e9"/>
<rect x="166.35" y="428.33" width="6.4" height="8.31" fill="#ebeef9"/>
<rect x="172.25" y="428.33" width="6.4" height="8.31" fill="#fbe9e9"/>
<rect x="178.15" y="428.33" width="6.4" height="8.31" fill="#fbe9e9"/>
<rect x="184.05" y="428.33" width="5.9" height="8.31" fill="#d1d8f0"/>
<rect x="192.6" y="428.33" width="6.4" height="8.31" fill="#ad4549"/>
<rect x="198.5" y="428.33" width="6.4" height="8.31" fill="#ad4549"/>
<rect x="204.4" y="428.33" width="6.4" height="8.31" fill="#ebeef9"/>
<rect x="210.3" y="428.33" width="6.4" height="8.31" fill="#f6f4f8"/>
<rect x="216.2" y="428.33" width="5.9" height="8.31" fill="#d1d8f0"/>
<rect x="224.75" y="428.33" width="6.4" height="8.31" fill="#d1d8f0"/>
<rect x="230.65" y="428.33" width="6.4" height="8.31" fill="#ebeef9"/>
<rect x="236.55" y="428.33" width="6.4" height="8.31" fill="#d1d8f0"/>
<rect x="242.45" y="428.33" width="6.4" height="8.31" fill="#f7d5d6"/>
<rect x="248.35" y="428.33" width="6.4" height="8.31" fill="#f0b6b8"/>
<rect x="254.25" y="428.33" width="5.9" height="8.31" fill="#d1d8f0"/>
<text x="262.8" y="435.78" font-size="8.7">B230216N24Rik</text>
<text x="109.2" y="415.51" font-size="9.5" text-anchor="end">Mossy</text>
<rect x="116.5" y="439.34" width="6.4" height="8.81" fill="#ebeef9"/>
<rect x="122.4" y="439.34" width="6.4" height="8.81" fill="#f7d5d6"/>
<rect x="128.3" y="439.34" width="6.4" height="8.81" fill="#ebeef9"/>
<rect x="134.2" y="439.34" width="6.4" height="8.81" fill="#f7d5d6"/>
<rect x="140.1" y="439.34" width="6.4" height="8.81" fill="#d1d8f0"/>
<rect x="146" y="439.34" width="5.9" height="8.81" fill="#f7d5d6"/>
<rect x="154.55" y="439.34" width="6.4" height="8.81" fill="#c9666a"/>
<rect x="160.45" y="439.34" width="6.4" height="8.81" fill="#963238"/>
<rect x="166.35" y="439.34" width="6.4" height="8.81" fill="#f0b6b8"/>
<rect x="172.25" y="439.34" width="6.4" height="8.81" fill="#fbe9e9"/>
<rect x="178.15" y="439.34" width="6.4" height="8.81" fill="#ebeef9"/>
<rect x="184.05" y="439.34" width="5.9" height="8.81" fill="#f7d5d6"/>
<rect x="192.6" y="439.34" width="6.4" height="8.81" fill="#ad4549"/>
<rect x="198.5" y="439.34" width="6.4" height="8.81" fill="#c9666a"/>
<rect x="204.4" y="439.34" width="6.4" height="8.81" fill="#f7d5d6"/>
<rect x="210.3" y="439.34" width="6.4" height="8.81" fill="#f7d5d6"/>
<rect x="216.2" y="439.34" width="5.9" height="8.81" fill="#b3bfe5"/>
<rect x="224.75" y="439.34" width="6.4" height="8.81" fill="#f6f4f8"/>
<rect x="230.65" y="439.34" width="6.4" height="8.81" fill="#ebeef9"/>
<rect x="236.55" y="439.34" width="6.4" height="8.81" fill="#f7d5d6"/>
<rect x="242.45" y="439.34" width="6.4" height="8.81" fill="#f7d5d6"/>
<rect x="248.35" y="439.34" width="6.4" height="8.81" fill="#ebeef9"/>
<rect x="254.25" y="439.34" width="5.9" height="8.81" fill="#f6f4f8"/>
<text x="262.8" y="446.79" font-size="8.7">Egr4</text>
<rect x="116.5" y="447.65" width="6.4" height="8.81" fill="#ebeef9"/>
<rect x="122.4" y="447.65" width="6.4" height="8.81" fill="#ebeef9"/>
<rect x="128.3" y="447.65" width="6.4" height="8.81" fill="#fbe9e9"/>
<rect x="134.2" y="447.65" width="6.4" height="8.81" fill="#661a1f"/>
<rect x="140.1" y="447.65" width="6.4" height="8.81" fill="#f0b6b8"/>
<rect x="146" y="447.65" width="5.9" height="8.81" fill="#f0b6b8"/>
<rect x="154.55" y="447.65" width="6.4" height="8.81" fill="#f7d5d6"/>
<rect x="160.45" y="447.65" width="6.4" height="8.81" fill="#c9666a"/>
<rect x="166.35" y="447.65" width="6.4" height="8.81" fill="#c9666a"/>
<rect x="172.25" y="447.65" width="6.4" height="8.81" fill="#fbe9e9"/>
<rect x="178.15" y="447.65" width="6.4" height="8.81" fill="#f7d5d6"/>
<rect x="184.05" y="447.65" width="5.9" height="8.81" fill="#f0b6b8"/>
<rect x="192.6" y="447.65" width="6.4" height="8.81" fill="#ebeef9"/>
<rect x="198.5" y="447.65" width="6.4" height="8.81" fill="#ebeef9"/>
<rect x="204.4" y="447.65" width="6.4" height="8.81" fill="#dc8589"/>
<rect x="210.3" y="447.65" width="6.4" height="8.81" fill="#963238"/>
<rect x="216.2" y="447.65" width="5.9" height="8.81" fill="#f0b6b8"/>
<rect x="224.75" y="447.65" width="6.4" height="8.81" fill="#f7d5d6"/>
<rect x="230.65" y="447.65" width="6.4" height="8.81" fill="#f0b6b8"/>
<rect x="236.55" y="447.65" width="6.4" height="8.81" fill="#c9666a"/>
<rect x="242.45" y="447.65" width="6.4" height="8.81" fill="#f7d5d6"/>
<rect x="248.35" y="447.65" width="6.4" height="8.81" fill="#fbe9e9"/>
<rect x="254.25" y="447.65" width="5.9" height="8.81" fill="#fbe9e9"/>
<text x="262.8" y="455.1" font-size="8.7">Lurap1l</text>
<rect x="116.5" y="455.96" width="6.4" height="8.81" fill="#d1d8f0"/>
<rect x="122.4" y="455.96" width="6.4" height="8.81" fill="#ebeef9"/>
<rect x="128.3" y="455.96" width="6.4" height="8.81" fill="#f7d5d6"/>
<rect x="134.2" y="455.96" width="6.4" height="8.81" fill="#d1d8f0"/>
<rect x="140.1" y="455.96" width="6.4" height="8.81" fill="#d1d8f0"/>
<rect x="146" y="455.96" width="5.9" height="8.81" fill="#b3bfe5"/>
<rect x="154.55" y="455.96" width="6.4" height="8.81" fill="#f7d5d6"/>
<rect x="160.45" y="455.96" width="6.4" height="8.81" fill="#d1d8f0"/>
<rect x="166.35" y="455.96" width="6.4" height="8.81" fill="#ebeef9"/>
<rect x="172.25" y="455.96" width="6.4" height="8.81" fill="#b3bfe5"/>
<rect x="178.15" y="455.96" width="6.4" height="8.81" fill="#d1d8f0"/>
<rect x="184.05" y="455.96" width="5.9" height="8.81" fill="#b3bfe5"/>
<rect x="192.6" y="455.96" width="6.4" height="8.81" fill="#b3bfe5"/>
<rect x="198.5" y="455.96" width="6.4" height="8.81" fill="#6c88c8"/>
<rect x="204.4" y="455.96" width="6.4" height="8.81" fill="#f0b6b8"/>
<rect x="210.3" y="455.96" width="6.4" height="8.81" fill="#f0b6b8"/>
<rect x="216.2" y="455.96" width="5.9" height="8.81" fill="#ad4549"/>
<rect x="224.75" y="455.96" width="6.4" height="8.81" fill="#b3bfe5"/>
<rect x="230.65" y="455.96" width="6.4" height="8.81" fill="#f7d5d6"/>
<rect x="236.55" y="455.96" width="6.4" height="8.81" fill="#f7d5d6"/>
<rect x="242.45" y="455.96" width="6.4" height="8.81" fill="#fbe9e9"/>
<rect x="248.35" y="455.96" width="6.4" height="8.81" fill="#fbe9e9"/>
<rect x="254.25" y="455.96" width="5.9" height="8.81" fill="#d1d8f0"/>
<text x="262.8" y="463.41" font-size="8.7">Gpr139</text>
<rect x="116.5" y="464.27" width="6.4" height="8.81" fill="#d1d8f0"/>
<rect x="122.4" y="464.27" width="6.4" height="8.81" fill="#f7d5d6"/>
<rect x="128.3" y="464.27" width="6.4" height="8.81" fill="#f6f4f8"/>
<rect x="134.2" y="464.27" width="6.4" height="8.81" fill="#d1d8f0"/>
<rect x="140.1" y="464.27" width="6.4" height="8.81" fill="#b3bfe5"/>
<rect x="146" y="464.27" width="5.9" height="8.81" fill="#ebeef9"/>
<rect x="154.55" y="464.27" width="6.4" height="8.81" fill="#ad4549"/>
<rect x="160.45" y="464.27" width="6.4" height="8.81" fill="#f0b6b8"/>
<rect x="166.35" y="464.27" width="6.4" height="8.81" fill="#dc8589"/>
<rect x="172.25" y="464.27" width="6.4" height="8.81" fill="#ebeef9"/>
<rect x="178.15" y="464.27" width="6.4" height="8.81" fill="#ebeef9"/>
<rect x="184.05" y="464.27" width="5.9" height="8.81" fill="#fbe9e9"/>
<rect x="192.6" y="464.27" width="6.4" height="8.81" fill="#f0b6b8"/>
<rect x="198.5" y="464.27" width="6.4" height="8.81" fill="#f0b6b8"/>
<rect x="204.4" y="464.27" width="6.4" height="8.81" fill="#d1d8f0"/>
<rect x="210.3" y="464.27" width="6.4" height="8.81" fill="#d1d8f0"/>
<rect x="216.2" y="464.27" width="5.9" height="8.81" fill="#ebeef9"/>
<rect x="224.75" y="464.27" width="6.4" height="8.81" fill="#93a6d9"/>
<rect x="230.65" y="464.27" width="6.4" height="8.81" fill="#b3bfe5"/>
<rect x="236.55" y="464.27" width="6.4" height="8.81" fill="#f7d5d6"/>
<rect x="242.45" y="464.27" width="6.4" height="8.81" fill="#fbe9e9"/>
<rect x="248.35" y="464.27" width="6.4" height="8.81" fill="#ebeef9"/>
<rect x="254.25" y="464.27" width="5.9" height="8.81" fill="#d1d8f0"/>
<text x="262.8" y="471.72" font-size="8.7">Arc</text>
<rect x="116.5" y="472.58" width="6.4" height="8.31" fill="#fbe9e9"/>
<rect x="122.4" y="472.58" width="6.4" height="8.31" fill="#fbe9e9"/>
<rect x="128.3" y="472.58" width="6.4" height="8.31" fill="#ebeef9"/>
<rect x="134.2" y="472.58" width="6.4" height="8.31" fill="#d1d8f0"/>
<rect x="140.1" y="472.58" width="6.4" height="8.31" fill="#d1d8f0"/>
<rect x="146" y="472.58" width="5.9" height="8.31" fill="#ebeef9"/>
<rect x="154.55" y="472.58" width="6.4" height="8.31" fill="#dc8589"/>
<rect x="160.45" y="472.58" width="6.4" height="8.31" fill="#dc8589"/>
<rect x="166.35" y="472.58" width="6.4" height="8.31" fill="#dc8589"/>
<rect x="172.25" y="472.58" width="6.4" height="8.31" fill="#f7d5d6"/>
<rect x="178.15" y="472.58" width="6.4" height="8.31" fill="#f7d5d6"/>
<rect x="184.05" y="472.58" width="5.9" height="8.31" fill="#f0b6b8"/>
<rect x="192.6" y="472.58" width="6.4" height="8.31" fill="#f0b6b8"/>
<rect x="198.5" y="472.58" width="6.4" height="8.31" fill="#c9666a"/>
<rect x="204.4" y="472.58" width="6.4" height="8.31" fill="#d1d8f0"/>
<rect x="210.3" y="472.58" width="6.4" height="8.31" fill="#ebeef9"/>
<rect x="216.2" y="472.58" width="5.9" height="8.31" fill="#ebeef9"/>
<rect x="224.75" y="472.58" width="6.4" height="8.31" fill="#4a72ba"/>
<rect x="230.65" y="472.58" width="6.4" height="8.31" fill="#b3bfe5"/>
<rect x="236.55" y="472.58" width="6.4" height="8.31" fill="#fbe9e9"/>
<rect x="242.45" y="472.58" width="6.4" height="8.31" fill="#ebeef9"/>
<rect x="248.35" y="472.58" width="6.4" height="8.31" fill="#ebeef9"/>
<rect x="254.25" y="472.58" width="5.9" height="8.31" fill="#d1d8f0"/>
<text x="262.8" y="480.03" font-size="8.7">Junb</text>
<text x="109.2" y="463.92" font-size="9.5" text-anchor="end">SUB/Cntnap4</text>
<text x="420.5" y="7.2" font-size="9.5" text-anchor="middle">Control</text>
<rect x="404.2" y="13.3" width="35.4" height="13.3" fill="#fde4d9"/>
<rect x="404.2" y="28" width="17.7" height="12.8" fill="#d3d3d3"/>
<rect x="421.9" y="28" width="17.7" height="12.8" fill="#7966ff"/>
<text x="458.95" y="7.2" font-size="9.5" text-anchor="middle">15min</text>
<rect x="442.25" y="13.3" width="35.4" height="13.3" fill="#f6aa92"/>
<rect x="442.25" y="28" width="17.7" height="12.8" fill="#d3d3d3"/>
<rect x="459.95" y="28" width="17.7" height="12.8" fill="#7966ff"/>
<text x="494.25" y="7.2" font-size="9.5" text-anchor="middle">45min</text>
<rect x="480.3" y="13.3" width="29.5" height="13.3" fill="#ec6a4e"/>
<rect x="480.3" y="28" width="11.8" height="12.8" fill="#d3d3d3"/>
<rect x="492.1" y="28" width="17.7" height="12.8" fill="#7966ff"/>
<text x="529.95" y="7.2" font-size="9.5" text-anchor="middle">3h</text>
<rect x="512.45" y="13.3" width="35.4" height="13.3" fill="#cb181d"/>
<rect x="512.45" y="28" width="17.7" height="12.8" fill="#d3d3d3"/>
<rect x="530.15" y="28" width="17.7" height="12.8" fill="#7966ff"/>
<text x="550.6" y="23.2" font-size="8.7">TimePoint</text>
<text x="550.6" y="37.6" font-size="8.7">Treatment</text>
<rect x="404.2" y="44" width="6.4" height="13.42" fill="#ebeef9"/>
<rect x="410.1" y="44" width="6.4" height="13.42" fill="#ebeef9"/>
<rect x="416" y="44" width="6.4" height="13.42" fill="#fbe9e9"/>
<rect x="421.9" y="44" width="6.4" height="13.42" fill="#f7d5d6"/>
<rect x="427.8" y="44" width="6.4" height="13.42" fill="#f0b6b8"/>
<rect x="433.7" y="44" width="5.9" height="13.42" fill="#fbe9e9"/>
<rect x="442.25" y="44" width="6.4" height="13.42" fill="#ebeef9"/>
<rect x="448.15" y="44" width="6.4" height="13.42" fill="#ebeef9"/>
<rect x="454.05" y="44" width="6.4" height="13.42" fill="#fbe9e9"/>
<rect x="459.95" y="44" width="6.4" height="13.42" fill="#fbe9e9"/>
<rect x="465.85" y="44" width="6.4" height="13.42" fill="#fbe9e9"/>
<rect x="471.75" y="44" width="5.9" height="13.42" fill="#f7d5d6"/>
<rect x="480.3" y="44" width="6.4" height="13.42" fill="#ad4549"/>
<rect x="486.2" y="44" width="6.4" height="13.42" fill="#ad4549"/>
<rect x="492.1" y="44" width="6.4" height="13.42" fill="#f0b6b8"/>
<rect x="498" y="44" width="6.4" height="13.42" fill="#fbe9e9"/>
<rect x="503.9" y="44" width="5.9" height="13.42" fill="#f7d5d6"/>
<rect x="512.45" y="44" width="6.4" height="13.42" fill="#ad4549"/>
<rect x="518.35" y="44" width="6.4" height="13.42" fill="#c9666a"/>
<rect x="524.25" y="44" width="6.4" height="13.42" fill="#661a1f"/>
<rect x="530.15" y="44" width="6.4" height="13.42" fill="#dc8589"/>
<rect x="536.05" y="44" width="6.4" height="13.42" fill="#f0b6b8"/>
<rect x="541.95" y="44" width="5.9" height="13.42" fill="#f7d5d6"/>
<text x="550.6" y="53.76" font-size="8.7">Pde10a</text>
<rect x="404.2" y="56.92" width="6.4" height="12.92" fill="#d1d8f0"/>
<rect x="410.1" y="56.92" width="6.4" height="12.92" fill="#f6f4f8"/>
<rect x="416" y="56.92" width="6.4" height="12.92" fill="#f7d5d6"/>
<rect x="421.9" y="56.92" width="6.4" height="12.92" fill="#d1d8f0"/>
<rect x="427.8" y="56.92" width="6.4" height="12.92" fill="#d1d8f0"/>
<rect x="433.7" y="56.92" width="5.9" height="12.92" fill="#b3bfe5"/>
<rect x="442.25" y="56.92" width="6.4" height="12.92" fill="#f7d5d6"/>
<rect x="448.15" y="56.92" width="6.4" height="12.92" fill="#f7d5d6"/>
<rect x="454.05" y="56.92" width="6.4" height="12.92" fill="#ebeef9"/>
<rect x="459.95" y="56.92" width="6.4" height="12.92" fill="#f7d5d6"/>
<rect x="465.85" y="56.92" width="6.4" height="12.92" fill="#f6f4f8"/>
<rect x="471.75" y="56.92" width="5.9" height="12.92" fill="#ebeef9"/>
<rect x="480.3" y="56.92" width="6.4" height="12.92" fill="#f7d5d6"/>
<rect x="486.2" y="56.92" width="6.4" height="12.92" fill="#fbe9e9"/>
<rect x="492.1" y="56.92" width="6.4" height="12.92" fill="#f7d5d6"/>
<rect x="498" y="56.92" width="6.4" height="12.92" fill="#fbe9e9"/>
<rect x="503.9" y="56.92" width="5.9" height="12.92" fill="#ebeef9"/>
<rect x="512.45" y="56.92" width="6.4" height="12.92" fill="#7e262b"/>
<rect x="518.35" y="56.92" width="6.4" height="12.92" fill="#ad4549"/>
<rect x="524.25" y="56.92" width="6.4" height="12.92" fill="#c9666a"/>
<rect x="530.15" y="56.92" width="6.4" height="12.92" fill="#ebeef9"/>
<rect x="536.05" y="56.92" width="6.4" height="12.92" fill="#ebeef9"/>
<rect x="541.95" y="56.92" width="5.9" height="12.92" fill="#fbe9e9"/>
<text x="550.6" y="66.68" font-size="8.7">Ccnd3</text>
<text x="397" y="59.92" font-size="9.5" text-anchor="end">astrocytes</text>
<rect x="404.2" y="72.54" width="6.4" height="13.42" fill="#f7d5d6"/>
<rect x="410.1" y="72.54" width="6.4" height="13.42" fill="#f7d5d6"/>
<rect x="416" y="72.54" width="6.4" height="13.42" fill="#b3bfe5"/>
<rect x="421.9" y="72.54" width="6.4" height="13.42" fill="#f7d5d6"/>
<rect x="427.8" y="72.54" width="6.4" height="13.42" fill="#ebeef9"/>
<rect x="433.7" y="72.54" width="5.9" height="13.42" fill="#fbe9e9"/>
<rect x="442.25" y="72.54" width="6.4" height="13.42" fill="#dc8589"/>
<rect x="448.15" y="72.54" width="6.4" height="13.42" fill="#f0b6b8"/>
<rect x="454.05" y="72.54" width="6.4" height="13.42" fill="#c9666a"/>
<rect x="459.95" y="72.54" width="6.4" height="13.42" fill="#b3bfe5"/>
<rect x="465.85" y="72.54" width="6.4" height="13.42" fill="#6c88c8"/>
<rect x="471.75" y="72.54" width="5.9" height="13.42" fill="#ebeef9"/>
<rect x="480.3" y="72.54" width="6.4" height="13.42" fill="#f7d5d6"/>
<rect x="486.2" y="72.54" width="6.4" height="13.42" fill="#f7d5d6"/>
<rect x="492.1" y="72.54" width="6.4" height="13.42" fill="#fbe9e9"/>
<rect x="498" y="72.54" width="6.4" height="13.42" fill="#fbe9e9"/>
<rect x="503.9" y="72.54" width="5.9" height="13.42" fill="#f0b6b8"/>
<rect x="512.45" y="72.54" width="6.4" height="13.42" fill="#fbe9e9"/>
<rect x="518.35" y="72.54" width="6.4" height="13.42" fill="#b3bfe5"/>
<rect x="524.25" y="72.54" width="6.4" height="13.42" fill="#ebeef9"/>
<rect x="530.15" y="72.54" width="6.4" height="13.42" fill="#f7d5d6"/>
<rect x="536.05" y="72.54" width="6.4" height="13.42" fill="#f0b6b8"/>
<rect x="541.95" y="72.54" width="5.9" height="13.42" fill="#f7d5d6"/>
<text x="550.6" y="82.3" font-size="8.7">Atox1</text>
<rect x="404.2" y="85.46" width="6.4" height="13.42" fill="#f6f4f8"/>
<rect x="410.1" y="85.46" width="6.4" height="13.42" fill="#fbe9e9"/>
<rect x="416" y="85.46" width="6.4" height="13.42" fill="#f6f4f8"/>
<rect x="421.9" y="85.46" width="6.4" height="13.42" fill="#ebeef9"/>
<rect x="427.8" y="85.46" width="6.4" height="13.42" fill="#f0b6b8"/>
<rect x="433.7" y="85.46" width="5.9" height="13.42" fill="#f7d5d6"/>
<rect x="442.25" y="85.46" width="6.4" height="13.42" fill="#f7d5d6"/>
<rect x="448.15" y="85.46" width="6.4" height="13.42" fill="#fbe9e9"/>
<rect x="454.05" y="85.46" width="6.4" height="13.42" fill="#fbe9e9"/>
<rect x="459.95" y="85.46" width="6.4" height="13.42" fill="#f6f4f8"/>
<rect x="465.85" y="85.46" width="6.4" height="13.42" fill="#f0b6b8"/>
<rect x="471.75" y="85.46" width="5.9" height="13.42" fill="#f0b6b8"/>
<rect x="480.3" y="85.46" width="6.4" height="13.42" fill="#fbe9e9"/>
<rect x="486.2" y="85.46" width="6.4" height="13.42" fill="#f7d5d6"/>
<rect x="492.1" y="85.46" width="6.4" height="13.42" fill="#ebeef9"/>
<rect x="498" y="85.46" width="6.4" height="13.42" fill="#b3bfe5"/>
<rect x="503.9" y="85.46" width="5.9" height="13.42" fill="#d1d8f0"/>
<rect x="512.45" y="85.46" width="6.4" height="13.42" fill="#d1d8f0"/>
<rect x="518.35" y="85.46" width="6.4" height="13.42" fill="#ebeef9"/>
<rect x="524.25" y="85.46" width="6.4" height="13.42" fill="#b3bfe5"/>
<rect x="530.15" y="85.46" width="6.4" height="13.42" fill="#dc8589"/>
<rect x="536.05" y="85.46" width="6.4" height="13.42" fill="#661a1f"/>
<rect x="541.95" y="85.46" width="5.9" height="13.42" fill="#f0b6b8"/>
<text x="550.6" y="95.22" font-size="8.7">Smarce1</text>
<rect x="404.2" y="98.38" width="6.4" height="13.42" fill="#ebeef9"/>
<rect x="410.1" y="98.38" width="6.4" height="13.42" fill="#fbe9e9"/>
<rect x="416" y="98.38" width="6.4" height="13.42" fill="#f6f4f8"/>
<rect x="421.9" y="98.38" width="6.4" height="13.42" fill="#ebeef9"/>
<rect x="427.8" y="98.38" width="6.4" height="13.42" fill="#d1d8f0"/>
<rect x="433.7" y="98.38" width="5.9" height="13.42" fill="#ebeef9"/>
<rect x="442.25" y="98.38" width="6.4" height="13.42" fill="#f7d5d6"/>
<rect x="448.15" y="98.38" width="6.4" height="13.42" fill="#f7d5d6"/>
<rect x="454.05" y="98.38" width="6.4" height="13.42" fill="#ebeef9"/>
<rect x="459.95" y="98.38" width="6.4" height="13.42" fill="#f6f4f8"/>
<rect x="465.85" y="98.38" width="6.4" height="13.42" fill="#ebeef9"/>
<rect x="471.75" y="98.38" width="5.9" height="13.42" fill="#d1d8f0"/>
<rect x="480.3" y="98.38" width="6.4" height="13.42" fill="#c9666a"/>
<rect x="486.2" y="98.38" width="6.4" height="13.42" fill="#c9666a"/>
<rect x="492.1" y="98.38" width="6.4" height="13.42" fill="#ad4549"/>
<rect x="498" y="98.38" width="6.4" height="13.42" fill="#dc8589"/>
<rect x="503.9" y="98.38" width="5.9" height="13.42" fill="#f7d5d6"/>
<rect x="512.45" y="98.38" width="6.4" height="13.42" fill="#f0b6b8"/>
<rect x="518.35" y="98.38" width="6.4" height="13.42" fill="#f0b6b8"/>
<rect x="524.25" y="98.38" width="6.4" height="13.42" fill="#f0b6b8"/>
<rect x="530.15" y="98.38" width="6.4" height="13.42" fill="#d1d8f0"/>
<rect x="536.05" y="98.38" width="6.4" height="13.42" fill="#d1d8f0"/>
<rect x="541.95" y="98.38" width="5.9" height="13.42" fill="#ebeef9"/>
<text x="550.6" y="108.14" font-size="8.7">Fkbp5</text>
<rect x="404.2" y="111.3" width="6.4" height="13.42" fill="#ebeef9"/>
<rect x="410.1" y="111.3" width="6.4" height="13.42" fill="#f6f4f8"/>
<rect x="416" y="111.3" width="6.4" height="13.42" fill="#fbe9e9"/>
<rect x="421.9" y="111.3" width="6.4" height="13.42" fill="#f7d5d6"/>
<rect x="427.8" y="111.3" width="6.4" height="13.42" fill="#f7d5d6"/>
<rect x="433.7" y="111.3" width="5.9" height="13.42" fill="#fbe9e9"/>
<rect x="442.25" y="111.3" width="6.4" height="13.42" fill="#f7d5d6"/>
<rect x="448.15" y="111.3" width="6.4" height="13.42" fill="#fbe9e9"/>
<rect x="454.05" y="111.3" width="6.4" height="13.42" fill="#ebeef9"/>
<rect x="459.95" y="111.3" width="6.4" height="13.42" fill="#ebeef9"/>
<rect x="465.85" y="111.3" width="6.4" height="13.42" fill="#93a6d9"/>
<rect x="471.75" y="111.3" width="5.9" height="13.42" fill="#b3bfe5"/>
<rect x="480.3" y="111.3" width="6.4" height="13.42" fill="#f7d5d6"/>
<rect x="486.2" y="111.3" width="6.4" height="13.42" fill="#fbe9e9"/>
<rect x="492.1" y="111.3" width="6.4" height="13.42" fill="#f7d5d6"/>
<rect x="498" y="111.3" width="6.4" height="13.42" fill="#fbe9e9"/>
<rect x="503.9" y="111.3" width="5.9" height="13.42" fill="#f7d5d6"/>
<rect x="512.45" y="111.3" width="6.4" height="13.42" fill="#963238"/>
<rect x="518.35" y="111.3" width="6.4" height="13.42" fill="#ad4549"/>
<rect x="524.25" y="111.3" width="6.4" height="13.42" fill="#c9666a"/>
<rect x="530.15" y="111.3" width="6.4" height="13.42" fill="#f6f4f8"/>
<rect x="536.05" y="111.3" width="6.4" height="13.42" fill="#f7d5d6"/>
<rect x="541.95" y="111.3" width="5.9" height="13.42" fill="#f7d5d6"/>
<text x="550.6" y="121.06" font-size="8.7">Msi2</text>
<rect x="404.2" y="124.22" width="6.4" height="12.92" fill="#d1d8f0"/>
<rect x="410.1" y="124.22" width="6.4" height="12.92" fill="#fbe9e9"/>
<rect x="416" y="124.22" width="6.4" height="12.92" fill="#fbe9e9"/>
<rect x="421.9" y="124.22" width="6.4" height="12.92" fill="#b3bfe5"/>
<rect x="427.8" y="124.22" width="6.4" height="12.92" fill="#b3bfe5"/>
<rect x="433.7" y="124.22" width="5.9" height="12.92" fill="#f6f4f8"/>
<rect x="442.25" y="124.22" width="6.4" height="12.92" fill="#f7d5d6"/>
<rect x="448.15" y="124.22" width="6.4" height="12.92" fill="#f7d5d6"/>
<rect x="454.05" y="124.22" width="6.4" height="12.92" fill="#d1d8f0"/>
<rect x="459.95" y="124.22" width="6.4" height="12.92" fill="#f6f4f8"/>
<rect x="465.85" y="124.22" width="6.4" height="12.92" fill="#ebeef9"/>
<rect x="471.75" y="124.22" width="5.9" height="12.92" fill="#b3bfe5"/>
<rect x="480.3" y="124.22" width="6.4" height="12.92" fill="#f0b6b8"/>
<rect x="486.2" y="124.22" width="6.4" height="12.92" fill="#f0b6b8"/>
<rect x="492.1" y="124.22" width="6.4" height="12.92" fill="#f0b6b8"/>
<rect x="498" y="124.22" width="6.4" height="12.92" fill="#f0b6b8"/>
<rect x="503.9" y="124.22" width="5.9" height="12.92" fill="#f7d5d6"/>
<rect x="512.45" y="124.22" width="6.4" height="12.92" fill="#dc8589"/>
<rect x="518.35" y="124.22" width="6.4" height="12.92" fill="#dc8589"/>
<rect x="524.25" y="124.22" width="6.4" height="12.92" fill="#c9666a"/>
<rect x="530.15" y="124.22" width="6.4" height="12.92" fill="#d1d8f0"/>
<rect x="536.05" y="124.22" width="6.4" height="12.92" fill="#d1d8f0"/>
<rect x="541.95" y="124.22" width="5.9" height="12.92" fill="#f6f4f8"/>
<text x="550.6" y="133.98" font-size="8.7">Ccnd3</text>
<text x="397" y="107.84" font-size="9.5" text-anchor="end">microglia</text>
<rect x="404.2" y="139.84" width="6.4" height="13.42" fill="#d1d8f0"/>
<rect x="410.1" y="139.84" width="6.4" height="13.42" fill="#f7d5d6"/>
<rect x="416" y="139.84" width="6.4" height="13.42" fill="#ebeef9"/>
<rect x="421.9" y="139.84" width="6.4" height="13.42" fill="#ebeef9"/>
<rect x="427.8" y="139.84" width="6.4" height="13.42" fill="#d1d8f0"/>
<rect x="433.7" y="139.84" width="5.9" height="13.42" fill="#f0b6b8"/>
<rect x="442.25" y="139.84" width="6.4" height="13.42" fill="#fbe9e9"/>
<rect x="448.15" y="139.84" width="6.4" height="13.42" fill="#f7d5d6"/>
<rect x="454.05" y="139.84" width="6.4" height="13.42" fill="#d1d8f0"/>
<rect x="459.95" y="139.84" width="6.4" height="13.42" fill="#fbe9e9"/>
<rect x="465.85" y="139.84" width="6.4" height="13.42" fill="#fbe9e9"/>
<rect x="471.75" y="139.84" width="5.9" height="13.42" fill="#ebeef9"/>
<rect x="480.3" y="139.84" width="6.4" height="13.42" fill="#6c88c8"/>
<rect x="486.2" y="139.84" width="6.4" height="13.42" fill="#ebeef9"/>
<rect x="492.1" y="139.84" width="6.4" height="13.42" fill="#fbe9e9"/>
<rect x="498" y="139.84" width="6.4" height="13.42" fill="#f6f4f8"/>
<rect x="503.9" y="139.84" width="5.9" height="13.42" fill="#f6f4f8"/>
<rect x="512.45" y="139.84" width="6.4" height="13.42" fill="#4a72ba"/>
<rect x="518.35" y="139.84" width="6.4" height="13.42" fill="#6c88c8"/>
<rect x="524.25" y="139.84" width="6.4" height="13.42" fill="#4a72ba"/>
<rect x="530.15" y="139.84" width="6.4" height="13.42" fill="#ebeef9"/>
<rect x="536.05" y="139.84" width="6.4" height="13.42" fill="#fbe9e9"/>
<rect x="541.95" y="139.84" width="5.9" height="13.42" fill="#fbe9e9"/>
<text x="550.6" y="149.6" font-size="8.7">Per3</text>
<rect x="404.2" y="152.76" width="6.4" height="13.42" fill="#ebeef9"/>
<rect x="410.1" y="152.76" width="6.4" height="13.42" fill="#fbe9e9"/>
<rect x="416" y="152.76" width="6.4" height="13.42" fill="#f6f4f8"/>
<rect x="421.9" y="152.76" width="6.4" height="13.42" fill="#f6f4f8"/>
<rect x="427.8" y="152.76" width="6.4" height="13.42" fill="#fbe9e9"/>
<rect x="433.7" y="152.76" width="5.9" height="13.42" fill="#ebeef9"/>
<rect x="442.25" y="152.76" width="6.4" height="13.42" fill="#dc8589"/>
<rect x="448.15" y="152.76" width="6.4" height="13.42" fill="#f0b6b8"/>
<rect x="454.05" y="152.76" width="6.4" height="13.42" fill="#f7d5d6"/>
<rect x="459.95" y="152.76" width="6.4" height="13.42" fill="#fbe9e9"/>
<rect x="465.85" y="152.76" width="6.4" height="13.42" fill="#f7d5d6"/>
<rect x="471.75" y="152.76" width="5.9" height="13.42" fill="#f7d5d6"/>
<rect x="480.3" y="152.76" width="6.4" height="13.42" fill="#963238"/>
<rect x="486.2" y="152.76" width="6.4" height="13.42" fill="#dc8589"/>
<rect x="492.1" y="152.76" width="6.4" height="13.42" fill="#c9666a"/>
<rect x="498" y="152.76" width="6.4" height="13.42" fill="#dc8589"/>
<rect x="503.9" y="152.76" width="5.9" height="13.42" fill="#f7d5d6"/>
<rect x="512.45" y="152.76" width="6.4" height="13.42" fill="#ad4549"/>
<rect x="518.35" y="152.76" width="6.4" height="13.42" fill="#c9666a"/>
<rect x="524.25" y="152.76" width="6.4" height="13.42" fill="#ad4549"/>
<rect x="530.15" y="152.76" width="6.4" height="13.42" fill="#d1d8f0"/>
<rect x="536.05" y="152.76" width="6.4" height="13.42" fill="#f6f4f8"/>
<rect x="541.95" y="152.76" width="5.9" height="13.42" fill="#f7d5d6"/>
<text x="550.6" y="162.52" font-size="8.7">Arhgap21</text>
<rect x="404.2" y="165.68" width="6.4" height="13.42" fill="#d1d8f0"/>
<rect x="410.1" y="165.68" width="6.4" height="13.42" fill="#fbe9e9"/>
<rect x="416" y="165.68" width="6.4" height="13.42" fill="#fbe9e9"/>
<rect x="421.9" y="165.68" width="6.4" height="13.42" fill="#d1d8f0"/>
<rect x="427.8" y="165.68" width="6.4" height="13.42" fill="#d1d8f0"/>
<rect x="433.7" y="165.68" width="5.9" height="13.42" fill="#ebeef9"/>
<rect x="442.25" y="165.68" width="6.4" height="13.42" fill="#dc8589"/>
<rect x="448.15" y="165.68" width="6.4" height="13.42" fill="#f7d5d6"/>
<rect x="454.05" y="165.68" width="6.4" height="13.42" fill="#ebeef9"/>
<rect x="459.95" y="165.68" width="6.4" height="13.42" fill="#f7d5d6"/>
<rect x="465.85" y="165.68" width="6.4" height="13.42" fill="#fbe9e9"/>
<rect x="471.75" y="165.68" width="5.9" height="13.42" fill="#f6f4f8"/>
<rect x="480.3" y="165.68" width="6.4" height="13.42" fill="#c9666a"/>
<rect x="486.2" y="165.68" width="6.4" height="13.42" fill="#ad4549"/>
<rect x="492.1" y="165.68" width="6.4" height="13.42" fill="#ad4549"/>
<rect x="498" y="165.68" width="6.4" height="13.42" fill="#dc8589"/>
<rect x="503.9" y="165.68" width="5.9" height="13.42" fill="#f7d5d6"/>
<rect x="512.45" y="165.68" width="6.4" height="13.42" fill="#dc8589"/>
<rect x="518.35" y="165.68" width="6.4" height="13.42" fill="#f0b6b8"/>
<rect x="524.25" y="165.68" width="6.4" height="13.42" fill="#f0b6b8"/>
<rect x="530.15" y="165.68" width="6.4" height="13.42" fill="#ebeef9"/>
<rect x="536.05" y="165.68" width="6.4" height="13.42" fill="#f6f4f8"/>
<rect x="541.95" y="165.68" width="5.9" height="13.42" fill="#f6f4f8"/>
<text x="550.6" y="175.44" font-size="8.7">Arid5b</text>
<rect x="404.2" y="178.6" width="6.4" height="13.42" fill="#f6f4f8"/>
<rect x="410.1" y="178.6" width="6.4" height="13.42" fill="#ebeef9"/>
<rect x="416" y="178.6" width="6.4" height="13.42" fill="#fbe9e9"/>
<rect x="421.9" y="178.6" width="6.4" height="13.42" fill="#ebeef9"/>
<rect x="427.8" y="178.6" width="6.4" height="13.42" fill="#ebeef9"/>
<rect x="433.7" y="178.6" width="5.9" height="13.42" fill="#f6f4f8"/>
<rect x="442.25" y="178.6" width="6.4" height="13.42" fill="#fbe9e9"/>
<rect x="448.15" y="178.6" width="6.4" height="13.42" fill="#f7d5d6"/>
<rect x="454.05" y="178.6" width="6.4" height="13.42" fill="#f6f4f8"/>
<rect x="459.95" y="178.6" width="6.4" height="13.42" fill="#f7d5d6"/>
<rect x="465.85" y="178.6" width="6.4" height="13.42" fill="#ebeef9"/>
<rect x="471.75" y="178.6" width="5.9" height="13.42" fill="#f6f4f8"/>
<rect x="480.3" y="178.6" width="6.4" height="13.42" fill="#dc8589"/>
<rect x="486.2" y="178.6" width="6.4" height="13.42" fill="#f0b6b8"/>
<rect x="492.1" y="178.6" width="6.4" height="13.42" fill="#f0b6b8"/>
<rect x="498" y="178.6" width="6.4" height="13.42" fill="#f7d5d6"/>
<rect x="503.9" y="178.6" width="5.9" height="13.42" fill="#fbe9e9"/>
<rect x="512.45" y="178.6" width="6.4" height="13.42" fill="#661a1f"/>
<rect x="518.35" y="178.6" width="6.4" height="13.42" fill="#7e262b"/>
<rect x="524.25" y="178.6" width="6.4" height="13.42" fill="#ad4549"/>
<rect x="530.15" y="178.6" width="6.4" height="13.42" fill="#ebeef9"/>
<rect x="536.05" y="178.6" width="6.4" height="13.42" fill="#f6f4f8"/>
<rect x="541.95" y="178.6" width="5.9" height="13.42" fill="#fbe9e9"/>
<text x="550.6" y="188.36" font-size="8.7">Sgk3</text>
<rect x="404.2" y="191.52" width="6.4" height="13.42" fill="#f6f4f8"/>
<rect x="410.1" y="191.52" width="6.4" height="13.42" fill="#f6f4f8"/>
<rect x="416" y="191.52" width="6.4" height="13.42" fill="#f6f4f8"/>
<rect x="421.9" y="191.52" width="6.4" height="13.42" fill="#ebeef9"/>
<rect x="427.8" y="191.52" width="6.4" height="13.42" fill="#f6f4f8"/>
<rect x="433.7" y="191.52" width="5.9" height="13.42" fill="#fbe9e9"/>
<rect x="442.25" y="191.52" width="6.4" height="13.42" fill="#f7d5d6"/>
<rect x="448.15" y="191.52" width="6.4" height="13.42" fill="#fbe9e9"/>
<rect x="454.05" y="191.52" width="6.4" height="13.42" fill="#f6f4f8"/>
<rect x="459.95" y="191.52" width="6.4" height="13.42" fill="#f7d5d6"/>
<rect x="465.85" y="191.52" width="6.4" height="13.42" fill="#f7d5d6"/>
<rect x="471.75" y="191.52" width="5.9" height="13.42" fill="#f6f4f8"/>
<rect x="480.3" y="191.52" width="6.4" height="13.42" fill="#f0b6b8"/>
<rect x="486.2" y="191.52" width="6.4" height="13.42" fill="#f6f4f8"/>
<rect x="492.1" y="191.52" width="6.4" height="13.42" fill="#f7d5d6"/>
<rect x="498" y="191.52" width="6.4" height="13.42" fill="#fbe9e9"/>
<rect x="503.9" y="191.52" width="5.9" height="13.42" fill="#d1d8f0"/>
<rect x="512.45" y="191.52" width="6.4" height="13.42" fill="#661a1f"/>
<rect x="518.35" y="191.52" width="6.4" height="13.42" fill="#661a1f"/>
<rect x="524.25" y="191.52" width="6.4" height="13.42" fill="#963238"/>
<rect x="530.15" y="191.52" width="6.4" height="13.42" fill="#f6f4f8"/>
<rect x="536.05" y="191.52" width="6.4" height="13.42" fill="#fbe9e9"/>
<rect x="541.95" y="191.52" width="5.9" height="13.42" fill="#f7d5d6"/>
<text x="550.6" y="201.28" font-size="8.7">Slc25a13</text>
<rect x="404.2" y="204.44" width="6.4" height="13.42" fill="#ebeef9"/>
<rect x="410.1" y="204.44" width="6.4" height="13.42" fill="#f7d5d6"/>
<rect x="416" y="204.44" width="6.4" height="13.42" fill="#ebeef9"/>
<rect x="421.9" y="204.44" width="6.4" height="13.42" fill="#f6f4f8"/>
<rect x="427.8" y="204.44" width="6.4" height="13.42" fill="#ebeef9"/>
<rect x="433.7" y="204.44" width="5.9" height="13.42" fill="#f7d5d6"/>
<rect x="442.25" y="204.44" width="6.4" height="13.42" fill="#f7d5d6"/>
<rect x="448.15" y="204.44" width="6.4" height="13.42" fill="#fbe9e9"/>
<rect x="454.05" y="204.44" width="6.4" height="13.42" fill="#ebeef9"/>
<rect x="459.95" y="204.44" width="6.4" height="13.42" fill="#fbe9e9"/>
<rect x="465.85" y="204.44" width="6.4" height="13.42" fill="#fbe9e9"/>
<rect x="471.75" y="204.44" width="5.9" height="13.42" fill="#fbe9e9"/>
<rect x="480.3" y="204.44" width="6.4" height="13.42" fill="#f0b6b8"/>
<rect x="486.2" y="204.44" width="6.4" height="13.42" fill="#f7d5d6"/>
<rect x="492.1" y="204.44" width="6.4" height="13.42" fill="#d1d8f0"/>
<rect x="498" y="204.44" width="6.4" height="13.42" fill="#d1d8f0"/>
<rect x="503.9" y="204.44" width="5.9" height="13.42" fill="#d1d8f0"/>
<rect x="512.45" y="204.44" width="6.4" height="13.42" fill="#661a1f"/>
<rect x="518.35" y="204.44" width="6.4" height="13.42" fill="#963238"/>
<rect x="524.25" y="204.44" width="6.4" height="13.42" fill="#dc8589"/>
<rect x="530.15" y="204.44" width="6.4" height="13.42" fill="#f6f4f8"/>
<rect x="536.05" y="204.44" width="6.4" height="13.42" fill="#ebeef9"/>
<rect x="541.95" y="204.44" width="5.9" height="13.42" fill="#f7d5d6"/>
<text x="550.6" y="214.2" font-size="8.7">Acaca</text>
<rect x="404.2" y="217.36" width="6.4" height="13.42" fill="#ebeef9"/>
<rect x="410.1" y="217.36" width="6.4" height="13.42" fill="#ebeef9"/>
<rect x="416" y="217.36" width="6.4" height="13.42" fill="#f7d5d6"/>
<rect x="421.9" y="217.36" width="6.4" height="13.42" fill="#ebeef9"/>
<rect x="427.8" y="217.36" width="6.4" height="13.42" fill="#ebeef9"/>
<rect x="433.7" y="217.36" width="5.9" height="13.42" fill="#ebeef9"/>
<rect x="442.25" y="217.36" width="6.4" height="13.42" fill="#f6f4f8"/>
<rect x="448.15" y="217.36" width="6.4" height="13.42" fill="#ebeef9"/>
<rect x="454.05" y="217.36" width="6.4" height="13.42" fill="#f6f4f8"/>
<rect x="459.95" y="217.36" width="6.4" height="13.42" fill="#fbe9e9"/>
<rect x="465.85" y="217.36" width="6.4" height="13.42" fill="#ebeef9"/>
<rect x="471.75" y="217.36" width="5.9" height="13.42" fill="#ebeef9"/>
<rect x="480.3" y="217.36" width="6.4" height="13.42" fill="#fbe9e9"/>
<rect x="486.2" y="217.36" width="6.4" height="13.42" fill="#f7d5d6"/>
<rect x="492.1" y="217.36" width="6.4" height="13.42" fill="#fbe9e9"/>
<rect x="498" y="217.36" width="6.4" height="13.42" fill="#ebeef9"/>
<rect x="503.9" y="217.36" width="5.9" height="13.42" fill="#ebeef9"/>
<rect x="512.45" y="217.36" width="6.4" height="13.42" fill="#963238"/>
<rect x="518.35" y="217.36" width="6.4" height="13.42" fill="#7e262b"/>
<rect x="524.25" y="217.36" width="6.4" height="13.42" fill="#c9666a"/>
<rect x="530.15" y="217.36" width="6.4" height="13.42" fill="#f7d5d6"/>
<rect x="536.05" y="217.36" width="6.4" height="13.42" fill="#f0b6b8"/>
<rect x="541.95" y="217.36" width="5.9" height="13.42" fill="#f0b6b8"/>
<text x="550.6" y="227.12" font-size="8.7">Cdkn1a</text>
<rect x="404.2" y="230.28" width="6.4" height="13.42" fill="#ebeef9"/>
<rect x="410.1" y="230.28" width="6.4" height="13.42" fill="#f7d5d6"/>
<rect x="416" y="230.28" width="6.4" height="13.42" fill="#ebeef9"/>
<rect x="421.9" y="230.28" width="6.4" height="13.42" fill="#d1d8f0"/>
<rect x="427.8" y="230.28" width="6.4" height="13.42" fill="#b3bfe5"/>
<rect x="433.7" y="230.28" width="5.9" height="13.42" fill="#ebeef9"/>
<rect x="442.25" y="230.28" width="6.4" height="13.42" fill="#f7d5d6"/>
<rect x="448.15" y="230.28" width="6.4" height="13.42" fill="#ebeef9"/>
<rect x="454.05" y="230.28" width="6.4" height="13.42" fill="#ebeef9"/>
<rect x="459.95" y="230.28" width="6.4" height="13.42" fill="#f6f4f8"/>
<rect x="465.85" y="230.28" width="6.4" height="13.42" fill="#d1d8f0"/>
<rect x="471.75" y="230.28" width="5.9" height="13.42" fill="#d1d8f0"/>
<rect x="480.3" y="230.28" width="6.4" height="13.42" fill="#f0b6b8"/>
<rect x="486.2" y="230.28" width="6.4" height="13.42" fill="#f6f4f8"/>
<rect x="492.1" y="230.28" width="6.4" height="13.42" fill="#f7d5d6"/>
<rect x="498" y="230.28" width="6.4" height="13.42" fill="#fbe9e9"/>
<rect x="503.9" y="230.28" width="5.9" height="13.42" fill="#ebeef9"/>
<rect x="512.45" y="230.28" width="6.4" height="13.42" fill="#ad4549"/>
<rect x="518.35" y="230.28" width="6.4" height="13.42" fill="#c9666a"/>
<rect x="524.25" y="230.28" width="6.4" height="13.42" fill="#c9666a"/>
<rect x="530.15" y="230.28" width="6.4" height="13.42" fill="#b3bfe5"/>
<rect x="536.05" y="230.28" width="6.4" height="13.42" fill="#d1d8f0"/>
<rect x="541.95" y="230.28" width="5.9" height="13.42" fill="#f6f4f8"/>
<text x="550.6" y="240.04" font-size="8.7">Ssh2</text>
<rect x="404.2" y="243.2" width="6.4" height="13.42" fill="#ebeef9"/>
<rect x="410.1" y="243.2" width="6.4" height="13.42" fill="#f6f4f8"/>
<rect x="416" y="243.2" width="6.4" height="13.42" fill="#f7d5d6"/>
<rect x="421.9" y="243.2" width="6.4" height="13.42" fill="#d1d8f0"/>
<rect x="427.8" y="243.2" width="6.4" height="13.42" fill="#d1d8f0"/>
<rect x="433.7" y="243.2" width="5.9" height="13.42" fill="#d1d8f0"/>
<rect x="442.25" y="243.2" width="6.4" height="13.42" fill="#f0b6b8"/>
<rect x="448.15" y="243.2" width="6.4" height="13.42" fill="#fbe9e9"/>
<rect x="454.05" y="243.2" width="6.4" height="13.42" fill="#ebeef9"/>
<rect x="459.95" y="243.2" width="6.4" height="13.42" fill="#f6f4f8"/>
<rect x="465.85" y="243.2" width="6.4" height="13.42" fill="#ebeef9"/>
<rect x="471.75" y="243.2" width="5.9" height="13.42" fill="#ebeef9"/>
<rect x="480.3" y="243.2" width="6.4" height="13.42" fill="#dc8589"/>
<rect x="486.2" y="243.2" width="6.4" height="13.42" fill="#c9666a"/>
<rect x="492.1" y="243.2" width="6.4" height="13.42" fill="#f0b6b8"/>
<rect x="498" y="243.2" width="6.4" height="13.42" fill="#dc8589"/>
<rect x="503.9" y="243.2" width="5.9" height="13.42" fill="#dc8589"/>
<rect x="512.45" y="243.2" width="6.4" height="13.42" fill="#c9666a"/>
<rect x="518.35" y="243.2" width="6.4" height="13.42" fill="#f7d5d6"/>
<rect x="524.25" y="243.2" width="6.4" height="13.42" fill="#f7d5d6"/>
<rect x="530.15" y="243.2" width="6.4" height="13.42" fill="#d1d8f0"/>
<rect x="536.05" y="243.2" width="6.4" height="13.42" fill="#b3bfe5"/>
<rect x="541.95" y="243.2" width="5.9" height="13.42" fill="#d1d8f0"/>
<text x="550.6" y="252.96" font-size="8.7">Tob2</text>
<rect x="404.2" y="256.12" width="6.4" height="13.42" fill="#ebeef9"/>
<rect x="410.1" y="256.12" width="6.4" height="13.42" fill="#fbe9e9"/>
<rect x="416" y="256.12" width="6.4" height="13.42" fill="#ebeef9"/>
<rect x="421.9" y="256.12" width="6.4" height="13.42" fill="#d1d8f0"/>
<rect x="427.8" y="256.12" width="6.4" height="13.42" fill="#b3bfe5"/>
<rect x="433.7" y="256.12" width="5.9" height="13.42" fill="#fbe9e9"/>
<rect x="442.25" y="256.12" width="6.4" height="13.42" fill="#ebeef9"/>
<rect x="448.15" y="256.12" width="6.4" height="13.42" fill="#f6f4f8"/>
<rect x="454.05" y="256.12" width="6.4" height="13.42" fill="#f7d5d6"/>
<rect x="459.95" y="256.12" width="6.4" height="13.42" fill="#ebeef9"/>
<rect x="465.85" y="256.12" width="6.4" height="13.42" fill="#b3bfe5"/>
<rect x="471.75" y="256.12" width="5.9" height="13.42" fill="#d1d8f0"/>
<rect x="480.3" y="256.12" width="6.4" height="13.42" fill="#f7d5d6"/>
<rect x="486.2" y="256.12" width="6.4" height="13.42" fill="#f0b6b8"/>
<rect x="492.1" y="256.12" width="6.4" height="13.42" fill="#fbe9e9"/>
<rect x="498" y="256.12" width="6.4" height="13.42" fill="#ebeef9"/>
<rect x="503.9" y="256.12" width="5.9" height="13.42" fill="#f6f4f8"/>
<rect x="512.45" y="256.12" width="6.4" height="13.42" fill="#ad4549"/>
<rect x="518.35" y="256.12" width="6.4" height="13.42" fill="#dc8589"/>
<rect x="524.25" y="256.12" width="6.4" height="13.42" fill="#f0b6b8"/>
<rect x="530.15" y="256.12" width="6.4" height="13.42" fill="#4a72ba"/>
<rect x="536.05" y="256.12" width="6.4" height="13.42" fill="#b3bfe5"/>
<rect x="541.95" y="256.12" width="5.9" height="13.42" fill="#b3bfe5"/>
<text x="550.6" y="265.88" font-size="8.7">Csnk1g3</text>
<rect x="404.2" y="269.04" width="6.4" height="13.42" fill="#fbe9e9"/>
<rect x="410.1" y="269.04" width="6.4" height="13.42" fill="#f7d5d6"/>
<rect x="416" y="269.04" width="6.4" height="13.42" fill="#b3bfe5"/>
<rect x="421.9" y="269.04" width="6.4" height="13.42" fill="#b3bfe5"/>
<rect x="427.8" y="269.04" width="6.4" height="13.42" fill="#ebeef9"/>
<rect x="433.7" y="269.04" width="5.9" height="13.42" fill="#ebeef9"/>
<rect x="442.25" y="269.04" width="6.4" height="13.42" fill="#fbe9e9"/>
<rect x="448.15" y="269.04" width="6.4" height="13.42" fill="#f7d5d6"/>
<rect x="454.05" y="269.04" width="6.4" height="13.42" fill="#fbe9e9"/>
<rect x="459.95" y="269.04" width="6.4" height="13.42" fill="#f6f4f8"/>
<rect x="465.85" y="269.04" width="6.4" height="13.42" fill="#ebeef9"/>
<rect x="471.75" y="269.04" width="5.9" height="13.42" fill="#ebeef9"/>
<rect x="480.3" y="269.04" width="6.4" height="13.42" fill="#f7d5d6"/>
<rect x="486.2" y="269.04" width="6.4" height="13.42" fill="#f6f4f8"/>
<rect x="492.1" y="269.04" width="6.4" height="13.42" fill="#ebeef9"/>
<rect x="498" y="269.04" width="6.4" height="13.42" fill="#f6f4f8"/>
<rect x="503.9" y="269.04" width="5.9" height="13.42" fill="#b3bfe5"/>
<rect x="512.45" y="269.04" width="6.4" height="13.42" fill="#dc8589"/>
<rect x="518.35" y="269.04" width="6.4" height="13.42" fill="#ad4549"/>
<rect x="524.25" y="269.04" width="6.4" height="13.42" fill="#f7d5d6"/>
<rect x="530.15" y="269.04" width="6.4" height="13.42" fill="#6c88c8"/>
<rect x="536.05" y="269.04" width="6.4" height="13.42" fill="#b3bfe5"/>
<rect x="541.95" y="269.04" width="5.9" height="13.42" fill="#93a6d9"/>
<text x="550.6" y="278.8" font-size="8.7">Unc5c</text>
<rect x="404.2" y="281.96" width="6.4" height="13.42" fill="#ebeef9"/>
<rect x="410.1" y="281.96" width="6.4" height="13.42" fill="#fbe9e9"/>
<rect x="416" y="281.96" width="6.4" height="13.42" fill="#ebeef9"/>
<rect x="421.9" y="281.96" width="6.4" height="13.42" fill="#ebeef9"/>
<rect x="427.8" y="281.96" width="6.4" height="13.42" fill="#d1d8f0"/>
<rect x="433.7" y="281.96" width="5.9" height="13.42" fill="#d1d8f0"/>
<rect x="442.25" y="281.96" width="6.4" height="13.42" fill="#f7d5d6"/>
<rect x="448.15" y="281.96" width="6.4" height="13.42" fill="#d1d8f0"/>
<rect x="454.05" y="281.96" width="6.4" height="13.42" fill="#b3bfe5"/>
<rect x="459.95" y="281.96" width="6.4" height="13.42" fill="#b3bfe5"/>
<rect x="465.85" y="281.96" width="6.4" height="13.42" fill="#b3bfe5"/>
<rect x="471.75" y="281.96" width="5.9" height="13.42" fill="#d1d8f0"/>
<rect x="480.3" y="281.96" width="6.4" height="13.42" fill="#f0b6b8"/>
<rect x="486.2" y="281.96" width="6.4" height="13.42" fill="#f0b6b8"/>
<rect x="492.1" y="281.96" width="6.4" height="13.42" fill="#f0b6b8"/>
<rect x="498" y="281.96" width="6.4" height="13.42" fill="#fbe9e9"/>
<rect x="503.9" y="281.96" width="5.9" height="13.42" fill="#fbe9e9"/>
<rect x="512.45" y="281.96" width="6.4" height="13.42" fill="#dc8589"/>
<rect x="518.35" y="281.96" width="6.4" height="13.42" fill="#fbe9e9"/>
<rect x="524.25" y="281.96" width="6.4" height="13.42" fill="#fbe9e9"/>
<rect x="530.15" y="281.96" width="6.4" height="13.42" fill="#93a6d9"/>
<rect x="536.05" y="281.96" width="6.4" height="13.42" fill="#4a72ba"/>
<rect x="541.95" y="281.96" width="5.9" height="13.42" fill="#d1d8f0"/>
<text x="550.6" y="291.72" font-size="8.7">Arhgap39</text>
<rect x="404.2" y="294.88" width="6.4" height="12.92" fill="#d1d8f0"/>
<rect x="410.1" y="294.88" width="6.4" height="12.92" fill="#fbe9e9"/>
<rect x="416" y="294.88" width="6.4" height="12.92" fill="#fbe9e9"/>
<rect x="421.9" y="294.88" width="6.4" height="12.92" fill="#6c88c8"/>
<rect x="427.8" y="294.88" width="6.4" height="12.92" fill="#d1d8f0"/>
<rect x="433.7" y="294.88" width="5.9" height="12.92" fill="#93a6d9"/>
<rect x="442.25" y="294.88" width="6.4" height="12.92" fill="#93a6d9"/>
<rect x="448.15" y="294.88" width="6.4" height="12.92" fill="#6c88c8"/>
<rect x="454.05" y="294.88" width="6.4" height="12.92" fill="#ebeef9"/>
<rect x="459.95" y="294.88" width="6.4" height="12.92" fill="#93a6d9"/>
<rect x="465.85" y="294.88" width="6.4" height="12.92" fill="#ebeef9"/>
<rect x="471.75" y="294.88" width="5.9" height="12.92" fill="#ebeef9"/>
<rect x="480.3" y="294.88" width="6.4" height="12.92" fill="#3061ae"/>
<rect x="486.2" y="294.88" width="6.4" height="12.92" fill="#93a6d9"/>
<rect x="492.1" y="294.88" width="6.4" height="12.92" fill="#ebeef9"/>
<rect x="498" y="294.88" width="6.4" height="12.92" fill="#f6f4f8"/>
<rect x="503.9" y="294.88" width="5.9" height="12.92" fill="#f6f4f8"/>
<rect x="512.45" y="294.88" width="6.4" height="12.92" fill="#f7d5d6"/>
<rect x="518.35" y="294.88" width="6.4" height="12.92" fill="#f0b6b8"/>
<rect x="524.25" y="294.88" width="6.4" height="12.92" fill="#fbe9e9"/>
<rect x="530.15" y="294.88" width="6.4" height="12.92" fill="#fbe9e9"/>
<rect x="536.05" y="294.88" width="6.4" height="12.92" fill="#fbe9e9"/>
<rect x="541.95" y="294.88" width="5.9" height="12.92" fill="#f6f4f8"/>
<text x="550.6" y="304.64" font-size="8.7">P4ha1</text>
<text x="397" y="226.82" font-size="9.5" text-anchor="end">oligodendrocyte</text>
<rect x="404.2" y="310.5" width="6.4" height="13.42" fill="#f6f4f8"/>
<rect x="410.1" y="310.5" width="6.4" height="13.42" fill="#fbe9e9"/>
<rect x="416" y="310.5" width="6.4" height="13.42" fill="#ebeef9"/>
<rect x="421.9" y="310.5" width="6.4" height="13.42" fill="#d1d8f0"/>
<rect x="427.8" y="310.5" width="6.4" height="13.42" fill="#d1d8f0"/>
<rect x="433.7" y="310.5" width="5.9" height="13.42" fill="#d1d8f0"/>
<rect x="442.25" y="310.5" width="6.4" height="13.42" fill="#f0b6b8"/>
<rect x="448.15" y="310.5" width="6.4" height="13.42" fill="#c9666a"/>
<rect x="454.05" y="310.5" width="6.4" height="13.42" fill="#dc8589"/>
<rect x="459.95" y="310.5" width="6.4" height="13.42" fill="#f6f4f8"/>
<rect x="465.85" y="310.5" width="6.4" height="13.42" fill="#fbe9e9"/>
<rect x="471.75" y="310.5" width="5.9" height="13.42" fill="#ebeef9"/>
<rect x="480.3" y="310.5" width="6.4" height="13.42" fill="#ebeef9"/>
<rect x="486.2" y="310.5" width="6.4" height="13.42" fill="#d1d8f0"/>
<rect x="492.1" y="310.5" width="6.4" height="13.42" fill="#ad4549"/>
<rect x="498" y="310.5" width="6.4" height="13.42" fill="#f7d5d6"/>
<rect x="503.9" y="310.5" width="5.9" height="13.42" fill="#c9666a"/>
<rect x="512.45" y="310.5" width="6.4" height="13.42" fill="#dc8589"/>
<rect x="518.35" y="310.5" width="6.4" height="13.42" fill="#f7d5d6"/>
<rect x="524.25" y="310.5" width="6.4" height="13.42" fill="#f0b6b8"/>
<rect x="530.15" y="310.5" width="6.4" height="13.42" fill="#fbe9e9"/>
<rect x="536.05" y="310.5" width="6.4" height="13.42" fill="#fbe9e9"/>
<rect x="541.95" y="310.5" width="5.9" height="13.42" fill="#b3bfe5"/>
<text x="550.6" y="320.26" font-size="8.7">Sybu</text>
<rect x="404.2" y="323.42" width="6.4" height="13.42" fill="#f6f4f8"/>
<rect x="410.1" y="323.42" width="6.4" height="13.42" fill="#fbe9e9"/>
<rect x="416" y="323.42" width="6.4" height="13.42" fill="#f6f4f8"/>
<rect x="421.9" y="323.42" width="6.4" height="13.42" fill="#ebeef9"/>
<rect x="427.8" y="323.42" width="6.4" height="13.42" fill="#ebeef9"/>
<rect x="433.7" y="323.42" width="5.9" height="13.42" fill="#ebeef9"/>
<rect x="442.25" y="323.42" width="6.4" height="13.42" fill="#f7d5d6"/>
<rect x="448.15" y="323.42" width="6.4" height="13.42" fill="#dc8589"/>
<rect x="454.05" y="323.42" width="6.4" height="13.42" fill="#f6f4f8"/>
<rect x="459.95" y="323.42" width="6.4" height="13.42" fill="#f7d5d6"/>
<rect x="465.85" y="323.42" width="6.4" height="13.42" fill="#d1d8f0"/>
<rect x="471.75" y="323.42" width="5.9" height="13.42" fill="#f6f4f8"/>
<rect x="480.3" y="323.42" width="6.4" height="13.42" fill="#963238"/>
<rect x="486.2" y="323.42" width="6.4" height="13.42" fill="#f0b6b8"/>
<rect x="492.1" y="323.42" width="6.4" height="13.42" fill="#7e262b"/>
<rect x="498" y="323.42" width="6.4" height="13.42" fill="#f0b6b8"/>
<rect x="503.9" y="323.42" width="5.9" height="13.42" fill="#f0b6b8"/>
<rect x="512.45" y="323.42" width="6.4" height="13.42" fill="#f7d5d6"/>
<rect x="518.35" y="323.42" width="6.4" height="13.42" fill="#c9666a"/>
<rect x="524.25" y="323.42" width="6.4" height="13.42" fill="#dc8589"/>
<rect x="530.15" y="323.42" width="6.4" height="13.42" fill="#f6f4f8"/>
<rect x="536.05" y="323.42" width="6.4" height="13.42" fill="#fbe9e9"/>
<rect x="541.95" y="323.42" width="5.9" height="13.42" fill="#fbe9e9"/>
<text x="550.6" y="333.18" font-size="8.7">Zbtb16</text>
<rect x="404.2" y="336.34" width="6.4" height="13.42" fill="#d1d8f0"/>
<rect x="410.1" y="336.34" width="6.4" height="13.42" fill="#f7d5d6"/>
<rect x="416" y="336.34" width="6.4" height="13.42" fill="#ebeef9"/>
<rect x="421.9" y="336.34" width="6.4" height="13.42" fill="#fbe9e9"/>
<rect x="427.8" y="336.34" width="6.4" height="13.42" fill="#fbe9e9"/>
<rect x="433.7" y="336.34" width="5.9" height="13.42" fill="#f6f4f8"/>
<rect x="442.25" y="336.34" width="6.4" height="13.42" fill="#f7d5d6"/>
<rect x="448.15" y="336.34" width="6.4" height="13.42" fill="#f7d5d6"/>
<rect x="454.05" y="336.34" width="6.4" height="13.42" fill="#d1d8f0"/>
<rect x="459.95" y="336.34" width="6.4" height="13.42" fill="#fbe9e9"/>
<rect x="465.85" y="336.34" width="6.4" height="13.42" fill="#fbe9e9"/>
<rect x="471.75" y="336.34" width="5.9" height="13.42" fill="#fbe9e9"/>
<rect x="480.3" y="336.34" width="6.4" height="13.42" fill="#c9666a"/>
<rect x="486.2" y="336.34" width="6.4" height="13.42" fill="#dc8589"/>
<rect x="492.1" y="336.34" width="6.4" height="13.42" fill="#dc8589"/>
<rect x="498" y="336.34" width="6.4" height="13.42" fill="#dc8589"/>
<rect x="503.9" y="336.34" width="5.9" height="13.42" fill="#f0b6b8"/>
<rect x="512.45" y="336.34" width="6.4" height="13.42" fill="#963238"/>
<rect x="518.35" y="336.34" width="6.4" height="13.42" fill="#c9666a"/>
<rect x="524.25" y="336.34" width="6.4" height="13.42" fill="#ad4549"/>
<rect x="530.15" y="336.34" width="6.4" height="13.42" fill="#d1d8f0"/>
<rect x="536.05" y="336.34" width="6.4" height="13.42" fill="#f6f4f8"/>
<rect x="541.95" y="336.34" width="5.9" height="13.42" fill="#f6f4f8"/>
<text x="550.6" y="346.1" font-size="8.7">Mertk</text>
<rect x="404.2" y="349.26" width="6.4" height="12.92" fill="#fbe9e9"/>
<rect x="410.1" y="349.26" width="6.4" height="12.92" fill="#f6f4f8"/>
<rect x="416" y="349.26" width="6.4" height="12.92" fill="#ebeef9"/>
<rect x="421.9" y="349.26" width="6.4" height="12.92" fill="#213c7d"/>
<rect x="427.8" y="349.26" width="6.4" height="12.92" fill="#213c7d"/>
<rect x="433.7" y="349.26" width="5.9" height="12.92" fill="#3061ae"/>
<rect x="442.25" y="349.26" width="6.4" height="12.92" fill="#ebeef9"/>
<rect x="448.15" y="349.26" width="6.4" height="12.92" fill="#b3bfe5"/>
<rect x="454.05" y="349.26" width="6.4" height="12.92" fill="#ebeef9"/>
<rect x="459.95" y="349.26" width="6.4" height="12.92" fill="#6c88c8"/>
<rect x="465.85" y="349.26" width="6.4" height="12.92" fill="#f6f4f8"/>
<rect x="471.75" y="349.26" width="5.9" height="12.92" fill="#3061ae"/>
<rect x="480.3" y="349.26" width="6.4" height="12.92" fill="#b3bfe5"/>
<rect x="486.2" y="349.26" width="6.4" height="12.92" fill="#d1d8f0"/>
<rect x="492.1" y="349.26" width="6.4" height="12.92" fill="#d1d8f0"/>
<rect x="498" y="349.26" width="6.4" height="12.92" fill="#d1d8f0"/>
<rect x="503.9" y="349.26" width="5.9" height="12.92" fill="#ebeef9"/>
<rect x="512.45" y="349.26" width="6.4" height="12.92" fill="#ebeef9"/>
<rect x="518.35" y="349.26" width="6.4" height="12.92" fill="#d1d8f0"/>
<rect x="524.25" y="349.26" width="6.4" height="12.92" fill="#b3bfe5"/>
<rect x="530.15" y="349.26" width="6.4" height="12.92" fill="#ebeef9"/>
<rect x="536.05" y="349.26" width="6.4" height="12.92" fill="#b3bfe5"/>
<rect x="541.95" y="349.26" width="5.9" height="12.92" fill="#93a6d9"/>
<text x="550.6" y="359.02" font-size="8.7">Zfhx2</text>
<text x="397" y="339.34" font-size="9.5" text-anchor="end">OPC</text>
<rect x="404.2" y="364.88" width="6.4" height="13.42" fill="#ebeef9"/>
<rect x="410.1" y="364.88" width="6.4" height="13.42" fill="#fbe9e9"/>
<rect x="416" y="364.88" width="6.4" height="13.42" fill="#f6f4f8"/>
<rect x="421.9" y="364.88" width="6.4" height="13.42" fill="#ebeef9"/>
<rect x="427.8" y="364.88" width="6.4" height="13.42" fill="#ebeef9"/>
<rect x="433.7" y="364.88" width="5.9" height="13.42" fill="#fbe9e9"/>
<rect x="442.25" y="364.88" width="6.4" height="13.42" fill="#ad4549"/>
<rect x="448.15" y="364.88" width="6.4" height="13.42" fill="#dc8589"/>
<rect x="454.05" y="364.88" width="6.4" height="13.42" fill="#dc8589"/>
<rect x="459.95" y="364.88" width="6.4" height="13.42" fill="#fbe9e9"/>
<rect x="465.85" y="364.88" width="6.4" height="13.42" fill="#f0b6b8"/>
<rect x="471.75" y="364.88" width="5.9" height="13.42" fill="#f0b6b8"/>
<rect x="480.3" y="364.88" width="6.4" height="13.42" fill="#963238"/>
<rect x="486.2" y="364.88" width="6.4" height="13.42" fill="#ad4549"/>
<rect x="492.1" y="364.88" width="6.4" height="13.42" fill="#f0b6b8"/>
<rect x="498" y="364.88" width="6.4" height="13.42" fill="#f7d5d6"/>
<rect x="503.9" y="364.88" width="5.9" height="13.42" fill="#f0b6b8"/>
<rect x="512.45" y="364.88" width="6.4" height="13.42" fill="#d1d8f0"/>
<rect x="518.35" y="364.88" width="6.4" height="13.42" fill="#f6f4f8"/>
<rect x="524.25" y="364.88" width="6.4" height="13.42" fill="#ebeef9"/>
<rect x="530.15" y="364.88" width="6.4" height="13.42" fill="#fbe9e9"/>
<rect x="536.05" y="364.88" width="6.4" height="13.42" fill="#fbe9e9"/>
<rect x="541.95" y="364.88" width="5.9" height="13.42" fill="#fbe9e9"/>
<text x="550.6" y="374.64" font-size="8.7">Dusp1</text>
<rect x="404.2" y="377.8" width="6.4" height="13.42" fill="#f6f4f8"/>
<rect x="410.1" y="377.8" width="6.4" height="13.42" fill="#f7d5d6"/>
<rect x="416" y="377.8" width="6.4" height="13.42" fill="#d1d8f0"/>
<rect x="421.9" y="377.8" width="6.4" height="13.42" fill="#ebeef9"/>
<rect x="427.8" y="377.8" width="6.4" height="13.42" fill="#fbe9e9"/>
<rect x="433.7" y="377.8" width="5.9" height="13.42" fill="#ebeef9"/>
<rect x="442.25" y="377.8" width="6.4" height="13.42" fill="#7e262b"/>
<rect x="448.15" y="377.8" width="6.4" height="13.42" fill="#c9666a"/>
<rect x="454.05" y="377.8" width="6.4" height="13.42" fill="#963238"/>
<rect x="459.95" y="377.8" width="6.4" height="13.42" fill="#f6f4f8"/>
<rect x="465.85" y="377.8" width="6.4" height="13.42" fill="#f0b6b8"/>
<rect x="471.75" y="377.8" width="5.9" height="13.42" fill="#f0b6b8"/>
<rect x="480.3" y="377.8" width="6.4" height="13.42" fill="#963238"/>
<rect x="486.2" y="377.8" width="6.4" height="13.42" fill="#f0b6b8"/>
<rect x="492.1" y="377.8" width="6.4" height="13.42" fill="#f7d5d6"/>
<rect x="498" y="377.8" width="6.4" height="13.42" fill="#f7d5d6"/>
<rect x="503.9" y="377.8" width="5.9" height="13.42" fill="#f7d5d6"/>
<rect x="512.45" y="377.8" width="6.4" height="13.42" fill="#f6f4f8"/>
<rect x="518.35" y="377.8" width="6.4" height="13.42" fill="#fbe9e9"/>
<rect x="524.25" y="377.8" width="6.4" height="13.42" fill="#f6f4f8"/>
<rect x="530.15" y="377.8" width="6.4" height="13.42" fill="#fbe9e9"/>
<rect x="536.05" y="377.8" width="6.4" height="13.42" fill="#fbe9e9"/>
<rect x="541.95" y="377.8" width="5.9" height="13.42" fill="#fbe9e9"/>
<text x="550.6" y="387.56" font-size="8.7">Btg2</text>
<rect x="404.2" y="390.72" width="6.4" height="13.42" fill="#fbe9e9"/>
<rect x="410.1" y="390.72" width="6.4" height="13.42" fill="#ebeef9"/>
<rect x="416" y="390.72" width="6.4" height="13.42" fill="#f6f4f8"/>
<rect x="421.9" y="390.72" width="6.4" height="13.42" fill="#ad4549"/>
<rect x="427.8" y="390.72" width="6.4" height="13.42" fill="#661a1f"/>
<rect x="433.7" y="390.72" width="5.9" height="13.42" fill="#f0b6b8"/>
<rect x="442.25" y="390.72" width="6.4" height="13.42" fill="#f6f4f8"/>
<rect x="448.15" y="390.72" width="6.4" height="13.42" fill="#f7d5d6"/>
<rect x="454.05" y="390.72" width="6.4" height="13.42" fill="#fbe9e9"/>
<rect x="459.95" y="390.72" width="6.4" height="13.42" fill="#d1d8f0"/>
<rect x="465.85" y="390.72" width="6.4" height="13.42" fill="#fbe9e9"/>
<rect x="471.75" y="390.72" width="5.9" height="13.42" fill="#f6f4f8"/>
<rect x="480.3" y="390.72" width="6.4" height="13.42" fill="#dc8589"/>
<rect x="486.2" y="390.72" width="6.4" height="13.42" fill="#f6f4f8"/>
<rect x="492.1" y="390.72" width="6.4" height="13.42" fill="#963238"/>
<rect x="498" y="390.72" width="6.4" height="13.42" fill="#c9666a"/>
<rect x="503.9" y="390.72" width="5.9" height="13.42" fill="#f0b6b8"/>
<rect x="512.45" y="390.72" width="6.4" height="13.42" fill="#f0b6b8"/>
<rect x="518.35" y="390.72" width="6.4" height="13.42" fill="#dc8589"/>
<rect x="524.25" y="390.72" width="6.4" height="13.42" fill="#f0b6b8"/>
<rect x="530.15" y="390.72" width="6.4" height="13.42" fill="#f0b6b8"/>
<rect x="536.05" y="390.72" width="6.4" height="13.42" fill="#f0b6b8"/>
<rect x="541.95" y="390.72" width="5.9" height="13.42" fill="#f0b6b8"/>
<text x="550.6" y="400.48" font-size="8.7">Flna</text>
<rect x="404.2" y="403.64" width="6.4" height="13.42" fill="#fbe9e9"/>
<rect x="410.1" y="403.64" width="6.4" height="13.42" fill="#ebeef9"/>
<rect x="416" y="403.64" width="6.4" height="13.42" fill="#d1d8f0"/>
<rect x="421.9" y="403.64" width="6.4" height="13.42" fill="#ad4549"/>
<rect x="427.8" y="403.64" width="6.4" height="13.42" fill="#7e262b"/>
<rect x="433.7" y="403.64" width="5.9" height="13.42" fill="#c9666a"/>
<rect x="442.25" y="403.64" width="6.4" height="13.42" fill="#f0b6b8"/>
<rect x="448.15" y="403.64" width="6.4" height="13.42" fill="#dc8589"/>
<rect x="454.05" y="403.64" width="6.4" height="13.42" fill="#f0b6b8"/>
<rect x="459.95" y="403.64" width="6.4" height="13.42" fill="#fbe9e9"/>
<rect x="465.85" y="403.64" width="6.4" height="13.42" fill="#f6f4f8"/>
<rect x="471.75" y="403.64" width="5.9" height="13.42" fill="#dc8589"/>
<rect x="480.3" y="403.64" width="6.4" height="13.42" fill="#ad4549"/>
<rect x="486.2" y="403.64" width="6.4" height="13.42" fill="#f0b6b8"/>
<rect x="492.1" y="403.64" width="6.4" height="13.42" fill="#7e262b"/>
<rect x="498" y="403.64" width="6.4" height="13.42" fill="#ad4549"/>
<rect x="503.9" y="403.64" width="5.9" height="13.42" fill="#ad4549"/>
<rect x="512.45" y="403.64" width="6.4" height="13.42" fill="#f7d5d6"/>
<rect x="518.35" y="403.64" width="6.4" height="13.42" fill="#c9666a"/>
<rect x="524.25" y="403.64" width="6.4" height="13.42" fill="#f0b6b8"/>
<rect x="530.15" y="403.64" width="6.4" height="13.42" fill="#f7d5d6"/>
<rect x="536.05" y="403.64" width="6.4" height="13.42" fill="#f0b6b8"/>
<rect x="541.95" y="403.64" width="5.9" height="13.42" fill="#f7d5d6"/>
<text x="550.6" y="413.4" font-size="8.7">Vwf</text>
<rect x="404.2" y="416.56" width="6.4" height="13.42" fill="#f6f4f8"/>
<rect x="410.1" y="416.56" width="6.4" height="13.42" fill="#d1d8f0"/>
<rect x="416" y="416.56" width="6.4" height="13.42" fill="#f7d5d6"/>
<rect x="421.9" y="416.56" width="6.4" height="13.42" fill="#661a1f"/>
<rect x="427.8" y="416.56" width="6.4" height="13.42" fill="#661a1f"/>
<rect x="433.7" y="416.56" width="5.9" height="13.42" fill="#f7d5d6"/>
<rect x="442.25" y="416.56" width="6.4" height="13.42" fill="#c9666a"/>
<rect x="448.15" y="416.56" width="6.4" height="13.42" fill="#dc8589"/>
<rect x="454.05" y="416.56" width="6.4" height="13.42" fill="#dc8589"/>
<rect x="459.95" y="416.56" width="6.4" height="13.42" fill="#dc8589"/>
<rect x="465.85" y="416.56" width="6.4" height="13.42" fill="#f0b6b8"/>
<rect x="471.75" y="416.56" width="5.9" height="13.42" fill="#dc8589"/>
<rect x="480.3" y="416.56" width="6.4" height="13.42" fill="#963238"/>
<rect x="486.2" y="416.56" width="6.4" height="13.42" fill="#c9666a"/>
<rect x="492.1" y="416.56" width="6.4" height="13.42" fill="#ad4549"/>
<rect x="498" y="416.56" width="6.4" height="13.42" fill="#ad4549"/>
<rect x="503.9" y="416.56" width="5.9" height="13.42" fill="#dc8589"/>
<rect x="512.45" y="416.56" width="6.4" height="13.42" fill="#c9666a"/>
<rect x="518.35" y="416.56" width="6.4" height="13.42" fill="#dc8589"/>
<rect x="524.25" y="416.56" width="6.4" height="13.42" fill="#dc8589"/>
<rect x="530.15" y="416.56" width="6.4" height="13.42" fill="#f7d5d6"/>
<rect x="536.05" y="416.56" width="6.4" height="13.42" fill="#f7d5d6"/>
<rect x="541.95" y="416.56" width="5.9" height="13.42" fill="#f0b6b8"/>
<text x="550.6" y="426.32" font-size="8.7">Ppp1r14a</text>
<rect x="404.2" y="429.48" width="6.4" height="13.42" fill="#fbe9e9"/>
<rect x="410.1" y="429.48" width="6.4" height="13.42" fill="#ebeef9"/>
<rect x="416" y="429.48" width="6.4" height="13.42" fill="#ebeef9"/>
<rect x="421.9" y="429.48" width="6.4" height="13.42" fill="#963238"/>
<rect x="427.8" y="429.48" width="6.4" height="13.42" fill="#661a1f"/>
<rect x="433.7" y="429.48" width="5.9" height="13.42" fill="#f0b6b8"/>
<rect x="442.25" y="429.48" width="6.4" height="13.42" fill="#f0b6b8"/>
<rect x="448.15" y="429.48" width="6.4" height="13.42" fill="#c9666a"/>
<rect x="454.05" y="429.48" width="6.4" height="13.42" fill="#f7d5d6"/>
<rect x="459.95" y="429.48" width="6.4" height="13.42" fill="#ebeef9"/>
<rect x="465.85" y="429.48" width="6.4" height="13.42" fill="#f0b6b8"/>
<rect x="471.75" y="429.48" width="5.9" height="13.42" fill="#c9666a"/>
<rect x="480.3" y="429.48" width="6.4" height="13.42" fill="#7e262b"/>
<rect x="486.2" y="429.48" width="6.4" height="13.42" fill="#dc8589"/>
<rect x="492.1" y="429.48" width="6.4" height="13.42" fill="#7e262b"/>
<rect x="498" y="429.48" width="6.4" height="13.42" fill="#ad4549"/>
<rect x="503.9" y="429.48" width="5.9" height="13.42" fill="#c9666a"/>
<rect x="512.45" y="429.48" width="6.4" height="13.42" fill="#c9666a"/>
<rect x="518.35" y="429.48" width="6.4" height="13.42" fill="#ad4549"/>
<rect x="524.25" y="429.48" width="6.4" height="13.42" fill="#c9666a"/>
<rect x="530.15" y="429.48" width="6.4" height="13.42" fill="#dc8589"/>
<rect x="536.05" y="429.48" width="6.4" height="13.42" fill="#dc8589"/>
<rect x="541.95" y="429.48" width="5.9" height="13.42" fill="#c9666a"/>
<text x="550.6" y="439.24" font-size="8.7">Lmod1</text>
<rect x="404.2" y="442.4" width="6.4" height="13.42" fill="#f7d5d6"/>
<rect x="410.1" y="442.4" width="6.4" height="13.42" fill="#d1d8f0"/>
<rect x="416" y="442.4" width="6.4" height="13.42" fill="#fbe9e9"/>
<rect x="421.9" y="442.4" width="6.4" height="13.42" fill="#f6f4f8"/>
<rect x="427.8" y="442.4" width="6.4" height="13.42" fill="#dc8589"/>
<rect x="433.7" y="442.4" width="5.9" height="13.42" fill="#dc8589"/>
<rect x="442.25" y="442.4" width="6.4" height="13.42" fill="#c9666a"/>
<rect x="448.15" y="442.4" width="6.4" height="13.42" fill="#c9666a"/>
<rect x="454.05" y="442.4" width="6.4" height="13.42" fill="#7e262b"/>
<rect x="459.95" y="442.4" width="6.4" height="13.42" fill="#c9666a"/>
<rect x="465.85" y="442.4" width="6.4" height="13.42" fill="#dc8589"/>
<rect x="471.75" y="442.4" width="5.9" height="13.42" fill="#dc8589"/>
<rect x="480.3" y="442.4" width="6.4" height="13.42" fill="#661a1f"/>
<rect x="486.2" y="442.4" width="6.4" height="13.42" fill="#661a1f"/>
<rect x="492.1" y="442.4" width="6.4" height="13.42" fill="#c9666a"/>
<rect x="498" y="442.4" width="6.4" height="13.42" fill="#c9666a"/>
<rect x="503.9" y="442.4" width="5.9" height="13.42" fill="#dc8589"/>
<rect x="512.45" y="442.4" width="6.4" height="13.42" fill="#c9666a"/>
<rect x="518.35" y="442.4" width="6.4" height="13.42" fill="#963238"/>
<rect x="524.25" y="442.4" width="6.4" height="13.42" fill="#dc8589"/>
<rect x="530.15" y="442.4" width="6.4" height="13.42" fill="#dc8589"/>
<rect x="536.05" y="442.4" width="6.4" height="13.42" fill="#dc8589"/>
<rect x="541.95" y="442.4" width="5.9" height="13.42" fill="#f0b6b8"/>
<text x="550.6" y="452.16" font-size="8.7">Nostrin</text>
<rect x="404.2" y="455.32" width="6.4" height="13.42" fill="#f6f4f8"/>
<rect x="410.1" y="455.32" width="6.4" height="13.42" fill="#f6f4f8"/>
<rect x="416" y="455.32" width="6.4" height="13.42" fill="#f6f4f8"/>
<rect x="421.9" y="455.32" width="6.4" height="13.42" fill="#d1d8f0"/>
<rect x="427.8" y="455.32" width="6.4" height="13.42" fill="#f7d5d6"/>
<rect x="433.7" y="455.32" width="5.9" height="13.42" fill="#b3bfe5"/>
<rect x="442.25" y="455.32" width="6.4" height="13.42" fill="#f0b6b8"/>
<rect x="448.15" y="455.32" width="6.4" height="13.42" fill="#f7d5d6"/>
<rect x="454.05" y="455.32" width="6.4" height="13.42" fill="#f7d5d6"/>
<rect x="459.95" y="455.32" width="6.4" height="13.42" fill="#f6f4f8"/>
<rect x="465.85" y="455.32" width="6.4" height="13.42" fill="#f7d5d6"/>
<rect x="471.75" y="455.32" width="5.9" height="13.42" fill="#fbe9e9"/>
<rect x="480.3" y="455.32" width="6.4" height="13.42" fill="#7e262b"/>
<rect x="486.2" y="455.32" width="6.4" height="13.42" fill="#ad4549"/>
<rect x="492.1" y="455.32" width="6.4" height="13.42" fill="#f0b6b8"/>
<rect x="498" y="455.32" width="6.4" height="13.42" fill="#f0b6b8"/>
<rect x="503.9" y="455.32" width="5.9" height="13.42" fill="#f0b6b8"/>
<rect x="512.45" y="455.32" width="6.4" height="13.42" fill="#7e262b"/>
<rect x="518.35" y="455.32" width="6.4" height="13.42" fill="#ad4549"/>
<rect x="524.25" y="455.32" width="6.4" height="13.42" fill="#dc8589"/>
<rect x="530.15" y="455.32" width="6.4" height="13.42" fill="#f7d5d6"/>
<rect x="536.05" y="455.32" width="6.4" height="13.42" fill="#f7d5d6"/>
<rect x="541.95" y="455.32" width="5.9" height="13.42" fill="#f0b6b8"/>
<text x="550.6" y="465.08" font-size="8.7">Cdkn1a</text>
<rect x="404.2" y="468.24" width="6.4" height="12.92" fill="#ebeef9"/>
<rect x="410.1" y="468.24" width="6.4" height="12.92" fill="#f0b6b8"/>
<rect x="416" y="468.24" width="6.4" height="12.92" fill="#b3bfe5"/>
<rect x="421.9" y="468.24" width="6.4" height="12.92" fill="#fbe9e9"/>
<rect x="427.8" y="468.24" width="6.4" height="12.92" fill="#f6f4f8"/>
<rect x="433.7" y="468.24" width="5.9" height="12.92" fill="#d1d8f0"/>
<rect x="442.25" y="468.24" width="6.4" height="12.92" fill="#ebeef9"/>
<rect x="448.15" y="468.24" width="6.4" height="12.92" fill="#93a6d9"/>
<rect x="454.05" y="468.24" width="6.4" height="12.92" fill="#b3bfe5"/>
<rect x="459.95" y="468.24" width="6.4" height="12.92" fill="#f6f4f8"/>
<rect x="465.85" y="468.24" width="6.4" height="12.92" fill="#d1d8f0"/>
<rect x="471.75" y="468.24" width="5.9" height="12.92" fill="#f6f4f8"/>
<rect x="480.3" y="468.24" width="6.4" height="12.92" fill="#6c88c8"/>
<rect x="486.2" y="468.24" width="6.4" height="12.92" fill="#93a6d9"/>
<rect x="492.1" y="468.24" width="6.4" height="12.92" fill="#f6f4f8"/>
<rect x="498" y="468.24" width="6.4" height="12.92" fill="#f6f4f8"/>
<rect x="503.9" y="468.24" width="5.9" height="12.92" fill="#fbe9e9"/>
<rect x="512.45" y="468.24" width="6.4" height="12.92" fill="#f0b6b8"/>
<rect x="518.35" y="468.24" width="6.4" height="12.92" fill="#fbe9e9"/>
<rect x="524.25" y="468.24" width="6.4" height="12.92" fill="#f7d5d6"/>
<rect x="530.15" y="468.24" width="6.4" height="12.92" fill="#d1d8f0"/>
<rect x="536.05" y="468.24" width="6.4" height="12.92" fill="#d1d8f0"/>
<rect x="541.95" y="468.24" width="5.9" height="12.92" fill="#3061ae"/>
<text x="550.6" y="478" font-size="8.7">Adcyap1</text>
<text x="397" y="426.02" font-size="9.5" text-anchor="end">vascular</text>
<text x="0" y="13.1" font-size="17">A</text>
<text x="611.2" y="306.3" font-size="8.7">TimePoint</text>
<rect x="611.2" y="312.3" width="10.6" height="10.75" fill="#fde4d9"/>
<text x="624.6" y="320.8" font-size="8.7">Control</text>
<rect x="611.2" y="323" width="10.6" height="10.75" fill="#f6aa92"/>
<text x="624.6" y="331.5" font-size="8.7">15min</text>
<rect x="611.2" y="333.7" width="10.6" height="10.75" fill="#ec6a4e"/>
<text x="624.6" y="342.2" font-size="8.7">45min</text>
<rect x="611.2" y="344.4" width="10.6" height="10.75" fill="#cb181d"/>
<text x="624.6" y="352.9" font-size="8.7">3h</text>
<text x="611.2" y="373" font-size="8.7">Treatment</text>
<rect x="611.2" y="378.6" width="10.6" height="10.75" fill="#d3d3d3"/>
<text x="624.6" y="387.1" font-size="8.7">Handling +ARS</text>
<rect x="611.2" y="389.3" width="10.6" height="10.75" fill="#7966ff"/>
<text x="624.6" y="397.8" font-size="8.7">CRS +ARS</text>
<text x="611.2" y="418" font-size="8.7">scaledLFC</text>
<defs><linearGradient id="cb" x1="0" y1="0" x2="0" y2="1">
<stop offset="0.0000" stop-color="#580a14"/>
<stop offset="0.0381" stop-color="#5e0b15"/>
<stop offset="0.1531" stop-color="#94242c"/>
<stop offset="0.2682" stop-color="#c9565b"/>
<stop offset="0.3832" stop-color="#ebacaf"/>
<stop offset="0.4983" stop-color="#ffffff"/>
<stop offset="0.6133" stop-color="#bfc8e8"/>
<stop offset="0.7284" stop-color="#7191cd"/>
<stop offset="0.8434" stop-color="#1e4f9e"/>
<stop offset="0.9585" stop-color="#1c2d60"/>
<stop offset="1.0000" stop-color="#1b2a5a"/>
</linearGradient></defs>
<rect x="611.2" y="423.0" width="10.9" height="57.80000000000001" fill="url(#cb)"/>
<path d="M611.2 425.2h2.2M619.9000000000001 425.2h2.2" stroke="#fff" stroke-width="0.6"/>
<text x="624.6" y="428.3" font-size="8.7">4</text>
<path d="M611.2 438.5h2.2M619.9000000000001 438.5h2.2" stroke="#fff" stroke-width="0.6"/>
<text x="624.6" y="441.6" font-size="8.7">2</text>
<path d="M611.2 451.8h2.2M619.9000000000001 451.8h2.2" stroke="#fff" stroke-width="0.6"/>
<text x="624.6" y="454.9" font-size="8.7">0</text>
<path d="M611.2 465.1h2.2M619.9000000000001 465.1h2.2" stroke="#fff" stroke-width="0.6"/>
<text x="624.6" y="468.2" font-size="8.7">−2</text>
<path d="M611.2 478.4h2.2M619.9000000000001 478.4h2.2" stroke="#fff" stroke-width="0.6"/>
<text x="624.6" y="481.5" font-size="8.7">−4</text>
<text x="71" y="513.8" font-size="9.5" text-anchor="middle">Cdkn1a in</text>
<text x="71" y="525" font-size="9.5" text-anchor="middle">vascular</text>
<polyline points="43.41,583.2 63.44,566.4 83.46,537 103.49,542.8" fill="none" stroke="#bebebe" stroke-width="2.5" stroke-linejoin="round"/>
<polyline points="43.41,590.5 63.44,578.4 83.46,565.1 103.49,568.4" fill="none" stroke="#7966ff" stroke-width="2.5" stroke-linejoin="round"/>
<path d="M39.56 582.7V582.7M39.56 583.7V583.7" stroke="#2a2a2a" stroke-width="0.9" fill="none"/>
<rect x="36.06" y="582.7" width="7" height="1" fill="#bebebe" stroke="#2a2a2a" stroke-width="0.9"/>
<path d="M36.06 583.2H43.06" stroke="#2a2a2a" stroke-width="1.7"/>
<path d="M47.26 570.9V582M47.26 596.8V599.3" stroke="#2a2a2a" stroke-width="0.9" fill="none"/>
<rect x="43.76" y="582" width="7" height="14.8" fill="#7966ff" stroke="#2a2a2a" stroke-width="0.9"/>
<path d="M43.76 592.5H50.76" stroke="#2a2a2a" stroke-width="1.7"/>
<path d="M59.59 562.9V564.4M59.59 567.9V568.4" stroke="#2a2a2a" stroke-width="0.9" fill="none"/>
<rect x="56.09" y="564.4" width="7" height="3.5" fill="#bebebe" stroke="#2a2a2a" stroke-width="0.9"/>
<path d="M56.09 566.4H63.09" stroke="#2a2a2a" stroke-width="1.7"/>
<path d="M67.29 571.7V575.4M67.29 581.7V583.2" stroke="#2a2a2a" stroke-width="0.9" fill="none"/>
<rect x="63.79" y="575.4" width="7" height="6.3" fill="#7966ff" stroke="#2a2a2a" stroke-width="0.9"/>
<path d="M63.79 578.4H70.79" stroke="#2a2a2a" stroke-width="1.7"/>
<path d="M79.61 534V535.2M79.61 539V540.2" stroke="#2a2a2a" stroke-width="0.9" fill="none"/>
<rect x="76.11" y="535.2" width="7" height="3.8" fill="#bebebe" stroke="#2a2a2a" stroke-width="0.9"/>
<path d="M76.11 537H83.11" stroke="#2a2a2a" stroke-width="1.7"/>
<path d="M87.31 564.6V564.6M87.31 565.6V565.6" stroke="#2a2a2a" stroke-width="0.9" fill="none"/>
<rect x="83.81" y="564.6" width="7" height="1" fill="#7966ff" stroke="#2a2a2a" stroke-width="0.9"/>
<path d="M83.81 565.1H90.81" stroke="#2a2a2a" stroke-width="1.7"/>
<path d="M99.64 534V538.2M99.64 548.3V552.8" stroke="#2a2a2a" stroke-width="0.9" fill="none"/>
<rect x="96.14" y="538.2" width="7" height="10.1" fill="#bebebe" stroke="#2a2a2a" stroke-width="0.9"/>
<path d="M96.14 542.8H103.14" stroke="#2a2a2a" stroke-width="1.7"/>
<path d="M107.34 562.4V564.9M107.34 571.2V573.4" stroke="#2a2a2a" stroke-width="0.9" fill="none"/>
<rect x="103.84" y="564.9" width="7" height="6.3" fill="#7966ff" stroke="#2a2a2a" stroke-width="0.9"/>
<path d="M103.84 568.4H110.84" stroke="#2a2a2a" stroke-width="1.7"/>
<path d="M31.4 530.5V602.5H115.5" stroke="#2a2a2a" stroke-width="1.05" fill="none"/>
<path d="M28.9 555.8H31.4" stroke="#2a2a2a" stroke-width="1.05"/>
<text x="27.2" y="558.9" font-size="8.7" text-anchor="end" fill="#444">1</text>
<path d="M28.9 583.2H31.4" stroke="#2a2a2a" stroke-width="1.05"/>
<text x="27.2" y="586.3" font-size="8.7" text-anchor="end" fill="#444">0</text>
<path d="M43.41 602.5V605" stroke="#2a2a2a" stroke-width="1.05"/>
<text transform="translate(46.01,606.8) rotate(-90)" font-size="8.7" text-anchor="end" fill="#444">Control</text>
<path d="M63.44 602.5V605" stroke="#2a2a2a" stroke-width="1.05"/>
<text transform="translate(66.04,606.8) rotate(-90)" font-size="8.7" text-anchor="end" fill="#444">15min</text>
<path d="M83.46 602.5V605" stroke="#2a2a2a" stroke-width="1.05"/>
<text transform="translate(86.06,606.8) rotate(-90)" font-size="8.7" text-anchor="end" fill="#444">45min</text>
<path d="M103.49 602.5V605" stroke="#2a2a2a" stroke-width="1.05"/>
<text transform="translate(106.09,606.8) rotate(-90)" font-size="8.7" text-anchor="end" fill="#444">3h</text>
<text x="115.5" y="600.4" font-size="8.7" text-anchor="end">CRS q=3e−7</text>
<text transform="translate(12.9,566.5) rotate(-90)" font-size="9.5" text-anchor="middle">log2FC</text>
<text x="186" y="513.8" font-size="9.5" text-anchor="middle">Egr1 in</text>
<text x="186" y="525" font-size="9.5" text-anchor="middle">InhN.Pvalb</text>
<polyline points="158.14,587.3 178.05,547 197.95,542.3 217.86,593.6" fill="none" stroke="#bebebe" stroke-width="2.5" stroke-linejoin="round"/>
<polyline points="158.14,579 178.05,565.4 197.95,591.2 217.86,577.3" fill="none" stroke="#7966ff" stroke-width="2.5" stroke-linejoin="round"/>
<path d="M154.29 583.5V584.7M154.29 589.6V593.5" stroke="#2a2a2a" stroke-width="0.9" fill="none"/>
<rect x="150.79" y="584.7" width="7" height="4.9" fill="#bebebe" stroke="#2a2a2a" stroke-width="0.9"/>
<path d="M150.79 587.3H157.79" stroke="#2a2a2a" stroke-width="1.7"/>
<path d="M161.99 565.1V570.9M161.99 588.2V599.6" stroke="#2a2a2a" stroke-width="0.9" fill="none"/>
<rect x="158.49" y="570.9" width="7" height="17.3" fill="#7966ff" stroke="#2a2a2a" stroke-width="0.9"/>
<path d="M158.49 576.3H165.49" stroke="#2a2a2a" stroke-width="1.7"/>
<path d="M174.2 543.4V544.8M174.2 549.3V551.1" stroke="#2a2a2a" stroke-width="0.9" fill="none"/>
<rect x="170.7" y="544.8" width="7" height="4.5" fill="#bebebe" stroke="#2a2a2a" stroke-width="0.9"/>
<path d="M170.7 547H177.7" stroke="#2a2a2a" stroke-width="1.7"/>
<path d="M181.9 557.2V561.2M181.9 572.3V578.7" stroke="#2a2a2a" stroke-width="0.9" fill="none"/>
<rect x="178.4" y="561.2" width="7" height="11.1" fill="#7966ff" stroke="#2a2a2a" stroke-width="0.9"/>
<path d="M178.4 565.4H185.4" stroke="#2a2a2a" stroke-width="1.7"/>
<path d="M194.1 534.4V538.4M194.1 547.6V552.5" stroke="#2a2a2a" stroke-width="0.9" fill="none"/>
<rect x="190.6" y="538.4" width="7" height="9.2" fill="#bebebe" stroke="#2a2a2a" stroke-width="0.9"/>
<path d="M190.6 542.3H197.6" stroke="#2a2a2a" stroke-width="1.7"/>
<path d="M201.8 581.7V586.8M201.8 594.5V596.6" stroke="#2a2a2a" stroke-width="0.9" fill="none"/>
<rect x="198.3" y="586.8" width="7" height="7.7" fill="#7966ff" stroke="#2a2a2a" stroke-width="0.9"/>
<path d="M198.3 591.2H205.3" stroke="#2a2a2a" stroke-width="1.7"/>
<path d="M214.01 580.8V587.5M214.01 595.2V596.6" stroke="#2a2a2a" stroke-width="0.9" fill="none"/>
<rect x="210.51" y="587.5" width="7" height="7.7" fill="#bebebe" stroke="#2a2a2a" stroke-width="0.9"/>
<path d="M210.51 593.6H217.51" stroke="#2a2a2a" stroke-width="1.7"/>
<path d="M221.71 568V573.1M221.71 582.6V586.5" stroke="#2a2a2a" stroke-width="0.9" fill="none"/>
<rect x="218.21" y="573.1" width="7" height="9.5" fill="#7966ff" stroke="#2a2a2a" stroke-width="0.9"/>
<path d="M218.21 577.3H225.21" stroke="#2a2a2a" stroke-width="1.7"/>
<path d="M146.2 530.5V602.5H229.8" stroke="#2a2a2a" stroke-width="1.05" fill="none"/>
<path d="M143.7 536.5H146.2" stroke="#2a2a2a" stroke-width="1.05"/>
<text x="142" y="539.6" font-size="8.7" text-anchor="end" fill="#444">0.6</text>
<path d="M143.7 553.3H146.2" stroke="#2a2a2a" stroke-width="1.05"/>
<text x="142" y="556.4" font-size="8.7" text-anchor="end" fill="#444">0.4</text>
<path d="M143.7 570.5H146.2" stroke="#2a2a2a" stroke-width="1.05"/>
<text x="142" y="573.6" font-size="8.7" text-anchor="end" fill="#444">0.2</text>
<path d="M143.7 587.3H146.2" stroke="#2a2a2a" stroke-width="1.05"/>
<text x="142" y="590.4" font-size="8.7" text-anchor="end" fill="#444">0.0</text>
<path d="M158.14 602.5V605" stroke="#2a2a2a" stroke-width="1.05"/>
<text transform="translate(160.74,606.8) rotate(-90)" font-size="8.7" text-anchor="end" fill="#444">Control</text>
<path d="M178.05 602.5V605" stroke="#2a2a2a" stroke-width="1.05"/>
<text transform="translate(180.65,606.8) rotate(-90)" font-size="8.7" text-anchor="end" fill="#444">15min</text>
<path d="M197.95 602.5V605" stroke="#2a2a2a" stroke-width="1.05"/>
<text transform="translate(200.55,606.8) rotate(-90)" font-size="8.7" text-anchor="end" fill="#444">45min</text>
<path d="M217.86 602.5V605" stroke="#2a2a2a" stroke-width="1.05"/>
<text transform="translate(220.46,606.8) rotate(-90)" font-size="8.7" text-anchor="end" fill="#444">3h</text>
<text x="148.2" y="535.2" font-size="8.7" text-anchor="start">CRS q=1e−3</text>
<text x="296.3" y="513.8" font-size="9.5" text-anchor="middle">Fkbp5 in</text>
<text x="296.3" y="525" font-size="9.5" text-anchor="middle">microglia</text>
<polyline points="268.53,585.2 288.41,575 308.29,539.3 328.17,564.6" fill="none" stroke="#bebebe" stroke-width="2.5" stroke-linejoin="round"/>
<polyline points="268.53,591.7 288.41,591.4 308.29,547 328.17,596.8" fill="none" stroke="#7966ff" stroke-width="2.5" stroke-linejoin="round"/>
<path d="M264.68 578.6V581.7M264.68 588.4V591.4" stroke="#2a2a2a" stroke-width="0.9" fill="none"/>
<rect x="261.18" y="581.7" width="7" height="6.7" fill="#bebebe" stroke="#2a2a2a" stroke-width="0.9"/>
<path d="M261.18 585.2H268.18" stroke="#2a2a2a" stroke-width="1.7"/>
<path d="M272.38 588.7V590.1M272.38 593.5V594.9" stroke="#2a2a2a" stroke-width="0.9" fill="none"/>
<rect x="268.88" y="590.1" width="7" height="3.4" fill="#7966ff" stroke="#2a2a2a" stroke-width="0.9"/>
<path d="M268.88 591.7H275.88" stroke="#2a2a2a" stroke-width="1.7"/>
<path d="M284.56 571.6V573M284.56 582.1V589.6" stroke="#2a2a2a" stroke-width="0.9" fill="none"/>
<rect x="281.06" y="573" width="7" height="9.1" fill="#bebebe" stroke="#2a2a2a" stroke-width="0.9"/>
<path d="M281.06 573.6H288.06" stroke="#2a2a2a" stroke-width="1.7"/>
<path d="M292.26 587V589.6M292.26 594.2V595.6" stroke="#2a2a2a" stroke-width="0.9" fill="none"/>
<rect x="288.76" y="589.6" width="7" height="4.6" fill="#7966ff" stroke="#2a2a2a" stroke-width="0.9"/>
<path d="M288.76 591.4H295.76" stroke="#2a2a2a" stroke-width="1.7"/>
<path d="M304.44 538V538.4M304.44 540.2V540.6" stroke="#2a2a2a" stroke-width="0.9" fill="none"/>
<rect x="300.94" y="538.4" width="7" height="1.8" fill="#bebebe" stroke="#2a2a2a" stroke-width="0.9"/>
<path d="M300.94 539.3H307.94" stroke="#2a2a2a" stroke-width="1.7"/>
<path d="M312.14 534.4V540.2M312.14 554.6V562.8" stroke="#2a2a2a" stroke-width="0.9" fill="none"/>
<rect x="308.64" y="540.2" width="7" height="14.4" fill="#7966ff" stroke="#2a2a2a" stroke-width="0.9"/>
<path d="M308.64 546.2H315.64" stroke="#2a2a2a" stroke-width="1.7"/>
<path d="M324.32 563V563.5M324.32 565.8V566.5" stroke="#2a2a2a" stroke-width="0.9" fill="none"/>
<rect x="320.82" y="563.5" width="7" height="2.3" fill="#bebebe" stroke="#2a2a2a" stroke-width="0.9"/>
<path d="M320.82 564.6H327.82" stroke="#2a2a2a" stroke-width="1.7"/>
<path d="M332.02 590.5V594.5M332.02 599.1V599.8" stroke="#2a2a2a" stroke-width="0.9" fill="none"/>
<rect x="328.52" y="594.5" width="7" height="4.6" fill="#7966ff" stroke="#2a2a2a" stroke-width="0.9"/>
<path d="M328.52 596.8H335.52" stroke="#2a2a2a" stroke-width="1.7"/>
<path d="M256.6 530.5V602.5H340.1" stroke="#2a2a2a" stroke-width="1.05" fill="none"/>
<path d="M254.1 531.8H256.6" stroke="#2a2a2a" stroke-width="1.05"/>
<text x="252.4" y="534.9" font-size="8.7" text-anchor="end" fill="#444">1.5</text>
<path d="M254.1 549.7H256.6" stroke="#2a2a2a" stroke-width="1.05"/>
<text x="252.4" y="552.8" font-size="8.7" text-anchor="end" fill="#444">1.0</text>
<path d="M254.1 567.4H256.6" stroke="#2a2a2a" stroke-width="1.05"/>
<text x="252.4" y="570.5" font-size="8.7" text-anchor="end" fill="#444">0.5</text>
<path d="M254.1 585.2H256.6" stroke="#2a2a2a" stroke-width="1.05"/>
<text x="252.4" y="588.3" font-size="8.7" text-anchor="end" fill="#444">0.0</text>
<path d="M254.1 602.5H256.6" stroke="#2a2a2a" stroke-width="1.05"/>
<text x="252.4" y="605.6" font-size="8.7" text-anchor="end" fill="#444">−0.5</text>
<path d="M268.53 602.5V605" stroke="#2a2a2a" stroke-width="1.05"/>
<text transform="translate(271.13,606.8) rotate(-90)" font-size="8.7" text-anchor="end" fill="#444">Control</text>
<path d="M288.41 602.5V605" stroke="#2a2a2a" stroke-width="1.05"/>
<text transform="translate(291.01,606.8) rotate(-90)" font-size="8.7" text-anchor="end" fill="#444">15min</text>
<path d="M308.29 602.5V605" stroke="#2a2a2a" stroke-width="1.05"/>
<text transform="translate(310.89,606.8) rotate(-90)" font-size="8.7" text-anchor="end" fill="#444">45min</text>
<path d="M328.17 602.5V605" stroke="#2a2a2a" stroke-width="1.05"/>
<text transform="translate(330.77,606.8) rotate(-90)" font-size="8.7" text-anchor="end" fill="#444">3h</text>
<text x="258.6" y="535.2" font-size="8.7" text-anchor="start">CRS q=5e−6</text>
<text x="407.1" y="513.8" font-size="9.5" text-anchor="middle">Fos in</text>
<text x="407.1" y="525" font-size="9.5" text-anchor="middle">CA1−ve−ProS</text>
<polyline points="379.09,584.5 398.9,559 418.7,542.7 438.51,584.7" fill="none" stroke="#bebebe" stroke-width="2.5" stroke-linejoin="round"/>
<polyline points="379.09,591.4 398.9,570.5 418.7,572.6 438.51,582.1" fill="none" stroke="#7966ff" stroke-width="2.5" stroke-linejoin="round"/>
<path d="M375.24 581.7V583.1M375.24 586.1V587.3" stroke="#2a2a2a" stroke-width="0.9" fill="none"/>
<rect x="371.74" y="583.1" width="7" height="3" fill="#bebebe" stroke="#2a2a2a" stroke-width="0.9"/>
<path d="M371.74 584.5H378.74" stroke="#2a2a2a" stroke-width="1.7"/>
<path d="M382.94 586.6V587.9M382.94 594.2V599.6" stroke="#2a2a2a" stroke-width="0.9" fill="none"/>
<rect x="379.44" y="587.9" width="7" height="6.3" fill="#7966ff" stroke="#2a2a2a" stroke-width="0.9"/>
<path d="M379.44 591.4H386.44" stroke="#2a2a2a" stroke-width="1.7"/>
<path d="M395.05 551.9V555.4M395.05 564.6V570.7" stroke="#2a2a2a" stroke-width="0.9" fill="none"/>
<rect x="391.55" y="555.4" width="7" height="9.2" fill="#bebebe" stroke="#2a2a2a" stroke-width="0.9"/>
<path d="M391.55 558.1H398.55" stroke="#2a2a2a" stroke-width="1.7"/>
<path d="M402.75 562.4V567.7M402.75 574.2V575.6" stroke="#2a2a2a" stroke-width="0.9" fill="none"/>
<rect x="399.25" y="567.7" width="7" height="6.5" fill="#7966ff" stroke="#2a2a2a" stroke-width="0.9"/>
<path d="M399.25 572.1H406.25" stroke="#2a2a2a" stroke-width="1.7"/>
<path d="M414.85 533.9V538.4M414.85 547V551.9" stroke="#2a2a2a" stroke-width="0.9" fill="none"/>
<rect x="411.35" y="538.4" width="7" height="8.6" fill="#bebebe" stroke="#2a2a2a" stroke-width="0.9"/>
<path d="M411.35 542.7H418.35" stroke="#2a2a2a" stroke-width="1.7"/>
<path d="M422.55 569.5V571.2M422.55 574.2V575.6" stroke="#2a2a2a" stroke-width="0.9" fill="none"/>
<rect x="419.05" y="571.2" width="7" height="3" fill="#7966ff" stroke="#2a2a2a" stroke-width="0.9"/>
<path d="M419.05 572.6H426.05" stroke="#2a2a2a" stroke-width="1.7"/>
<path d="M434.66 584V584M434.66 585.4V585.4" stroke="#2a2a2a" stroke-width="0.9" fill="none"/>
<rect x="431.16" y="584" width="7" height="1.4" fill="#bebebe" stroke="#2a2a2a" stroke-width="0.9"/>
<path d="M431.16 584.7H438.16" stroke="#2a2a2a" stroke-width="1.7"/>
<path d="M442.36 575.6V578.7M442.36 585.2V588.7" stroke="#2a2a2a" stroke-width="0.9" fill="none"/>
<rect x="438.86" y="578.7" width="7" height="6.5" fill="#7966ff" stroke="#2a2a2a" stroke-width="0.9"/>
<path d="M438.86 582.1H445.86" stroke="#2a2a2a" stroke-width="1.7"/>
<path d="M367.2 530.5V602.5H450.4" stroke="#2a2a2a" stroke-width="1.05" fill="none"/>
<path d="M364.7 540.9H367.2" stroke="#2a2a2a" stroke-width="1.05"/>
<text x="363" y="544" font-size="8.7" text-anchor="end" fill="#444">1.5</text>
<path d="M364.7 555.4H367.2" stroke="#2a2a2a" stroke-width="1.05"/>
<text x="363" y="558.5" font-size="8.7" text-anchor="end" fill="#444">1.0</text>
<path d="M364.7 570H367.2" stroke="#2a2a2a" stroke-width="1.05"/>
<text x="363" y="573.1" font-size="8.7" text-anchor="end" fill="#444">0.5</text>
<path d="M364.7 584.5H367.2" stroke="#2a2a2a" stroke-width="1.05"/>
<text x="363" y="587.6" font-size="8.7" text-anchor="end" fill="#444">0.0</text>
<path d="M364.7 599.1H367.2" stroke="#2a2a2a" stroke-width="1.05"/>
<text x="363" y="602.2" font-size="8.7" text-anchor="end" fill="#444">−0.5</text>
<path d="M379.09 602.5V605" stroke="#2a2a2a" stroke-width="1.05"/>
<text transform="translate(381.69,606.8) rotate(-90)" font-size="8.7" text-anchor="end" fill="#444">Control</text>
<path d="M398.9 602.5V605" stroke="#2a2a2a" stroke-width="1.05"/>
<text transform="translate(401.5,606.8) rotate(-90)" font-size="8.7" text-anchor="end" fill="#444">15min</text>
<path d="M418.7 602.5V605" stroke="#2a2a2a" stroke-width="1.05"/>
<text transform="translate(421.3,606.8) rotate(-90)" font-size="8.7" text-anchor="end" fill="#444">45min</text>
<path d="M438.51 602.5V605" stroke="#2a2a2a" stroke-width="1.05"/>
<text transform="translate(441.11,606.8) rotate(-90)" font-size="8.7" text-anchor="end" fill="#444">3h</text>
<text x="369.2" y="535.2" font-size="8.7" text-anchor="start">CRS q=2e−3</text>
<text x="516.8" y="513.8" font-size="9.5" text-anchor="middle">Fosb in</text>
<text x="516.8" y="525" font-size="9.5" text-anchor="middle">CA1−ve−ProS</text>
<polyline points="489.03,592.6 508.91,557.2 528.79,542.3 548.67,572" fill="none" stroke="#bebebe" stroke-width="2.5" stroke-linejoin="round"/>
<polyline points="489.03,593.1 508.91,569.5 528.79,584 548.67,590.1" fill="none" stroke="#7966ff" stroke-width="2.5" stroke-linejoin="round"/>
<path d="M485.18 590.1V591M485.18 594.2V595.2" stroke="#2a2a2a" stroke-width="0.9" fill="none"/>
<rect x="481.68" y="591" width="7" height="3.2" fill="#bebebe" stroke="#2a2a2a" stroke-width="0.9"/>
<path d="M481.68 592.6H488.68" stroke="#2a2a2a" stroke-width="1.7"/>
<path d="M492.88 585.2V590M492.88 595.2V596.6" stroke="#2a2a2a" stroke-width="0.9" fill="none"/>
<rect x="489.38" y="590" width="7" height="5.2" fill="#7966ff" stroke="#2a2a2a" stroke-width="0.9"/>
<path d="M489.38 593.1H496.38" stroke="#2a2a2a" stroke-width="1.7"/>
<path d="M505.06 554.6V555.8M505.06 561.2V565.1" stroke="#2a2a2a" stroke-width="0.9" fill="none"/>
<rect x="501.56" y="555.8" width="7" height="5.4" fill="#bebebe" stroke="#2a2a2a" stroke-width="0.9"/>
<path d="M501.56 557.2H508.56" stroke="#2a2a2a" stroke-width="1.7"/>
<path d="M512.76 559.3V564.2M512.76 578V586.8" stroke="#2a2a2a" stroke-width="0.9" fill="none"/>
<rect x="509.26" y="564.2" width="7" height="13.8" fill="#7966ff" stroke="#2a2a2a" stroke-width="0.9"/>
<path d="M509.26 568.6H516.26" stroke="#2a2a2a" stroke-width="1.7"/>
<path d="M524.94 533.5V538.3M524.94 547.2V551.9" stroke="#2a2a2a" stroke-width="0.9" fill="none"/>
<rect x="521.44" y="538.3" width="7" height="8.9" fill="#bebebe" stroke="#2a2a2a" stroke-width="0.9"/>
<path d="M521.44 542.3H528.44" stroke="#2a2a2a" stroke-width="1.7"/>
<path d="M532.64 583.2V583.2M532.64 584.8V584.8" stroke="#2a2a2a" stroke-width="0.9" fill="none"/>
<rect x="529.14" y="583.2" width="7" height="1.6" fill="#7966ff" stroke="#2a2a2a" stroke-width="0.9"/>
<path d="M529.14 584H536.14" stroke="#2a2a2a" stroke-width="1.7"/>
<path d="M544.82 562.1V568.2M544.82 574.2V574.7" stroke="#2a2a2a" stroke-width="0.9" fill="none"/>
<rect x="541.32" y="568.2" width="7" height="6" fill="#bebebe" stroke="#2a2a2a" stroke-width="0.9"/>
<path d="M541.32 573.3H548.32" stroke="#2a2a2a" stroke-width="1.7"/>
<path d="M552.52 581.2V585.2M552.52 594.2V599.6" stroke="#2a2a2a" stroke-width="0.9" fill="none"/>
<rect x="549.02" y="585.2" width="7" height="9" fill="#7966ff" stroke="#2a2a2a" stroke-width="0.9"/>
<path d="M549.02 590.1H556.02" stroke="#2a2a2a" stroke-width="1.7"/>
<path d="M477.1 530.5V602.5H560.6" stroke="#2a2a2a" stroke-width="1.05" fill="none"/>
<path d="M474.6 546.3H477.1" stroke="#2a2a2a" stroke-width="1.05"/>
<text x="472.9" y="549.4" font-size="8.7" text-anchor="end" fill="#444">1.0</text>
<path d="M474.6 569.5H477.1" stroke="#2a2a2a" stroke-width="1.05"/>
<text x="472.9" y="572.6" font-size="8.7" text-anchor="end" fill="#444">0.5</text>
<path d="M474.6 592.6H477.1" stroke="#2a2a2a" stroke-width="1.05"/>
<text x="472.9" y="595.7" font-size="8.7" text-anchor="end" fill="#444">0.0</text>
<path d="M489.03 602.5V605" stroke="#2a2a2a" stroke-width="1.05"/>
<text transform="translate(491.63,606.8) rotate(-90)" font-size="8.7" text-anchor="end" fill="#444">Control</text>
<path d="M508.91 602.5V605" stroke="#2a2a2a" stroke-width="1.05"/>
<text transform="translate(511.51,606.8) rotate(-90)" font-size="8.7" text-anchor="end" fill="#444">15min</text>
<path d="M528.79 602.5V605" stroke="#2a2a2a" stroke-width="1.05"/>
<text transform="translate(531.39,606.8) rotate(-90)" font-size="8.7" text-anchor="end" fill="#444">45min</text>
<path d="M548.67 602.5V605" stroke="#2a2a2a" stroke-width="1.05"/>
<text transform="translate(551.27,606.8) rotate(-90)" font-size="8.7" text-anchor="end" fill="#444">3h</text>
<text x="479.1" y="535.2" font-size="8.7" text-anchor="start">CRS q=2e−5</text>
<text x="626.7" y="513.8" font-size="9.5" text-anchor="middle">Npas4 in</text>
<text x="626.7" y="525" font-size="9.5" text-anchor="middle">CA1−ve−ProS</text>
<polyline points="599.11,587.5 618.97,546.2 638.83,535.6 658.69,597.5" fill="none" stroke="#bebebe" stroke-width="2.5" stroke-linejoin="round"/>
<polyline points="599.11,594 618.97,564.6 638.83,582.5 658.69,581" fill="none" stroke="#7966ff" stroke-width="2.5" stroke-linejoin="round"/>
<path d="M595.26 580.5V583.8M595.26 593.6V599.6" stroke="#2a2a2a" stroke-width="0.9" fill="none"/>
<rect x="591.76" y="583.8" width="7" height="9.8" fill="#bebebe" stroke="#2a2a2a" stroke-width="0.9"/>
<path d="M591.76 586.5H598.76" stroke="#2a2a2a" stroke-width="1.7"/>
<path d="M602.96 591.7V592.4M602.96 595.6V596.3" stroke="#2a2a2a" stroke-width="0.9" fill="none"/>
<rect x="599.46" y="592.4" width="7" height="3.2" fill="#7966ff" stroke="#2a2a2a" stroke-width="0.9"/>
<path d="M599.46 594H606.46" stroke="#2a2a2a" stroke-width="1.7"/>
<path d="M615.12 545.4V545.4M615.12 547V547" stroke="#2a2a2a" stroke-width="0.9" fill="none"/>
<rect x="611.62" y="545.4" width="7" height="1.6" fill="#bebebe" stroke="#2a2a2a" stroke-width="0.9"/>
<path d="M611.62 546.2H618.62" stroke="#2a2a2a" stroke-width="1.7"/>
<path d="M622.82 557.7V561.2M622.82 567.2V569.5" stroke="#2a2a2a" stroke-width="0.9" fill="none"/>
<rect x="619.32" y="561.2" width="7" height="6" fill="#7966ff" stroke="#2a2a2a" stroke-width="0.9"/>
<path d="M619.32 564.6H626.32" stroke="#2a2a2a" stroke-width="1.7"/>
<path d="M634.98 534.8V534.8M634.98 536.6V536.6" stroke="#2a2a2a" stroke-width="0.9" fill="none"/>
<rect x="631.48" y="534.8" width="7" height="1.8" fill="#bebebe" stroke="#2a2a2a" stroke-width="0.9"/>
<path d="M631.48 535.6H638.48" stroke="#2a2a2a" stroke-width="1.7"/>
<path d="M642.68 574.2V575.2M642.68 587.3V597.8" stroke="#2a2a2a" stroke-width="0.9" fill="none"/>
<rect x="639.18" y="575.2" width="7" height="12.1" fill="#7966ff" stroke="#2a2a2a" stroke-width="0.9"/>
<path d="M639.18 577.3H646.18" stroke="#2a2a2a" stroke-width="1.7"/>
<path d="M654.84 589.6V594.3M654.84 598.9V599.4" stroke="#2a2a2a" stroke-width="0.9" fill="none"/>
<rect x="651.34" y="594.3" width="7" height="4.6" fill="#bebebe" stroke="#2a2a2a" stroke-width="0.9"/>
<path d="M651.34 597.5H658.34" stroke="#2a2a2a" stroke-width="1.7"/>
<path d="M662.54 567.7V577.7M662.54 588.2V588.7" stroke="#2a2a2a" stroke-width="0.9" fill="none"/>
<rect x="659.04" y="577.7" width="7" height="10.5" fill="#7966ff" stroke="#2a2a2a" stroke-width="0.9"/>
<path d="M659.04 587H666.04" stroke="#2a2a2a" stroke-width="1.7"/>
<path d="M587.2 530.5V602.5H670.6" stroke="#2a2a2a" stroke-width="1.05" fill="none"/>
<path d="M584.7 547.2H587.2" stroke="#2a2a2a" stroke-width="1.05"/>
<text x="583" y="550.3" font-size="8.7" text-anchor="end" fill="#444">0.8</text>
<path d="M584.7 568.2H587.2" stroke="#2a2a2a" stroke-width="1.05"/>
<text x="583" y="571.3" font-size="8.7" text-anchor="end" fill="#444">0.4</text>
<path d="M584.7 589.3H587.2" stroke="#2a2a2a" stroke-width="1.05"/>
<text x="583" y="592.4" font-size="8.7" text-anchor="end" fill="#444">0.0</text>
<path d="M599.11 602.5V605" stroke="#2a2a2a" stroke-width="1.05"/>
<text transform="translate(601.71,606.8) rotate(-90)" font-size="8.7" text-anchor="end" fill="#444">Control</text>
<path d="M618.97 602.5V605" stroke="#2a2a2a" stroke-width="1.05"/>
<text transform="translate(621.57,606.8) rotate(-90)" font-size="8.7" text-anchor="end" fill="#444">15min</text>
<path d="M638.83 602.5V605" stroke="#2a2a2a" stroke-width="1.05"/>
<text transform="translate(641.43,606.8) rotate(-90)" font-size="8.7" text-anchor="end" fill="#444">45min</text>
<path d="M658.69 602.5V605" stroke="#2a2a2a" stroke-width="1.05"/>
<text transform="translate(661.29,606.8) rotate(-90)" font-size="8.7" text-anchor="end" fill="#444">3h</text>
<text x="589.2" y="535.2" font-size="8.7" text-anchor="start">CRS q=8e−8</text>
<text x="71.8" y="668" font-size="9.5" text-anchor="middle">Cacna1e in</text>
<text x="71.8" y="679.2" font-size="9.5" text-anchor="middle">InhN.Pvalb</text>
<polyline points="43.71,744.3 64.07,740 84.43,732.6 104.79,738.5" fill="none" stroke="#bebebe" stroke-width="2.5" stroke-linejoin="round"/>
<polyline points="43.71,716.8 64.07,739.5 84.43,722.1 104.79,736.3" fill="none" stroke="#7966ff" stroke-width="2.5" stroke-linejoin="round"/>
<path d="M39.86 743.5V743.5M39.86 745.1V745.1" stroke="#2a2a2a" stroke-width="0.9" fill="none"/>
<rect x="36.36" y="743.5" width="7" height="1.6" fill="#bebebe" stroke="#2a2a2a" stroke-width="0.9"/>
<path d="M36.36 744.3H43.36" stroke="#2a2a2a" stroke-width="1.7"/>
<path d="M47.56 687.6V708.1M47.56 730.8V732.1" stroke="#2a2a2a" stroke-width="0.9" fill="none"/>
<rect x="44.06" y="708.1" width="7" height="22.7" fill="#7966ff" stroke="#2a2a2a" stroke-width="0.9"/>
<path d="M44.06 728.7H51.06" stroke="#2a2a2a" stroke-width="1.7"/>
<path d="M60.22 732.6V735.2M60.22 746.1V753.6" stroke="#2a2a2a" stroke-width="0.9" fill="none"/>
<rect x="56.72" y="735.2" width="7" height="10.9" fill="#bebebe" stroke="#2a2a2a" stroke-width="0.9"/>
<path d="M56.72 737.9H63.72" stroke="#2a2a2a" stroke-width="1.7"/>
<path d="M67.92 736.1V737.3M67.92 741.4V741.9" stroke="#2a2a2a" stroke-width="0.9" fill="none"/>
<rect x="64.42" y="737.3" width="7" height="4.1" fill="#7966ff" stroke="#2a2a2a" stroke-width="0.9"/>
<path d="M64.42 740.5H71.42" stroke="#2a2a2a" stroke-width="1.7"/>
<path d="M80.58 727.3V729.6M80.58 735.6V738.7" stroke="#2a2a2a" stroke-width="0.9" fill="none"/>
<rect x="77.08" y="729.6" width="7" height="6" fill="#bebebe" stroke="#2a2a2a" stroke-width="0.9"/>
<path d="M77.08 732.6H84.08" stroke="#2a2a2a" stroke-width="1.7"/>
<path d="M88.28 721.3V721.3M88.28 722.9V722.9" stroke="#2a2a2a" stroke-width="0.9" fill="none"/>
<rect x="84.78" y="721.3" width="7" height="1.6" fill="#7966ff" stroke="#2a2a2a" stroke-width="0.9"/>
<path d="M84.78 722.1H91.78" stroke="#2a2a2a" stroke-width="1.7"/>
<path d="M100.94 736.1V737M100.94 741.9V746.6" stroke="#2a2a2a" stroke-width="0.9" fill="none"/>
<rect x="97.44" y="737" width="7" height="4.9" fill="#bebebe" stroke="#2a2a2a" stroke-width="0.9"/>
<path d="M97.44 737.9H104.44" stroke="#2a2a2a" stroke-width="1.7"/>
<path d="M108.64 724.2V731.7M108.64 741.4V742.2" stroke="#2a2a2a" stroke-width="0.9" fill="none"/>
<rect x="105.14" y="731.7" width="7" height="9.7" fill="#7966ff" stroke="#2a2a2a" stroke-width="0.9"/>
<path d="M105.14 739.6H112.14" stroke="#2a2a2a" stroke-width="1.7"/>
<path d="M31.5 684.4V756.6H117" stroke="#2a2a2a" stroke-width="1.05" fill="none"/>
<path d="M29 692.3H31.5" stroke="#2a2a2a" stroke-width="1.05"/>
<text x="27.3" y="695.4" font-size="8.7" text-anchor="end" fill="#444">1.5</text>
<path d="M29 709.6H31.5" stroke="#2a2a2a" stroke-width="1.05"/>
<text x="27.3" y="712.7" font-size="8.7" text-anchor="end" fill="#444">1.0</text>
<path d="M29 727H31.5" stroke="#2a2a2a" stroke-width="1.05"/>
<text x="27.3" y="730.1" font-size="8.7" text-anchor="end" fill="#444">0.5</text>
<path d="M29 744.3H31.5" stroke="#2a2a2a" stroke-width="1.05"/>
<text x="27.3" y="747.4" font-size="8.7" text-anchor="end" fill="#444">0.0</text>
<path d="M43.71 756.6V759.1" stroke="#2a2a2a" stroke-width="1.05"/>
<text transform="translate(46.31,760.9) rotate(-90)" font-size="8.7" text-anchor="end" fill="#444">Control</text>
<path d="M64.07 756.6V759.1" stroke="#2a2a2a" stroke-width="1.05"/>
<text transform="translate(66.67,760.9) rotate(-90)" font-size="8.7" text-anchor="end" fill="#444">15min</text>
<path d="M84.43 756.6V759.1" stroke="#2a2a2a" stroke-width="1.05"/>
<text transform="translate(87.03,760.9) rotate(-90)" font-size="8.7" text-anchor="end" fill="#444">45min</text>
<path d="M104.79 756.6V759.1" stroke="#2a2a2a" stroke-width="1.05"/>
<text transform="translate(107.39,760.9) rotate(-90)" font-size="8.7" text-anchor="end" fill="#444">3h</text>
<text x="117" y="691.9" font-size="8.7" text-anchor="end">CRS q=3e−2</text>
<text transform="translate(12.9,720.5) rotate(-90)" font-size="9.5" text-anchor="middle">log2FC</text>
<text x="187.7" y="668" font-size="9.5" text-anchor="middle">Flna in</text>
<text x="187.7" y="679.2" font-size="9.5" text-anchor="middle">vascular</text>
<polyline points="158.71,742.6 179.07,735 199.43,726.5 219.79,722.1" fill="none" stroke="#bebebe" stroke-width="2.5" stroke-linejoin="round"/>
<polyline points="158.71,704.6 179.07,740 199.43,705.8 219.79,725.1" fill="none" stroke="#7966ff" stroke-width="2.5" stroke-linejoin="round"/>
<path d="M154.86 739.3V740.5M154.86 744.5V746.6" stroke="#2a2a2a" stroke-width="0.9" fill="none"/>
<rect x="151.36" y="740.5" width="7" height="4" fill="#bebebe" stroke="#2a2a2a" stroke-width="0.9"/>
<path d="M151.36 742.6H158.36" stroke="#2a2a2a" stroke-width="1.7"/>
<path d="M162.56 687.6V694.4M162.56 712.1V723" stroke="#2a2a2a" stroke-width="0.9" fill="none"/>
<rect x="159.06" y="694.4" width="7" height="17.7" fill="#7966ff" stroke="#2a2a2a" stroke-width="0.9"/>
<path d="M159.06 701.1H166.06" stroke="#2a2a2a" stroke-width="1.7"/>
<path d="M175.22 725.9V730.3M175.22 739.3V744" stroke="#2a2a2a" stroke-width="0.9" fill="none"/>
<rect x="171.72" y="730.3" width="7" height="9" fill="#bebebe" stroke="#2a2a2a" stroke-width="0.9"/>
<path d="M171.72 734.9H178.72" stroke="#2a2a2a" stroke-width="1.7"/>
<path d="M182.92 734.3V736.1M182.92 745.7V753.3" stroke="#2a2a2a" stroke-width="0.9" fill="none"/>
<rect x="179.42" y="736.1" width="7" height="9.6" fill="#7966ff" stroke="#2a2a2a" stroke-width="0.9"/>
<path d="M179.42 737.9H186.42" stroke="#2a2a2a" stroke-width="1.7"/>
<path d="M195.58 711.2V718.6M195.58 734.3V741.9" stroke="#2a2a2a" stroke-width="0.9" fill="none"/>
<rect x="192.08" y="718.6" width="7" height="15.7" fill="#bebebe" stroke="#2a2a2a" stroke-width="0.9"/>
<path d="M192.08 726.5H199.08" stroke="#2a2a2a" stroke-width="1.7"/>
<path d="M203.28 698.4V701.9M203.28 710.3V715.1" stroke="#2a2a2a" stroke-width="0.9" fill="none"/>
<rect x="199.78" y="701.9" width="7" height="8.4" fill="#7966ff" stroke="#2a2a2a" stroke-width="0.9"/>
<path d="M199.78 705.8H206.78" stroke="#2a2a2a" stroke-width="1.7"/>
<path d="M215.94 714.2V718.2M215.94 724.2V724.7" stroke="#2a2a2a" stroke-width="0.9" fill="none"/>
<rect x="212.44" y="718.2" width="7" height="6" fill="#bebebe" stroke="#2a2a2a" stroke-width="0.9"/>
<path d="M212.44 722.1H219.44" stroke="#2a2a2a" stroke-width="1.7"/>
<path d="M223.64 724.3V724.3M223.64 725.9V725.9" stroke="#2a2a2a" stroke-width="0.9" fill="none"/>
<rect x="220.14" y="724.3" width="7" height="1.6" fill="#7966ff" stroke="#2a2a2a" stroke-width="0.9"/>
<path d="M220.14 725.1H227.14" stroke="#2a2a2a" stroke-width="1.7"/>
<path d="M146.5 684.4V756.6H232" stroke="#2a2a2a" stroke-width="1.05" fill="none"/>
<path d="M144 701.1H146.5" stroke="#2a2a2a" stroke-width="1.05"/>
<text x="142.3" y="704.2" font-size="8.7" text-anchor="end" fill="#444">1.0</text>
<path d="M144 721.7H146.5" stroke="#2a2a2a" stroke-width="1.05"/>
<text x="142.3" y="724.8" font-size="8.7" text-anchor="end" fill="#444">0.5</text>
<path d="M144 742.6H146.5" stroke="#2a2a2a" stroke-width="1.05"/>
<text x="142.3" y="745.7" font-size="8.7" text-anchor="end" fill="#444">0.0</text>
<path d="M158.71 756.6V759.1" stroke="#2a2a2a" stroke-width="1.05"/>
<text transform="translate(161.31,760.9) rotate(-90)" font-size="8.7" text-anchor="end" fill="#444">Control</text>
<path d="M179.07 756.6V759.1" stroke="#2a2a2a" stroke-width="1.05"/>
<text transform="translate(181.67,760.9) rotate(-90)" font-size="8.7" text-anchor="end" fill="#444">15min</text>
<path d="M199.43 756.6V759.1" stroke="#2a2a2a" stroke-width="1.05"/>
<text transform="translate(202.03,760.9) rotate(-90)" font-size="8.7" text-anchor="end" fill="#444">45min</text>
<path d="M219.79 756.6V759.1" stroke="#2a2a2a" stroke-width="1.05"/>
<text transform="translate(222.39,760.9) rotate(-90)" font-size="8.7" text-anchor="end" fill="#444">3h</text>
<text x="232" y="691.9" font-size="8.7" text-anchor="end">CRS q=5e−3</text>
<text x="298.1" y="668" font-size="9.5" text-anchor="middle">Lmod1 in</text>
<text x="298.1" y="679.2" font-size="9.5" text-anchor="middle">vascular</text>
<polyline points="269.17,752.2 289.62,728 310.08,707.7 330.53,709.8" fill="none" stroke="#bebebe" stroke-width="2.5" stroke-linejoin="round"/>
<polyline points="269.17,707.2 289.62,726 310.08,706.5 330.53,716.3" fill="none" stroke="#7966ff" stroke-width="2.5" stroke-linejoin="round"/>
<path d="M265.32 748.4V750.5M265.32 754V754" stroke="#2a2a2a" stroke-width="0.9" fill="none"/>
<rect x="261.82" y="750.5" width="7" height="3.5" fill="#bebebe" stroke="#2a2a2a" stroke-width="0.9"/>
<path d="M261.82 752.2H268.82" stroke="#2a2a2a" stroke-width="1.7"/>
<path d="M273.02 687.6V694.6M273.02 716.5V732.1" stroke="#2a2a2a" stroke-width="0.9" fill="none"/>
<rect x="269.52" y="694.6" width="7" height="21.9" fill="#7966ff" stroke="#2a2a2a" stroke-width="0.9"/>
<path d="M269.52 701.1H276.52" stroke="#2a2a2a" stroke-width="1.7"/>
<path d="M285.77 713V721.2M285.77 731.2V732.6" stroke="#2a2a2a" stroke-width="0.9" fill="none"/>
<rect x="282.27" y="721.2" width="7" height="10" fill="#bebebe" stroke="#2a2a2a" stroke-width="0.9"/>
<path d="M282.27 729.1H289.27" stroke="#2a2a2a" stroke-width="1.7"/>
<path d="M293.47 710.2V717.7M293.47 739.6V753.6" stroke="#2a2a2a" stroke-width="0.9" fill="none"/>
<rect x="289.97" y="717.7" width="7" height="21.9" fill="#7966ff" stroke="#2a2a2a" stroke-width="0.9"/>
<path d="M289.97 725.6H296.97" stroke="#2a2a2a" stroke-width="1.7"/>
<path d="M306.23 695.8V701.4M306.23 713.9V719.5" stroke="#2a2a2a" stroke-width="0.9" fill="none"/>
<rect x="302.73" y="701.4" width="7" height="12.5" fill="#bebebe" stroke="#2a2a2a" stroke-width="0.9"/>
<path d="M302.73 707.7H309.73" stroke="#2a2a2a" stroke-width="1.7"/>
<path d="M313.93 696.2V702.5M313.93 709.3V709.8" stroke="#2a2a2a" stroke-width="0.9" fill="none"/>
<rect x="310.43" y="702.5" width="7" height="6.8" fill="#7966ff" stroke="#2a2a2a" stroke-width="0.9"/>
<path d="M310.43 708.4H317.43" stroke="#2a2a2a" stroke-width="1.7"/>
<path d="M326.68 707.7V708.6M326.68 711.2V711.9" stroke="#2a2a2a" stroke-width="0.9" fill="none"/>
<rect x="323.18" y="708.6" width="7" height="2.6" fill="#bebebe" stroke="#2a2a2a" stroke-width="0.9"/>
<path d="M323.18 709.8H330.18" stroke="#2a2a2a" stroke-width="1.7"/>
<path d="M334.38 712.5V714.7M334.38 717.7V718.2" stroke="#2a2a2a" stroke-width="0.9" fill="none"/>
<rect x="330.88" y="714.7" width="7" height="3" fill="#7966ff" stroke="#2a2a2a" stroke-width="0.9"/>
<path d="M330.88 716.3H337.88" stroke="#2a2a2a" stroke-width="1.7"/>
<path d="M256.9 684.4V756.6H342.8" stroke="#2a2a2a" stroke-width="1.05" fill="none"/>
<path d="M254.4 701.1H256.9" stroke="#2a2a2a" stroke-width="1.05"/>
<text x="252.7" y="704.2" font-size="8.7" text-anchor="end" fill="#444">3</text>
<path d="M254.4 717.7H256.9" stroke="#2a2a2a" stroke-width="1.05"/>
<text x="252.7" y="720.8" font-size="8.7" text-anchor="end" fill="#444">2</text>
<path d="M254.4 734.7H256.9" stroke="#2a2a2a" stroke-width="1.05"/>
<text x="252.7" y="737.8" font-size="8.7" text-anchor="end" fill="#444">1</text>
<path d="M254.4 751.5H256.9" stroke="#2a2a2a" stroke-width="1.05"/>
<text x="252.7" y="754.6" font-size="8.7" text-anchor="end" fill="#444">0</text>
<path d="M269.17 756.6V759.1" stroke="#2a2a2a" stroke-width="1.05"/>
<text transform="translate(271.77,760.9) rotate(-90)" font-size="8.7" text-anchor="end" fill="#444">Control</text>
<path d="M289.62 756.6V759.1" stroke="#2a2a2a" stroke-width="1.05"/>
<text transform="translate(292.22,760.9) rotate(-90)" font-size="8.7" text-anchor="end" fill="#444">15min</text>
<path d="M310.08 756.6V759.1" stroke="#2a2a2a" stroke-width="1.05"/>
<text transform="translate(312.68,760.9) rotate(-90)" font-size="8.7" text-anchor="end" fill="#444">45min</text>
<path d="M330.53 756.6V759.1" stroke="#2a2a2a" stroke-width="1.05"/>
<text transform="translate(333.13,760.9) rotate(-90)" font-size="8.7" text-anchor="end" fill="#444">3h</text>
<text x="342.8" y="691.9" font-size="8.7" text-anchor="end">CRS q=1e−4</text>
<text x="408" y="668" font-size="9.5" text-anchor="middle">Ppp1r14a in</text>
<text x="408" y="679.2" font-size="9.5" text-anchor="middle">vascular</text>
<polyline points="379.66,745.4 399.92,718.9 420.18,710.3 440.44,719" fill="none" stroke="#bebebe" stroke-width="2.5" stroke-linejoin="round"/>
<polyline points="379.66,706.3 399.92,722.5 420.18,713.5 440.44,731.2" fill="none" stroke="#7966ff" stroke-width="2.5" stroke-linejoin="round"/>
<path d="M375.81 737.3V741.4M375.81 749.2V753.3" stroke="#2a2a2a" stroke-width="0.9" fill="none"/>
<rect x="372.31" y="741.4" width="7" height="7.8" fill="#bebebe" stroke="#2a2a2a" stroke-width="0.9"/>
<path d="M372.31 745.4H379.31" stroke="#2a2a2a" stroke-width="1.7"/>
<path d="M383.51 687.6V691.1M383.51 715.4V735.8" stroke="#2a2a2a" stroke-width="0.9" fill="none"/>
<rect x="380.01" y="691.1" width="7" height="24.3" fill="#7966ff" stroke="#2a2a2a" stroke-width="0.9"/>
<path d="M380.01 694.6H387.01" stroke="#2a2a2a" stroke-width="1.7"/>
<path d="M396.07 716.8V717.7M396.07 720V720.7" stroke="#2a2a2a" stroke-width="0.9" fill="none"/>
<rect x="392.57" y="717.7" width="7" height="2.3" fill="#bebebe" stroke="#2a2a2a" stroke-width="0.9"/>
<path d="M392.57 718.9H399.57" stroke="#2a2a2a" stroke-width="1.7"/>
<path d="M403.77 719.5V720.9M403.77 725.2V728.2" stroke="#2a2a2a" stroke-width="0.9" fill="none"/>
<rect x="400.27" y="720.9" width="7" height="4.3" fill="#7966ff" stroke="#2a2a2a" stroke-width="0.9"/>
<path d="M400.27 722.1H407.27" stroke="#2a2a2a" stroke-width="1.7"/>
<path d="M416.33 706.3V708.4M416.33 713V714.2" stroke="#2a2a2a" stroke-width="0.9" fill="none"/>
<rect x="412.83" y="708.4" width="7" height="4.6" fill="#bebebe" stroke="#2a2a2a" stroke-width="0.9"/>
<path d="M412.83 710.3H419.83" stroke="#2a2a2a" stroke-width="1.7"/>
<path d="M424.03 710.7V711.2M424.03 716.5V721.2" stroke="#2a2a2a" stroke-width="0.9" fill="none"/>
<rect x="420.53" y="711.2" width="7" height="5.3" fill="#7966ff" stroke="#2a2a2a" stroke-width="0.9"/>
<path d="M420.53 712.1H427.53" stroke="#2a2a2a" stroke-width="1.7"/>
<path d="M436.59 713.7V716.3M436.59 720.9V721.6" stroke="#2a2a2a" stroke-width="0.9" fill="none"/>
<rect x="433.09" y="716.3" width="7" height="4.6" fill="#bebebe" stroke="#2a2a2a" stroke-width="0.9"/>
<path d="M433.09 720H440.09" stroke="#2a2a2a" stroke-width="1.7"/>
<path d="M444.29 727.3V730M444.29 733.5V734.3" stroke="#2a2a2a" stroke-width="0.9" fill="none"/>
<rect x="440.79" y="730" width="7" height="3.5" fill="#7966ff" stroke="#2a2a2a" stroke-width="0.9"/>
<path d="M440.79 731.2H447.79" stroke="#2a2a2a" stroke-width="1.7"/>
<path d="M367.5 684.4V756.6H452.6" stroke="#2a2a2a" stroke-width="1.05" fill="none"/>
<path d="M365 684.6H367.5" stroke="#2a2a2a" stroke-width="1.05"/>
<text x="363.3" y="687.7" font-size="8.7" text-anchor="end" fill="#444">1.5</text>
<path d="M365 704.9H367.5" stroke="#2a2a2a" stroke-width="1.05"/>
<text x="363.3" y="708" font-size="8.7" text-anchor="end" fill="#444">1.0</text>
<path d="M365 725.2H367.5" stroke="#2a2a2a" stroke-width="1.05"/>
<text x="363.3" y="728.3" font-size="8.7" text-anchor="end" fill="#444">0.5</text>
<path d="M365 745.7H367.5" stroke="#2a2a2a" stroke-width="1.05"/>
<text x="363.3" y="748.8" font-size="8.7" text-anchor="end" fill="#444">0.0</text>
<path d="M379.66 756.6V759.1" stroke="#2a2a2a" stroke-width="1.05"/>
<text transform="translate(382.26,760.9) rotate(-90)" font-size="8.7" text-anchor="end" fill="#444">Control</text>
<path d="M399.92 756.6V759.1" stroke="#2a2a2a" stroke-width="1.05"/>
<text transform="translate(402.52,760.9) rotate(-90)" font-size="8.7" text-anchor="end" fill="#444">15min</text>
<path d="M420.18 756.6V759.1" stroke="#2a2a2a" stroke-width="1.05"/>
<text transform="translate(422.78,760.9) rotate(-90)" font-size="8.7" text-anchor="end" fill="#444">45min</text>
<path d="M440.44 756.6V759.1" stroke="#2a2a2a" stroke-width="1.05"/>
<text transform="translate(443.04,760.9) rotate(-90)" font-size="8.7" text-anchor="end" fill="#444">3h</text>
<text x="452.6" y="691.9" font-size="8.7" text-anchor="end">CRS q=2e−5</text>
<text x="517.7" y="668" font-size="9.5" text-anchor="middle">Zfhx2 in</text>
<text x="517.7" y="679.2" font-size="9.5" text-anchor="middle">OPC</text>
<polyline points="489.06,693.2 509.32,704.5 529.58,711.2 549.84,707.5" fill="none" stroke="#bebebe" stroke-width="2.5" stroke-linejoin="round"/>
<polyline points="489.06,746.6 509.32,720.3 529.58,704.6 549.84,714" fill="none" stroke="#7966ff" stroke-width="2.5" stroke-linejoin="round"/>
<path d="M485.21 687.6V690.2M485.21 696.2V698.4" stroke="#2a2a2a" stroke-width="0.9" fill="none"/>
<rect x="481.71" y="690.2" width="7" height="6" fill="#bebebe" stroke="#2a2a2a" stroke-width="0.9"/>
<path d="M481.71 693.2H488.71" stroke="#2a2a2a" stroke-width="1.7"/>
<path d="M492.91 738.7V746.3M492.91 753.6V753.6" stroke="#2a2a2a" stroke-width="0.9" fill="none"/>
<rect x="489.41" y="746.3" width="7" height="7.3" fill="#7966ff" stroke="#2a2a2a" stroke-width="0.9"/>
<path d="M489.41 753.1H496.41" stroke="#2a2a2a" stroke-width="1.7"/>
<path d="M505.47 699V700.7M505.47 709.3V715.6" stroke="#2a2a2a" stroke-width="0.9" fill="none"/>
<rect x="501.97" y="700.7" width="7" height="8.6" fill="#bebebe" stroke="#2a2a2a" stroke-width="0.9"/>
<path d="M501.97 702.8H508.97" stroke="#2a2a2a" stroke-width="1.7"/>
<path d="M513.17 695.5V712.5M513.17 733.5V738.2" stroke="#2a2a2a" stroke-width="0.9" fill="none"/>
<rect x="509.67" y="712.5" width="7" height="21" fill="#7966ff" stroke="#2a2a2a" stroke-width="0.9"/>
<path d="M509.67 729.1H516.67" stroke="#2a2a2a" stroke-width="1.7"/>
<path d="M525.73 706.3V708.9M525.73 713.3V715.4" stroke="#2a2a2a" stroke-width="0.9" fill="none"/>
<rect x="522.23" y="708.9" width="7" height="4.4" fill="#bebebe" stroke="#2a2a2a" stroke-width="0.9"/>
<path d="M522.23 711.2H529.23" stroke="#2a2a2a" stroke-width="1.7"/>
<path d="M533.43 697.2V701.1M533.43 707.2V709.8" stroke="#2a2a2a" stroke-width="0.9" fill="none"/>
<rect x="529.93" y="701.1" width="7" height="6.1" fill="#7966ff" stroke="#2a2a2a" stroke-width="0.9"/>
<path d="M529.93 704.6H536.93" stroke="#2a2a2a" stroke-width="1.7"/>
<path d="M545.99 697.2V702.3M545.99 712.1V715.6" stroke="#2a2a2a" stroke-width="0.9" fill="none"/>
<rect x="542.49" y="702.3" width="7" height="9.8" fill="#bebebe" stroke="#2a2a2a" stroke-width="0.9"/>
<path d="M542.49 708.6H549.49" stroke="#2a2a2a" stroke-width="1.7"/>
<path d="M553.69 701.1V708.6M553.69 719.5V722.6" stroke="#2a2a2a" stroke-width="0.9" fill="none"/>
<rect x="550.19" y="708.6" width="7" height="10.9" fill="#7966ff" stroke="#2a2a2a" stroke-width="0.9"/>
<path d="M550.19 716.5H557.19" stroke="#2a2a2a" stroke-width="1.7"/>
<path d="M476.9 684.4V756.6H562" stroke="#2a2a2a" stroke-width="1.05" fill="none"/>
<path d="M474.4 693.2H476.9" stroke="#2a2a2a" stroke-width="1.05"/>
<text x="472.7" y="696.3" font-size="8.7" text-anchor="end" fill="#444">0.0</text>
<path d="M474.4 712.1H476.9" stroke="#2a2a2a" stroke-width="1.05"/>
<text x="472.7" y="715.2" font-size="8.7" text-anchor="end" fill="#444">−0.1</text>
<path d="M474.4 730.8H476.9" stroke="#2a2a2a" stroke-width="1.05"/>
<text x="472.7" y="733.9" font-size="8.7" text-anchor="end" fill="#444">−0.2</text>
<path d="M474.4 749.8H476.9" stroke="#2a2a2a" stroke-width="1.05"/>
<text x="472.7" y="752.9" font-size="8.7" text-anchor="end" fill="#444">−0.3</text>
<path d="M489.06 756.6V759.1" stroke="#2a2a2a" stroke-width="1.05"/>
<text transform="translate(491.66,760.9) rotate(-90)" font-size="8.7" text-anchor="end" fill="#444">Control</text>
<path d="M509.32 756.6V759.1" stroke="#2a2a2a" stroke-width="1.05"/>
<text transform="translate(511.92,760.9) rotate(-90)" font-size="8.7" text-anchor="end" fill="#444">15min</text>
<path d="M529.58 756.6V759.1" stroke="#2a2a2a" stroke-width="1.05"/>
<text transform="translate(532.18,760.9) rotate(-90)" font-size="8.7" text-anchor="end" fill="#444">45min</text>
<path d="M549.84 756.6V759.1" stroke="#2a2a2a" stroke-width="1.05"/>
<text transform="translate(552.44,760.9) rotate(-90)" font-size="8.7" text-anchor="end" fill="#444">3h</text>
<text x="562" y="691.9" font-size="8.7" text-anchor="end">CRS q=3e−2</text>
<text x="-0.3" y="514.4" font-size="17">B</text>
<text x="0" y="668.8" font-size="17">C</text>
<text x="581.3" y="705" font-size="8.7">Treatment</text>
<path d="M589.1 712.8V726" stroke="#2a2a2a" stroke-width="0.9"/>
<rect x="582.4" y="714.9" width="13.4" height="9" fill="#bebebe" stroke="#2a2a2a" stroke-width="0.9"/>
<path d="M582.4 719.4H595.8" stroke="#2a2a2a" stroke-width="1.7"/>
<text x="602.7" y="722.5" font-size="8.7">Handling +ARS</text>
<path d="M589.1 729.2V742.4" stroke="#2a2a2a" stroke-width="0.9"/>
<rect x="582.4" y="731.3" width="13.4" height="9" fill="#7966ff" stroke="#2a2a2a" stroke-width="0.9"/>
<path d="M582.4 735.8H595.8" stroke="#2a2a2a" stroke-width="1.7"/>
<text x="602.7" y="738.9" font-size="8.7">CRS +ARS</text>
</svg>
</body></html>
